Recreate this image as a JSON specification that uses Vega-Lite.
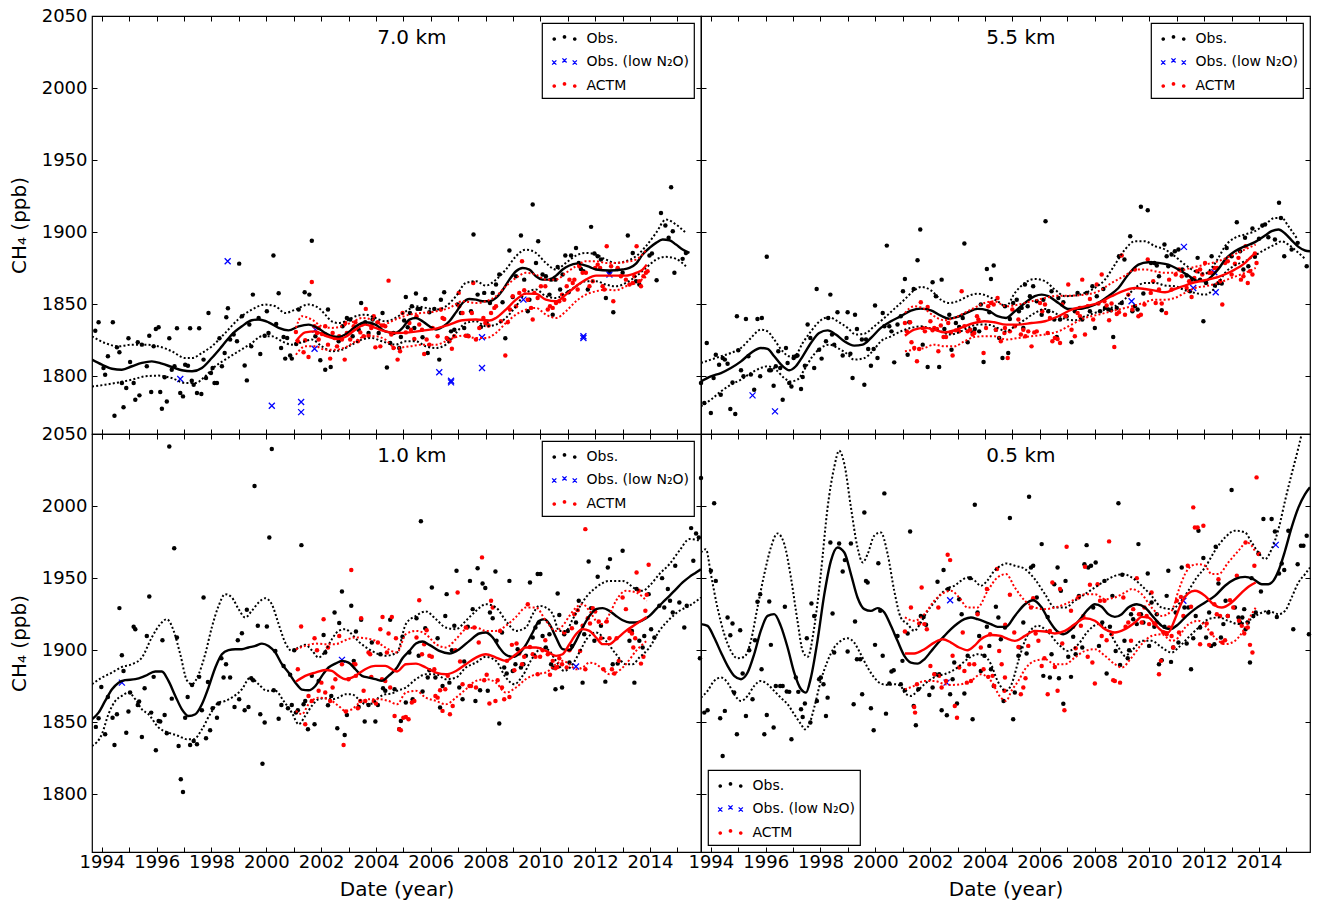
{
"$schema":"https://vega.github.io/schema/vega-lite/v6.json",
"padding":{"left":8,"top":6,"right":5,"bottom":5},
"background":"white",
"config":{
 "view":{"stroke":"black","strokeWidth":1.2},
 "font":"DejaVu Sans",
 "axis":{"grid":false,"domain":false,"tickColor":"black","tickSize":-5,"tickWidth":1,"labelFontSize":18,"labelColor":"black","labelFont":"DejaVu Sans","titleFont":"DejaVu Sans","titleFontSize":20,"titleFontWeight":"normal","titleColor":"black","labelFlush":false,"labelOverlap":false},
 "legend":{"strokeColor":"black","fillColor":"white","padding":5,"rowPadding":5.5,"symbolSize":420,"labelFontSize":14,"labelFont":"DejaVu Sans","labelColor":"black","offset":7,"symbolOffset":7,"labelOffset":11.5,"cornerRadius":0,"strokeWidth":1.2,"symbolStrokeWidth":0}
},
"data":{"values":[
{"p":"a","s":"t","x":2005.31,"y":2034.7,"t":"7.0 km"},
{"p":"b","s":"t","x":2005.31,"y":2034.7,"t":"5.5 km"},
{"p":"c","s":"t","x":2005.31,"y":2034.7,"t":"1.0 km"},
{"p":"d","s":"t","x":2005.31,"y":2034.7,"t":"0.5 km"},

{"p":"a","s":"o","x":1993.76,"y":1831.7},{"p":"a","s":"o","x":1993.88,"y":1837.5},{"p":"a","s":"o","x":1994.06,"y":1805.8},{"p":"a","s":"o","x":1994.12,"y":1801.1},{"p":"a","s":"o","x":1994.22,"y":1813.9},{"p":"a","s":"o","x":1994.40,"y":1837.5},{"p":"a","s":"o","x":1994.46,"y":1772.7},{"p":"a","s":"o","x":1994.55,"y":1820.1},{"p":"a","s":"o","x":1994.64,"y":1816.7},{"p":"a","s":"o","x":1994.73,"y":1795.4},{"p":"a","s":"o","x":1994.79,"y":1778.5},{"p":"a","s":"o","x":1994.89,"y":1791.9},{"p":"a","s":"o","x":1994.97,"y":1826.4},{"p":"a","s":"o","x":1995.03,"y":1810},{"p":"a","s":"o","x":1995.16,"y":1795.4},{"p":"a","s":"o","x":1995.22,"y":1783.8},{"p":"a","s":"o","x":1995.31,"y":1823.6},{"p":"a","s":"o","x":1995.37,"y":1786.8},{"p":"a","s":"o","x":1995.46,"y":1822},{"p":"a","s":"o","x":1995.64,"y":1807},{"p":"a","s":"o","x":1995.73,"y":1828.2},{"p":"a","s":"o","x":1995.80,"y":1789.1},{"p":"a","s":"o","x":1995.89,"y":1820.8},{"p":"a","s":"o","x":1995.97,"y":1832.9},{"p":"a","s":"o","x":1996.07,"y":1834},{"p":"a","s":"o","x":1996.13,"y":1789.1},{"p":"a","s":"o","x":1996.19,"y":1777.5},{"p":"a","s":"o","x":1996.29,"y":1799.3},{"p":"a","s":"o","x":1996.37,"y":1782.6},{"p":"a","s":"o","x":1996.46,"y":1826.4},{"p":"a","s":"o","x":1996.55,"y":1804.6},{"p":"a","s":"o","x":1996.65,"y":1807},{"p":"a","s":"o","x":1996.74,"y":1833.3},{"p":"a","s":"o","x":1996.86,"y":1788.4},{"p":"a","s":"o","x":1996.96,"y":1786.1},{"p":"a","s":"o","x":1997.04,"y":1808.1},{"p":"a","s":"o","x":1997.14,"y":1807.4},{"p":"a","s":"o","x":1997.22,"y":1833.3},{"p":"a","s":"o","x":1997.28,"y":1797},{"p":"a","s":"o","x":1997.35,"y":1794.2},{"p":"a","s":"o","x":1997.47,"y":1788.4},{"p":"a","s":"o","x":1997.55,"y":1833.3},{"p":"a","s":"o","x":1997.63,"y":1787.7},{"p":"a","s":"o","x":1997.71,"y":1811.6},{"p":"a","s":"o","x":1997.80,"y":1798.8},{"p":"a","s":"o","x":1997.89,"y":1844},{"p":"a","s":"o","x":1997.98,"y":1802.3},{"p":"a","s":"o","x":1998.04,"y":1805.8},{"p":"a","s":"o","x":1998.11,"y":1795.4},{"p":"a","s":"o","x":1998.20,"y":1795.4},{"p":"a","s":"o","x":1998.29,"y":1826.4},{"p":"a","s":"o","x":1998.38,"y":1807},{"p":"a","s":"o","x":1998.48,"y":1816.2},{"p":"a","s":"o","x":1998.54,"y":1841},{"p":"a","s":"o","x":1998.60,"y":1847.2},{"p":"a","s":"o","x":1998.68,"y":1825.5},{"p":"a","s":"o","x":1998.81,"y":1829},{"p":"a","s":"o","x":1998.93,"y":1824.3},{"p":"a","s":"o","x":1999.01,"y":1878.2},{"p":"a","s":"o","x":1999.11,"y":1841.7},{"p":"a","s":"o","x":1999.21,"y":1807.6},{"p":"a","s":"o","x":1999.29,"y":1797.2},{"p":"a","s":"o","x":1999.38,"y":1835.9},{"p":"a","s":"o","x":1999.45,"y":1820.8},{"p":"a","s":"o","x":1999.51,"y":1856.7},{"p":"a","s":"o","x":1999.72,"y":1840.5},{"p":"a","s":"o","x":1999.78,"y":1815.5},{"p":"a","s":"o","x":1999.94,"y":1828.2},{"p":"a","s":"o","x":2000.02,"y":1845.1},{"p":"a","s":"o","x":2000.08,"y":1830.1},{"p":"a","s":"o","x":2000.26,"y":1883.8},{"p":"a","s":"o","x":2000.36,"y":1836.3},{"p":"a","s":"o","x":2000.45,"y":1857.6},{"p":"a","s":"o","x":2000.54,"y":1819.7},{"p":"a","s":"o","x":2000.63,"y":1827.3},{"p":"a","s":"o","x":2000.69,"y":1812.3},{"p":"a","s":"o","x":2000.76,"y":1826.6},{"p":"a","s":"o","x":2000.87,"y":1814.4},{"p":"a","s":"o","x":2000.93,"y":1812.3},{"p":"a","s":"o","x":2001.09,"y":1822.5},{"p":"a","s":"o","x":2001.18,"y":1846.3},{"p":"a","s":"o","x":2001.40,"y":1858.3},{"p":"a","s":"o","x":2001.57,"y":1856.7},{"p":"a","s":"o","x":2001.66,"y":1894},{"p":"a","s":"o","x":2001.79,"y":1827.8},{"p":"a","s":"o","x":2001.97,"y":1811.1},{"p":"a","s":"o","x":2002.15,"y":1804.6},{"p":"a","s":"o","x":2002.25,"y":1846.3},{"p":"a","s":"o","x":2002.35,"y":1806.5},{"p":"a","s":"o","x":2002.64,"y":1824.3},{"p":"a","s":"o","x":2002.78,"y":1834.7},{"p":"a","s":"o","x":2002.94,"y":1840.5},{"p":"a","s":"o","x":2003.06,"y":1839.4},{"p":"a","s":"o","x":2003.15,"y":1827.8},{"p":"a","s":"o","x":2003.37,"y":1832.4},{"p":"a","s":"o","x":2003.46,"y":1850.9},{"p":"a","s":"o","x":2003.61,"y":1837.5},{"p":"a","s":"o","x":2003.73,"y":1830.1},{"p":"a","s":"o","x":2003.88,"y":1839.4},{"p":"a","s":"o","x":2004.10,"y":1830.1},{"p":"a","s":"o","x":2004.24,"y":1844},{"p":"a","s":"o","x":2004.40,"y":1806.2},{"p":"a","s":"o","x":2004.52,"y":1823.1},{"p":"a","s":"o","x":2004.64,"y":1830.1},
{"p":"a","s":"o","x":2004.85,"y":1819.7},{"p":"a","s":"o","x":2004.91,"y":1827.3},{"p":"a","s":"o","x":2005.03,"y":1838.7},{"p":"a","s":"o","x":2005.09,"y":1855.1},{"p":"a","s":"o","x":2005.16,"y":1834},{"p":"a","s":"o","x":2005.24,"y":1844},{"p":"a","s":"o","x":2005.31,"y":1848.6},{"p":"a","s":"o","x":2005.40,"y":1833.6},{"p":"a","s":"o","x":2005.46,"y":1857.4},{"p":"a","s":"o","x":2005.52,"y":1846.8},{"p":"a","s":"o","x":2005.61,"y":1846.8},{"p":"a","s":"o","x":2005.70,"y":1827.1},{"p":"a","s":"o","x":2005.80,"y":1853.7},{"p":"a","s":"o","x":2005.89,"y":1816.2},{"p":"a","s":"o","x":2005.95,"y":1844.4},{"p":"a","s":"o","x":2006.13,"y":1846.8},{"p":"a","s":"o","x":2006.31,"y":1811.6},{"p":"a","s":"o","x":2006.37,"y":1853.2},{"p":"a","s":"o","x":2006.49,"y":1858.3},{"p":"a","s":"o","x":2006.62,"y":1825.9},{"p":"a","s":"o","x":2006.74,"y":1831.2},{"p":"a","s":"o","x":2006.86,"y":1832.4},{"p":"a","s":"o","x":2006.98,"y":1849.8},{"p":"a","s":"o","x":2007.10,"y":1844},{"p":"a","s":"o","x":2007.22,"y":1833.6},{"p":"a","s":"o","x":2007.35,"y":1828.2},{"p":"a","s":"o","x":2007.47,"y":1845.1},{"p":"a","s":"o","x":2007.56,"y":1898.4},{"p":"a","s":"o","x":2007.71,"y":1856.7},{"p":"a","s":"o","x":2007.83,"y":1834.3},{"p":"a","s":"o","x":2007.95,"y":1857.9},{"p":"a","s":"o","x":2008.04,"y":1837},{"p":"a","s":"o","x":2008.16,"y":1850.9},{"p":"a","s":"o","x":2008.26,"y":1857.9},{"p":"a","s":"o","x":2008.38,"y":1863.7},{"p":"a","s":"o","x":2008.50,"y":1870.6},{"p":"a","s":"o","x":2008.62,"y":1851.4},{"p":"a","s":"o","x":2008.72,"y":1826.4},{"p":"a","s":"o","x":2008.87,"y":1887.3},{"p":"a","s":"o","x":2008.99,"y":1855.1},{"p":"a","s":"o","x":2009.11,"y":1869.4},{"p":"a","s":"o","x":2009.29,"y":1897.7},{"p":"a","s":"o","x":2009.41,"y":1867.1},{"p":"a","s":"o","x":2009.54,"y":1845.1},{"p":"a","s":"o","x":2009.60,"y":1853.2},{"p":"a","s":"o","x":2009.72,"y":1919.2},{"p":"a","s":"o","x":2009.84,"y":1878.7},{"p":"a","s":"o","x":2009.92,"y":1893.7},{"p":"a","s":"o","x":2010.08,"y":1870.6},{"p":"a","s":"o","x":2010.20,"y":1869.4},{"p":"a","s":"o","x":2010.33,"y":1856.7},{"p":"a","s":"o","x":2010.39,"y":1867.1},{"p":"a","s":"o","x":2010.45,"y":1842.8},{"p":"a","s":"o","x":2010.55,"y":1867.1},{"p":"a","s":"o","x":2010.63,"y":1875.9},{"p":"a","s":"o","x":2010.72,"y":1860.2},{"p":"a","s":"o","x":2010.81,"y":1870.6},{"p":"a","s":"o","x":2010.91,"y":1883.8},{"p":"a","s":"o","x":2011.03,"y":1858.3},{"p":"a","s":"o","x":2011.12,"y":1883.8},{"p":"a","s":"o","x":2011.30,"y":1889.1},{"p":"a","s":"o","x":2011.40,"y":1878.7},{"p":"a","s":"o","x":2011.48,"y":1874.5},{"p":"a","s":"o","x":2011.57,"y":1872.9},{"p":"a","s":"o","x":2011.73,"y":1860.2},{"p":"a","s":"o","x":2011.85,"y":1903.7},{"p":"a","s":"o","x":2011.97,"y":1885.2},{"p":"a","s":"o","x":2012.09,"y":1883.3},{"p":"a","s":"o","x":2012.21,"y":1881},{"p":"a","s":"o","x":2012.39,"y":1854.4},{"p":"a","s":"o","x":2012.52,"y":1871.8},{"p":"a","s":"o","x":2012.66,"y":1844.4},{"p":"a","s":"o","x":2012.82,"y":1874.5},{"p":"a","s":"o","x":2013.00,"y":1871.8},{"p":"a","s":"o","x":2013.19,"y":1897.7},{"p":"a","s":"o","x":2013.37,"y":1885.6},{"p":"a","s":"o","x":2013.49,"y":1866},{"p":"a","s":"o","x":2013.61,"y":1863.7},{"p":"a","s":"o","x":2013.98,"y":1883.8},{"p":"a","s":"o","x":2014.07,"y":1885.2},{"p":"a","s":"o","x":2014.24,"y":1866.7},{"p":"a","s":"o","x":2014.40,"y":1913.4},{"p":"a","s":"o","x":2014.56,"y":1904.6},{"p":"a","s":"o","x":2014.68,"y":1896.1},{"p":"a","s":"o","x":2014.83,"y":1900.7},{"p":"a","s":"o","x":2014.89,"y":1871.8},{"p":"a","s":"o","x":2015.19,"y":1881.5},{"p":"a","s":"o","x":2015.31,"y":1885.6},{"p":"a","s":"o","x":2014.77,"y":1931.2},

{"p":"a","s":"n","x":1998.59,"y":1879.9},{"p":"a","s":"n","x":1996.86,"y":1798.1},{"p":"a","s":"n","x":2000.20,"y":1779.6},{"p":"a","s":"n","x":2001.27,"y":1782.2},{"p":"a","s":"n","x":2001.27,"y":1775.2},{"p":"a","s":"n","x":2001.76,"y":1819.2},{"p":"a","s":"n","x":2001.79,"y":1832.4},{"p":"a","s":"n","x":2006.31,"y":1802.8},{"p":"a","s":"n","x":2006.74,"y":1797},{"p":"a","s":"n","x":2006.74,"y":1795.8},{"p":"a","s":"n","x":2007.87,"y":1805.8},{"p":"a","s":"n","x":2007.87,"y":1827.1},{"p":"a","s":"n","x":2009.38,"y":1853.2},{"p":"a","s":"n","x":2011.57,"y":1827.8},{"p":"a","s":"n","x":2011.57,"y":1826.6},{"p":"a","s":"n","x":2012.52,"y":1870.6},

{"p":"a","s":"m","x":2001.08,"y":1830.8},{"p":"a","s":"m","x":2001.15,"y":1824.3},{"p":"a","s":"m","x":2001.36,"y":1816.7},{"p":"a","s":"m","x":2001.42,"y":1825},{"p":"a","s":"m","x":2001.54,"y":1813.4},{"p":"a","s":"m","x":2001.66,"y":1865.5},{"p":"a","s":"m","x":2001.76,"y":1834.7},{"p":"a","s":"m","x":2001.85,"y":1830.1},{"p":"a","s":"m","x":2001.91,"y":1825.5},{"p":"a","s":"m","x":2002.03,"y":1829.4},{"p":"a","s":"m","x":2002.15,"y":1829},{"p":"a","s":"m","x":2002.25,"y":1822},{"p":"a","s":"m","x":2002.33,"y":1812.3},{"p":"a","s":"m","x":2002.42,"y":1830.1},{"p":"a","s":"m","x":2002.49,"y":1826.6},{"p":"a","s":"m","x":2002.58,"y":1820.8},{"p":"a","s":"m","x":2002.66,"y":1827.8},{"p":"a","s":"m","x":2002.76,"y":1825.5},{"p":"a","s":"m","x":2002.86,"y":1811.6},{"p":"a","s":"m","x":2002.94,"y":1830.1},{"p":"a","s":"m","x":2003.06,"y":1825.5},{"p":"a","s":"m","x":2003.15,"y":1832.4},{"p":"a","s":"m","x":2003.25,"y":1837.5},{"p":"a","s":"m","x":2003.34,"y":1824.3},{"p":"a","s":"m","x":2003.43,"y":1830.5},{"p":"a","s":"m","x":2003.55,"y":1827.8},{"p":"a","s":"m","x":2003.63,"y":1846.8},{"p":"a","s":"m","x":2003.73,"y":1828.2},{"p":"a","s":"m","x":2003.83,"y":1833.6},{"p":"a","s":"m","x":2003.92,"y":1841.7},{"p":"a","s":"m","x":2003.98,"y":1820.1},{"p":"a","s":"m","x":2004.07,"y":1837.5},{"p":"a","s":"m","x":2004.16,"y":1820.8},{"p":"a","s":"m","x":2004.22,"y":1835.2},{"p":"a","s":"m","x":2004.34,"y":1834.7},{"p":"a","s":"m","x":2004.46,"y":1866.4},{"p":"a","s":"m","x":2004.56,"y":1829},{"p":"a","s":"m","x":2004.64,"y":1819.7},{"p":"a","s":"m","x":2001.91,"y":1833.6},{"p":"a","s":"m","x":2002.15,"y":1834.7},{"p":"a","s":"m","x":2002.88,"y":1837},{"p":"a","s":"m","x":2003.19,"y":1834.7},{"p":"a","s":"m","x":2003.49,"y":1835.9},{"p":"a","s":"m","x":2003.85,"y":1835.9},
{"p":"a","s":"m","x":2004.79,"y":1811.6},{"p":"a","s":"m","x":2004.88,"y":1817.4},{"p":"a","s":"m","x":2004.97,"y":1844},{"p":"a","s":"m","x":2005.09,"y":1830.5},{"p":"a","s":"m","x":2005.22,"y":1837},{"p":"a","s":"m","x":2005.28,"y":1832.4},{"p":"a","s":"m","x":2005.40,"y":1825.9},{"p":"a","s":"m","x":2005.48,"y":1841.7},{"p":"a","s":"m","x":2005.58,"y":1835.9},{"p":"a","s":"m","x":2005.68,"y":1832.4},{"p":"a","s":"m","x":2005.76,"y":1815.5},{"p":"a","s":"m","x":2005.85,"y":1825.5},{"p":"a","s":"m","x":2005.95,"y":1822},{"p":"a","s":"m","x":2006.07,"y":1833.6},{"p":"a","s":"m","x":2006.25,"y":1827.8},{"p":"a","s":"m","x":2006.37,"y":1846.3},{"p":"a","s":"m","x":2006.43,"y":1840.5},{"p":"a","s":"m","x":2006.49,"y":1839.8},{"p":"a","s":"m","x":2006.58,"y":1826.6},{"p":"a","s":"m","x":2006.68,"y":1824.3},{"p":"a","s":"m","x":2006.77,"y":1819.2},{"p":"a","s":"m","x":2006.86,"y":1827.8},{"p":"a","s":"m","x":2007.02,"y":1857.9},{"p":"a","s":"m","x":2007.04,"y":1848.6},{"p":"a","s":"m","x":2007.16,"y":1844},{"p":"a","s":"m","x":2007.28,"y":1828.2},{"p":"a","s":"m","x":2007.38,"y":1827.8},{"p":"a","s":"m","x":2007.50,"y":1844},{"p":"a","s":"m","x":2007.55,"y":1864.8},{"p":"a","s":"m","x":2007.65,"y":1825.5},{"p":"a","s":"m","x":2007.77,"y":1833.6},{"p":"a","s":"m","x":2007.92,"y":1840.5},{"p":"a","s":"m","x":2007.99,"y":1837},{"p":"a","s":"m","x":2008.11,"y":1835.2},{"p":"a","s":"m","x":2008.20,"y":1844},{"p":"a","s":"m","x":2008.32,"y":1847.5},{"p":"a","s":"m","x":2008.38,"y":1848.6},{"p":"a","s":"m","x":2008.56,"y":1838.2},{"p":"a","s":"m","x":2008.72,"y":1814.4},{"p":"a","s":"m","x":2008.81,"y":1837.5},{"p":"a","s":"m","x":2008.89,"y":1846.3},{"p":"a","s":"m","x":2008.99,"y":1855.6},{"p":"a","s":"m","x":2009.11,"y":1848.6},{"p":"a","s":"m","x":2009.23,"y":1857.9},{"p":"a","s":"m","x":2009.33,"y":1879.9},{"p":"a","s":"m","x":2009.41,"y":1859.7},{"p":"a","s":"m","x":2009.54,"y":1853.2},{"p":"a","s":"m","x":2009.66,"y":1847.5},{"p":"a","s":"m","x":2009.72,"y":1839.4},{"p":"a","s":"m","x":2009.78,"y":1857.9},{"p":"a","s":"m","x":2009.90,"y":1854.4},{"p":"a","s":"m","x":2010.02,"y":1862.5},{"p":"a","s":"m","x":2010.18,"y":1862.5},{"p":"a","s":"m","x":2010.27,"y":1846.3},{"p":"a","s":"m","x":2010.35,"y":1848.6},{"p":"a","s":"m","x":2010.45,"y":1847.5},{"p":"a","s":"m","x":2010.57,"y":1850.9},{"p":"a","s":"m","x":2010.69,"y":1852.1},{"p":"a","s":"m","x":2010.79,"y":1856.7},{"p":"a","s":"m","x":2010.87,"y":1853.2},{"p":"a","s":"m","x":2010.96,"y":1862.5},{"p":"a","s":"m","x":2011.06,"y":1867.1},{"p":"a","s":"m","x":2011.18,"y":1864.8},{"p":"a","s":"m","x":2011.24,"y":1867.1},{"p":"a","s":"m","x":2011.36,"y":1860.2},{"p":"a","s":"m","x":2011.42,"y":1876.4},{"p":"a","s":"m","x":2011.54,"y":1871.8},{"p":"a","s":"m","x":2011.66,"y":1871.8},{"p":"a","s":"m","x":2011.79,"y":1862.5},{"p":"a","s":"m","x":2011.91,"y":1866},{"p":"a","s":"m","x":2012.00,"y":1875.2},{"p":"a","s":"m","x":2012.09,"y":1877.5},{"p":"a","s":"m","x":2012.18,"y":1875.2},{"p":"a","s":"m","x":2012.27,"y":1862.5},{"p":"a","s":"m","x":2012.33,"y":1860.2},{"p":"a","s":"m","x":2012.42,"y":1890.3},{"p":"a","s":"m","x":2012.58,"y":1876.4},{"p":"a","s":"m","x":2012.66,"y":1852.1},{"p":"a","s":"m","x":2012.82,"y":1875.2},{"p":"a","s":"m","x":2012.94,"y":1869.4},{"p":"a","s":"m","x":2013.12,"y":1867.1},{"p":"a","s":"m","x":2013.25,"y":1863.7},{"p":"a","s":"m","x":2013.37,"y":1864.8},{"p":"a","s":"m","x":2013.43,"y":1869.4},{"p":"a","s":"m","x":2013.51,"y":1890.3},{"p":"a","s":"m","x":2013.61,"y":1866},{"p":"a","s":"m","x":2013.67,"y":1862.5},{"p":"a","s":"m","x":2013.76,"y":1869.4},{"p":"a","s":"m","x":2013.85,"y":1871.8},{"p":"a","s":"m","x":2013.91,"y":1872.9},

{"p":"a","s":"of","x":1993.64,"y":1811.6},{"p":"a","s":"of","x":1994.00,"y":1808.1},{"p":"a","s":"of","x":1994.37,"y":1805.3},{"p":"a","s":"of","x":1994.73,"y":1804.6},{"p":"a","s":"of","x":1995.10,"y":1807},{"p":"a","s":"of","x":1995.46,"y":1809.3},{"p":"a","s":"of","x":1995.82,"y":1810.4},{"p":"a","s":"of","x":1996.19,"y":1808.8},{"p":"a","s":"of","x":1996.55,"y":1806.5},{"p":"a","s":"of","x":1996.92,"y":1804.2},{"p":"a","s":"of","x":1997.29,"y":1803.5},{"p":"a","s":"of","x":1997.65,"y":1805.8},{"p":"a","s":"of","x":1998.01,"y":1812.7},{"p":"a","s":"of","x":1998.38,"y":1820.8},{"p":"a","s":"of","x":1998.74,"y":1829},{"p":"a","s":"of","x":1999.11,"y":1834.7},{"p":"a","s":"of","x":1999.47,"y":1838.9},{"p":"a","s":"of","x":1999.72,"y":1839.4},{"p":"a","s":"of","x":2000.08,"y":1837.5},{"p":"a","s":"of","x":2000.45,"y":1833.6},{"p":"a","s":"of","x":2000.81,"y":1831.9},{"p":"a","s":"of","x":2001.18,"y":1834.7},{"p":"a","s":"of","x":2001.54,"y":1835.9},{"p":"a","s":"of","x":2001.91,"y":1833.1},{"p":"a","s":"of","x":2002.15,"y":1830.1},{"p":"a","s":"of","x":2002.39,"y":1827.8},{"p":"a","s":"of","x":2002.64,"y":1827.3},{"p":"a","s":"of","x":2002.88,"y":1829},{"p":"a","s":"of","x":2003.12,"y":1832.4},{"p":"a","s":"of","x":2003.37,"y":1835.9},{"p":"a","s":"of","x":2003.61,"y":1837.5},{"p":"a","s":"of","x":2003.98,"y":1835.9},{"p":"a","s":"of","x":2004.34,"y":1831.2},{"p":"a","s":"of","x":2004.71,"y":1830.1},{"p":"a","s":"of","x":2004.97,"y":1833.6},{"p":"a","s":"of","x":2005.22,"y":1839.4},{"p":"a","s":"of","x":2005.46,"y":1840.5},{"p":"a","s":"of","x":2005.70,"y":1838.2},{"p":"a","s":"of","x":2005.95,"y":1834.7},{"p":"a","s":"of","x":2006.19,"y":1832.4},{"p":"a","s":"of","x":2006.43,"y":1834.3},{"p":"a","s":"of","x":2006.68,"y":1838.2},{"p":"a","s":"of","x":2006.92,"y":1844.4},{"p":"a","s":"of","x":2007.16,"y":1850.9},{"p":"a","s":"of","x":2007.41,"y":1853.7},{"p":"a","s":"of","x":2007.65,"y":1853.2},{"p":"a","s":"of","x":2007.89,"y":1852.1},{"p":"a","s":"of","x":2008.14,"y":1852.1},{"p":"a","s":"of","x":2008.38,"y":1854.4},{"p":"a","s":"of","x":2008.62,"y":1859.7},{"p":"a","s":"of","x":2008.87,"y":1867.1},{"p":"a","s":"of","x":2009.11,"y":1872.9},{"p":"a","s":"of","x":2009.35,"y":1875.2},{"p":"a","s":"of","x":2009.60,"y":1874.1},{"p":"a","s":"of","x":2009.84,"y":1869.4},{"p":"a","s":"of","x":2010.08,"y":1867.1},{"p":"a","s":"of","x":2010.33,"y":1867.1},{"p":"a","s":"of","x":2010.57,"y":1869.9},{"p":"a","s":"of","x":2010.81,"y":1874.1},{"p":"a","s":"of","x":2011.06,"y":1876.9},{"p":"a","s":"of","x":2011.30,"y":1878.2},{"p":"a","s":"of","x":2011.54,"y":1877.5},{"p":"a","s":"of","x":2011.79,"y":1875.9},{"p":"a","s":"of","x":2012.03,"y":1874.1},{"p":"a","s":"of","x":2012.52,"y":1873.4},{"p":"a","s":"of","x":2013.00,"y":1874.1},{"p":"a","s":"of","x":2013.25,"y":1875.2},{"p":"a","s":"of","x":2013.49,"y":1878.2},{"p":"a","s":"of","x":2013.73,"y":1884.5},{"p":"a","s":"of","x":2013.98,"y":1889.1},{"p":"a","s":"of","x":2014.22,"y":1892.6},{"p":"a","s":"of","x":2014.46,"y":1894.9},{"p":"a","s":"of","x":2014.71,"y":1894.4},{"p":"a","s":"of","x":2014.95,"y":1891.4},{"p":"a","s":"of","x":2015.19,"y":1888},{"p":"a","s":"of","x":2015.44,"y":1885.6},

{"p":"a","s":"oh","x":1993.64,"y":1827.8},{"p":"a","s":"oh","x":1994.12,"y":1823.1},{"p":"a","s":"oh","x":1994.61,"y":1820.8},{"p":"a","s":"oh","x":1995.10,"y":1822},{"p":"a","s":"oh","x":1995.58,"y":1822},{"p":"a","s":"oh","x":1996.07,"y":1820.8},{"p":"a","s":"oh","x":1996.55,"y":1817.4},{"p":"a","s":"oh","x":1997.04,"y":1812.7},{"p":"a","s":"oh","x":1997.29,"y":1812.7},{"p":"a","s":"oh","x":1997.65,"y":1816.2},{"p":"a","s":"oh","x":1998.01,"y":1820.8},{"p":"a","s":"oh","x":1998.50,"y":1830.1},{"p":"a","s":"oh","x":1998.99,"y":1839.8},{"p":"a","s":"oh","x":1999.47,"y":1846.3},{"p":"a","s":"oh","x":1999.96,"y":1849.8},{"p":"a","s":"oh","x":2000.33,"y":1848.6},{"p":"a","s":"oh","x":2000.69,"y":1844},{"p":"a","s":"oh","x":2001.06,"y":1846.3},{"p":"a","s":"oh","x":2001.54,"y":1849.8},{"p":"a","s":"oh","x":2001.91,"y":1847.5},{"p":"a","s":"oh","x":2002.15,"y":1842.8},{"p":"a","s":"oh","x":2002.39,"y":1838.2},{"p":"a","s":"oh","x":2002.64,"y":1837},{"p":"a","s":"oh","x":2002.88,"y":1838.2},{"p":"a","s":"oh","x":2003.25,"y":1841.7},{"p":"a","s":"oh","x":2003.61,"y":1842.8},{"p":"a","s":"oh","x":2003.98,"y":1840.5},{"p":"a","s":"oh","x":2004.34,"y":1838.2},{"p":"a","s":"oh","x":2004.71,"y":1840.5},{"p":"a","s":"oh","x":2005.09,"y":1845.1},{"p":"a","s":"oh","x":2005.46,"y":1848.6},{"p":"a","s":"oh","x":2005.82,"y":1847.5},{"p":"a","s":"oh","x":2006.19,"y":1846.3},{"p":"a","s":"oh","x":2006.55,"y":1848.6},{"p":"a","s":"oh","x":2006.92,"y":1855.6},{"p":"a","s":"oh","x":2007.28,"y":1864.8},{"p":"a","s":"oh","x":2007.65,"y":1866},{"p":"a","s":"oh","x":2008.01,"y":1863},{"p":"a","s":"oh","x":2008.38,"y":1867.1},{"p":"a","s":"oh","x":2008.74,"y":1874.1},{"p":"a","s":"oh","x":2009.11,"y":1883.3},{"p":"a","s":"oh","x":2009.47,"y":1887.9},{"p":"a","s":"oh","x":2009.84,"y":1885.6},{"p":"a","s":"oh","x":2010.20,"y":1878.7},{"p":"a","s":"oh","x":2010.57,"y":1874.1},{"p":"a","s":"oh","x":2010.93,"y":1878.7},{"p":"a","s":"oh","x":2011.30,"y":1883.8},{"p":"a","s":"oh","x":2011.66,"y":1885.6},{"p":"a","s":"oh","x":2012.03,"y":1884.5},{"p":"a","s":"oh","x":2012.39,"y":1881},{"p":"a","s":"oh","x":2012.76,"y":1878.7},{"p":"a","s":"oh","x":2013.12,"y":1879.9},{"p":"a","s":"oh","x":2013.49,"y":1883.3},{"p":"a","s":"oh","x":2013.85,"y":1890.3},{"p":"a","s":"oh","x":2014.22,"y":1899.5},{"p":"a","s":"oh","x":2014.58,"y":1908.8},{"p":"a","s":"oh","x":2014.95,"y":1905.3},{"p":"a","s":"oh","x":2015.31,"y":1899.5},

{"p":"a","s":"ol","x":1993.64,"y":1793},{"p":"a","s":"ol","x":1994.12,"y":1794.2},{"p":"a","s":"ol","x":1994.61,"y":1795.8},{"p":"a","s":"ol","x":1995.10,"y":1797.7},{"p":"a","s":"ol","x":1995.58,"y":1800},{"p":"a","s":"ol","x":1996.07,"y":1800.5},{"p":"a","s":"ol","x":1996.55,"y":1798.8},{"p":"a","s":"ol","x":1997.04,"y":1795.4},{"p":"a","s":"ol","x":1997.41,"y":1795.4},{"p":"a","s":"ol","x":1997.77,"y":1800},{"p":"a","s":"ol","x":1998.14,"y":1807},{"p":"a","s":"ol","x":1998.50,"y":1811.6},{"p":"a","s":"ol","x":1998.99,"y":1817.4},{"p":"a","s":"ol","x":1999.47,"y":1823.1},{"p":"a","s":"ol","x":1999.84,"y":1827.8},{"p":"a","s":"ol","x":2000.20,"y":1827.8},{"p":"a","s":"ol","x":2000.57,"y":1824.3},{"p":"a","s":"ol","x":2000.93,"y":1822},{"p":"a","s":"ol","x":2001.30,"y":1823.6},{"p":"a","s":"ol","x":2001.66,"y":1825.5},{"p":"a","s":"ol","x":2002.03,"y":1820.8},{"p":"a","s":"ol","x":2002.39,"y":1817.4},{"p":"a","s":"ol","x":2002.76,"y":1818.5},{"p":"a","s":"ol","x":2003.12,"y":1822},{"p":"a","s":"ol","x":2003.49,"y":1825.5},{"p":"a","s":"ol","x":2003.85,"y":1826.6},{"p":"a","s":"ol","x":2004.22,"y":1824.3},{"p":"a","s":"ol","x":2004.71,"y":1822},{"p":"a","s":"ol","x":2005.09,"y":1824.3},{"p":"a","s":"ol","x":2005.46,"y":1824.3},{"p":"a","s":"ol","x":2005.82,"y":1820.8},{"p":"a","s":"ol","x":2006.19,"y":1819.7},{"p":"a","s":"ol","x":2006.55,"y":1822},{"p":"a","s":"ol","x":2006.92,"y":1830.1},{"p":"a","s":"ol","x":2007.28,"y":1837},{"p":"a","s":"ol","x":2007.65,"y":1838.2},{"p":"a","s":"ol","x":2008.01,"y":1834.7},{"p":"a","s":"ol","x":2008.38,"y":1835.9},{"p":"a","s":"ol","x":2008.74,"y":1840.5},{"p":"a","s":"ol","x":2009.11,"y":1848.6},{"p":"a","s":"ol","x":2009.47,"y":1857.9},{"p":"a","s":"ol","x":2009.84,"y":1860.2},{"p":"a","s":"ol","x":2010.20,"y":1855.6},{"p":"a","s":"ol","x":2010.57,"y":1854.4},{"p":"a","s":"ol","x":2010.93,"y":1857.9},{"p":"a","s":"ol","x":2011.30,"y":1862.5},{"p":"a","s":"ol","x":2011.66,"y":1866},{"p":"a","s":"ol","x":2012.03,"y":1866},{"p":"a","s":"ol","x":2012.39,"y":1863.7},{"p":"a","s":"ol","x":2012.76,"y":1862.5},{"p":"a","s":"ol","x":2013.12,"y":1864.8},{"p":"a","s":"ol","x":2013.49,"y":1869.4},{"p":"a","s":"ol","x":2013.85,"y":1875.2},{"p":"a","s":"ol","x":2014.22,"y":1881},{"p":"a","s":"ol","x":2014.58,"y":1882.9},{"p":"a","s":"ol","x":2014.95,"y":1881.5},{"p":"a","s":"ol","x":2015.31,"y":1876.4},

{"p":"a","s":"mf","x":2001.08,"y":1824.3},{"p":"a","s":"mf","x":2001.42,"y":1830.5},{"p":"a","s":"mf","x":2001.79,"y":1831.2},{"p":"a","s":"mf","x":2002.15,"y":1828.2},{"p":"a","s":"mf","x":2002.64,"y":1825.9},{"p":"a","s":"mf","x":2002.88,"y":1827.3},{"p":"a","s":"mf","x":2003.25,"y":1832.4},{"p":"a","s":"mf","x":2003.61,"y":1835.9},{"p":"a","s":"mf","x":2003.98,"y":1833.6},{"p":"a","s":"mf","x":2004.34,"y":1831.2},{"p":"a","s":"mf","x":2004.71,"y":1830.1},{"p":"a","s":"mf","x":2005.22,"y":1830.5},{"p":"a","s":"mf","x":2005.70,"y":1831.7},{"p":"a","s":"mf","x":2006.19,"y":1833.1},{"p":"a","s":"mf","x":2006.68,"y":1835.9},{"p":"a","s":"mf","x":2007.16,"y":1838.9},{"p":"a","s":"mf","x":2007.65,"y":1839.4},{"p":"a","s":"mf","x":2008.14,"y":1838.7},{"p":"a","s":"mf","x":2008.38,"y":1840.5},{"p":"a","s":"mf","x":2008.74,"y":1846.3},{"p":"a","s":"mf","x":2009.11,"y":1853.2},{"p":"a","s":"mf","x":2009.47,"y":1857.4},{"p":"a","s":"mf","x":2009.84,"y":1857.2},{"p":"a","s":"mf","x":2010.20,"y":1853.2},{"p":"a","s":"mf","x":2010.57,"y":1852.1},{"p":"a","s":"mf","x":2010.93,"y":1856.7},{"p":"a","s":"mf","x":2011.30,"y":1862.5},{"p":"a","s":"mf","x":2011.66,"y":1867.1},{"p":"a","s":"mf","x":2012.03,"y":1869.9},{"p":"a","s":"mf","x":2012.52,"y":1869.9},{"p":"a","s":"mf","x":2013.12,"y":1869.9},{"p":"a","s":"mf","x":2013.49,"y":1871.8},{"p":"a","s":"mf","x":2013.73,"y":1874.1},{"p":"a","s":"mf","x":2013.88,"y":1877.5},

{"p":"a","s":"mh","x":2001.08,"y":1833.6},{"p":"a","s":"mh","x":2001.30,"y":1841.7},{"p":"a","s":"mh","x":2001.66,"y":1839.4},{"p":"a","s":"mh","x":2002.03,"y":1834.7},{"p":"a","s":"mh","x":2002.39,"y":1833.6},{"p":"a","s":"mh","x":2002.76,"y":1834.7},{"p":"a","s":"mh","x":2003.12,"y":1837.5},{"p":"a","s":"mh","x":2003.49,"y":1840.5},{"p":"a","s":"mh","x":2003.85,"y":1839.4},{"p":"a","s":"mh","x":2004.22,"y":1835.9},{"p":"a","s":"mh","x":2004.71,"y":1839.4},{"p":"a","s":"mh","x":2005.22,"y":1842.8},{"p":"a","s":"mh","x":2005.70,"y":1844},{"p":"a","s":"mh","x":2006.19,"y":1845.1},{"p":"a","s":"mh","x":2006.68,"y":1847.5},{"p":"a","s":"mh","x":2007.16,"y":1852.1},{"p":"a","s":"mh","x":2007.65,"y":1850.9},{"p":"a","s":"mh","x":2008.01,"y":1852.1},{"p":"a","s":"mh","x":2008.38,"y":1855.6},{"p":"a","s":"mh","x":2008.74,"y":1862.5},{"p":"a","s":"mh","x":2009.11,"y":1868.3},{"p":"a","s":"mh","x":2009.47,"y":1871.8},{"p":"a","s":"mh","x":2009.84,"y":1870.6},{"p":"a","s":"mh","x":2010.20,"y":1867.1},{"p":"a","s":"mh","x":2010.57,"y":1867.1},{"p":"a","s":"mh","x":2010.93,"y":1871.8},{"p":"a","s":"mh","x":2011.30,"y":1876.4},{"p":"a","s":"mh","x":2011.66,"y":1879.9},{"p":"a","s":"mh","x":2012.03,"y":1879.9},{"p":"a","s":"mh","x":2012.39,"y":1878.7},{"p":"a","s":"mh","x":2012.76,"y":1878.7},{"p":"a","s":"mh","x":2013.12,"y":1879.4},{"p":"a","s":"mh","x":2013.49,"y":1881},{"p":"a","s":"mh","x":2013.88,"y":1888},

{"p":"a","s":"ml","x":2001.08,"y":1815},{"p":"a","s":"ml","x":2001.42,"y":1820.8},{"p":"a","s":"ml","x":2001.79,"y":1820.8},{"p":"a","s":"ml","x":2002.15,"y":1818.5},{"p":"a","s":"ml","x":2002.52,"y":1818.5},{"p":"a","s":"ml","x":2002.88,"y":1820.1},{"p":"a","s":"ml","x":2003.25,"y":1824.3},{"p":"a","s":"ml","x":2003.61,"y":1827.8},{"p":"a","s":"ml","x":2003.98,"y":1827.8},{"p":"a","s":"ml","x":2004.34,"y":1825.5},{"p":"a","s":"ml","x":2004.71,"y":1819.7},{"p":"a","s":"ml","x":2005.22,"y":1820.8},{"p":"a","s":"ml","x":2005.70,"y":1822},{"p":"a","s":"ml","x":2006.19,"y":1822},{"p":"a","s":"ml","x":2006.68,"y":1825.5},{"p":"a","s":"ml","x":2007.16,"y":1828.2},{"p":"a","s":"ml","x":2007.65,"y":1826.6},{"p":"a","s":"ml","x":2008.01,"y":1826.6},{"p":"a","s":"ml","x":2008.38,"y":1830.1},{"p":"a","s":"ml","x":2008.74,"y":1837},{"p":"a","s":"ml","x":2009.11,"y":1842.8},{"p":"a","s":"ml","x":2009.47,"y":1846.3},{"p":"a","s":"ml","x":2009.84,"y":1847.5},{"p":"a","s":"ml","x":2010.20,"y":1842.8},{"p":"a","s":"ml","x":2010.57,"y":1840.5},{"p":"a","s":"ml","x":2010.93,"y":1845.1},{"p":"a","s":"ml","x":2011.30,"y":1852.1},{"p":"a","s":"ml","x":2011.66,"y":1856.7},{"p":"a","s":"ml","x":2012.03,"y":1859},{"p":"a","s":"ml","x":2012.39,"y":1860.2},{"p":"a","s":"ml","x":2012.76,"y":1859.7},{"p":"a","s":"ml","x":2013.12,"y":1862.5},{"p":"a","s":"ml","x":2013.49,"y":1864.8},{"p":"a","s":"ml","x":2013.88,"y":1869.4},

{"p":"b","s":"o","x":1993.64,"y":1795.4},{"p":"b","s":"o","x":1993.76,"y":1781.5},{"p":"b","s":"o","x":1993.85,"y":1823.1},{"p":"b","s":"o","x":1994.00,"y":1774.5},{"p":"b","s":"o","x":1994.10,"y":1798.8},{"p":"b","s":"o","x":1994.18,"y":1815},{"p":"b","s":"o","x":1994.30,"y":1808.1},{"p":"b","s":"o","x":1994.36,"y":1787.3},{"p":"b","s":"o","x":1994.43,"y":1812.7},{"p":"b","s":"o","x":1994.51,"y":1811.6},{"p":"b","s":"o","x":1994.61,"y":1808.8},{"p":"b","s":"o","x":1994.71,"y":1777.3},{"p":"b","s":"o","x":1994.79,"y":1795.8},{"p":"b","s":"o","x":1994.89,"y":1773.8},{"p":"b","s":"o","x":1994.95,"y":1841.7},{"p":"b","s":"o","x":1995.00,"y":1818.1},{"p":"b","s":"o","x":1995.10,"y":1804.2},{"p":"b","s":"o","x":1995.19,"y":1800},{"p":"b","s":"o","x":1995.28,"y":1839.8},{"p":"b","s":"o","x":1995.37,"y":1813.9},{"p":"b","s":"o","x":1995.46,"y":1801.2},{"p":"b","s":"o","x":1995.58,"y":1790.7},{"p":"b","s":"o","x":1995.70,"y":1839.8},{"p":"b","s":"o","x":1995.80,"y":1800},{"p":"b","s":"o","x":1995.86,"y":1840.5},{"p":"b","s":"o","x":1996.04,"y":1882.9},{"p":"b","s":"o","x":1996.13,"y":1804.2},{"p":"b","s":"o","x":1996.19,"y":1804.2},{"p":"b","s":"o","x":1996.29,"y":1793.5},{"p":"b","s":"o","x":1996.37,"y":1807},{"p":"b","s":"o","x":1996.46,"y":1817.4},{"p":"b","s":"o","x":1996.53,"y":1805.8},{"p":"b","s":"o","x":1996.62,"y":1783.8},{"p":"b","s":"o","x":1996.74,"y":1819.7},{"p":"b","s":"o","x":1996.80,"y":1809.3},{"p":"b","s":"o","x":1996.86,"y":1795.4},{"p":"b","s":"o","x":1996.94,"y":1793},{"p":"b","s":"o","x":1997.02,"y":1812.7},{"p":"b","s":"o","x":1997.10,"y":1813.9},{"p":"b","s":"o","x":1997.16,"y":1814.4},{"p":"b","s":"o","x":1997.29,"y":1791.2},{"p":"b","s":"o","x":1997.35,"y":1799.5},{"p":"b","s":"o","x":1997.43,"y":1807.4},{"p":"b","s":"o","x":1997.53,"y":1835.9},{"p":"b","s":"o","x":1997.63,"y":1826.6},{"p":"b","s":"o","x":1997.77,"y":1805.8},{"p":"b","s":"o","x":1997.86,"y":1860.6},{"p":"b","s":"o","x":1997.95,"y":1818.5},{"p":"b","s":"o","x":1998.04,"y":1812.3},{"p":"b","s":"o","x":1998.20,"y":1824.3},{"p":"b","s":"o","x":1998.28,"y":1840.5},{"p":"b","s":"o","x":1998.36,"y":1856.7},{"p":"b","s":"o","x":1998.42,"y":1829},{"p":"b","s":"o","x":1998.50,"y":1822},{"p":"b","s":"o","x":1998.62,"y":1844.4},{"p":"b","s":"o","x":1998.81,"y":1814.4},{"p":"b","s":"o","x":1998.95,"y":1826.6},{"p":"b","s":"o","x":1998.99,"y":1844.4},{"p":"b","s":"o","x":1999.09,"y":1815.7},{"p":"b","s":"o","x":1999.17,"y":1798.8},{"p":"b","s":"o","x":1999.26,"y":1842.8},{"p":"b","s":"o","x":1999.33,"y":1832.9},{"p":"b","s":"o","x":1999.51,"y":1825.5},{"p":"b","s":"o","x":1999.60,"y":1794.2},{"p":"b","s":"o","x":1999.66,"y":1825.5},{"p":"b","s":"o","x":1999.74,"y":1819},{"p":"b","s":"o","x":1999.84,"y":1807.4},{"p":"b","s":"o","x":1999.94,"y":1819},{"p":"b","s":"o","x":1999.99,"y":1849.1},{"p":"b","s":"o","x":2000.08,"y":1812.7},{"p":"b","s":"o","x":2000.27,"y":1844},{"p":"b","s":"o","x":2000.33,"y":1834.7},{"p":"b","s":"o","x":2000.42,"y":1890.7},{"p":"b","s":"o","x":2000.51,"y":1834.7},{"p":"b","s":"o","x":2000.59,"y":1831.2},{"p":"b","s":"o","x":2000.69,"y":1809.7},{"p":"b","s":"o","x":2000.81,"y":1835.9},{"p":"b","s":"o","x":2000.93,"y":1841.7},{"p":"b","s":"o","x":2001.01,"y":1859},{"p":"b","s":"o","x":2001.08,"y":1867.6},{"p":"b","s":"o","x":2001.18,"y":1815},{"p":"b","s":"o","x":2001.24,"y":1837.5},{"p":"b","s":"o","x":2001.40,"y":1860.6},{"p":"b","s":"o","x":2001.54,"y":1880.6},{"p":"b","s":"o","x":2001.64,"y":1901.9},{"p":"b","s":"o","x":2001.73,"y":1822},{"p":"b","s":"o","x":2001.91,"y":1806.5},{"p":"b","s":"o","x":2002.09,"y":1865.3},{"p":"b","s":"o","x":2002.21,"y":1855.6},{"p":"b","s":"o","x":2002.33,"y":1806.5},{"p":"b","s":"o","x":2002.42,"y":1867.1},{"p":"b","s":"o","x":2002.52,"y":1832.9},{"p":"b","s":"o","x":2002.70,"y":1842.8},{"p":"b","s":"o","x":2002.78,"y":1818.5},{"p":"b","s":"o","x":2002.94,"y":1837},{"p":"b","s":"o","x":2003.06,"y":1834.3},{"p":"b","s":"o","x":2003.19,"y":1840.5},{"p":"b","s":"o","x":2003.25,"y":1892.1},{"p":"b","s":"o","x":2003.37,"y":1823.6},{"p":"b","s":"o","x":2003.55,"y":1830.5},{"p":"b","s":"o","x":2003.63,"y":1832.9},{"p":"b","s":"o","x":2003.79,"y":1831.2},{"p":"b","s":"o","x":2003.85,"y":1849.8},{"p":"b","s":"o","x":2003.95,"y":1810},{"p":"b","s":"o","x":2004.07,"y":1874.5},{"p":"b","s":"o","x":2004.16,"y":1844.4},{"p":"b","s":"o","x":2004.22,"y":1867.6},{"p":"b","s":"o","x":2004.32,"y":1876.9},{"p":"b","s":"o","x":2004.40,"y":1832.4},{"p":"b","s":"o","x":2004.52,"y":1826.6},{"p":"b","s":"o","x":2004.64,"y":1812.7},
{"p":"b","s":"o","x":2004.73,"y":1848.6},{"p":"b","s":"o","x":2004.85,"y":1816.2},{"p":"b","s":"o","x":2004.91,"y":1839.8},{"p":"b","s":"o","x":2005.03,"y":1850.9},{"p":"b","s":"o","x":2005.16,"y":1853.2},{"p":"b","s":"o","x":2005.24,"y":1845.1},{"p":"b","s":"o","x":2005.34,"y":1847.5},{"p":"b","s":"o","x":2005.40,"y":1833.6},{"p":"b","s":"o","x":2005.46,"y":1863.7},{"p":"b","s":"o","x":2005.56,"y":1848.6},{"p":"b","s":"o","x":2005.64,"y":1855.6},{"p":"b","s":"o","x":2005.76,"y":1862.5},{"p":"b","s":"o","x":2005.89,"y":1852.1},{"p":"b","s":"o","x":2006.07,"y":1842.8},{"p":"b","s":"o","x":2006.13,"y":1853.2},{"p":"b","s":"o","x":2006.21,"y":1907.6},{"p":"b","s":"o","x":2006.31,"y":1845.1},{"p":"b","s":"o","x":2006.43,"y":1859},{"p":"b","s":"o","x":2006.53,"y":1839.4},{"p":"b","s":"o","x":2006.62,"y":1827.3},{"p":"b","s":"o","x":2006.68,"y":1854.4},{"p":"b","s":"o","x":2006.74,"y":1839.4},{"p":"b","s":"o","x":2006.86,"y":1851.4},{"p":"b","s":"o","x":2006.98,"y":1841.7},{"p":"b","s":"o","x":2007.16,"y":1823.6},{"p":"b","s":"o","x":2007.28,"y":1845.1},{"p":"b","s":"o","x":2007.38,"y":1857.9},{"p":"b","s":"o","x":2007.47,"y":1847.5},{"p":"b","s":"o","x":2007.55,"y":1839.4},{"p":"b","s":"o","x":2007.71,"y":1857.9},{"p":"b","s":"o","x":2007.83,"y":1845.1},{"p":"b","s":"o","x":2007.92,"y":1862.5},{"p":"b","s":"o","x":2008.01,"y":1833.6},{"p":"b","s":"o","x":2008.08,"y":1855.6},{"p":"b","s":"o","x":2008.20,"y":1845.1},{"p":"b","s":"o","x":2008.32,"y":1860.6},{"p":"b","s":"o","x":2008.38,"y":1847.5},{"p":"b","s":"o","x":2008.50,"y":1846.3},{"p":"b","s":"o","x":2008.60,"y":1845.8},{"p":"b","s":"o","x":2008.68,"y":1827.3},{"p":"b","s":"o","x":2008.81,"y":1847.5},{"p":"b","s":"o","x":2008.89,"y":1883.3},{"p":"b","s":"o","x":2008.99,"y":1850.9},{"p":"b","s":"o","x":2009.09,"y":1881},{"p":"b","s":"o","x":2009.30,"y":1897.2},{"p":"b","s":"o","x":2009.38,"y":1845.1},{"p":"b","s":"o","x":2009.47,"y":1848.6},{"p":"b","s":"o","x":2009.57,"y":1846.3},{"p":"b","s":"o","x":2009.69,"y":1917.6},{"p":"b","s":"o","x":2009.78,"y":1857.4},{"p":"b","s":"o","x":2009.94,"y":1915.3},{"p":"b","s":"o","x":2010.06,"y":1878.7},{"p":"b","s":"o","x":2010.18,"y":1878.7},{"p":"b","s":"o","x":2010.27,"y":1876.9},{"p":"b","s":"o","x":2010.35,"y":1869.4},{"p":"b","s":"o","x":2010.45,"y":1845.8},{"p":"b","s":"o","x":2010.55,"y":1891.4},{"p":"b","s":"o","x":2010.63,"y":1883.3},{"p":"b","s":"o","x":2010.69,"y":1876.4},{"p":"b","s":"o","x":2010.81,"y":1884.5},{"p":"b","s":"o","x":2010.93,"y":1886.8},{"p":"b","s":"o","x":2011.06,"y":1888},{"p":"b","s":"o","x":2011.20,"y":1874.1},{"p":"b","s":"o","x":2011.36,"y":1869.9},{"p":"b","s":"o","x":2011.48,"y":1859},{"p":"b","s":"o","x":2011.54,"y":1867.1},{"p":"b","s":"o","x":2011.76,"y":1882.2},{"p":"b","s":"o","x":2011.85,"y":1867.1},{"p":"b","s":"o","x":2011.97,"y":1838.2},{"p":"b","s":"o","x":2012.07,"y":1864.8},{"p":"b","s":"o","x":2012.27,"y":1883.3},{"p":"b","s":"o","x":2012.39,"y":1863},{"p":"b","s":"o","x":2012.52,"y":1864.8},{"p":"b","s":"o","x":2012.64,"y":1864.4},{"p":"b","s":"o","x":2012.82,"y":1889.1},{"p":"b","s":"o","x":2013.00,"y":1883.3},{"p":"b","s":"o","x":2013.19,"y":1906.9},{"p":"b","s":"o","x":2013.31,"y":1886.8},{"p":"b","s":"o","x":2013.43,"y":1874.1},{"p":"b","s":"o","x":2013.49,"y":1896.1},{"p":"b","s":"o","x":2013.61,"y":1876.4},{"p":"b","s":"o","x":2013.76,"y":1902.5},{"p":"b","s":"o","x":2013.85,"y":1882.9},{"p":"b","s":"o","x":2014.00,"y":1895.4},{"p":"b","s":"o","x":2014.12,"y":1904.6},{"p":"b","s":"o","x":2014.22,"y":1905.3},{"p":"b","s":"o","x":2014.34,"y":1896.5},{"p":"b","s":"o","x":2014.58,"y":1894.9},{"p":"b","s":"o","x":2014.80,"y":1909.9},{"p":"b","s":"o","x":2014.92,"y":1883.3},{"p":"b","s":"o","x":2015.19,"y":1888},{"p":"b","s":"o","x":2015.41,"y":1892.6},{"p":"b","s":"o","x":2015.74,"y":1876.4},{"p":"b","s":"o","x":2014.73,"y":1920.4},

{"p":"b","s":"n","x":1995.52,"y":1786.8},{"p":"b","s":"n","x":1996.34,"y":1775.7},{"p":"b","s":"n","x":2009.35,"y":1852.1},{"p":"b","s":"n","x":2011.26,"y":1889.8},{"p":"b","s":"n","x":2011.60,"y":1861.3},{"p":"b","s":"n","x":2012.37,"y":1872.2},{"p":"b","s":"n","x":2012.42,"y":1858.3},

{"p":"b","s":"m","x":2001.08,"y":1837},{"p":"b","s":"m","x":2001.15,"y":1831.2},{"p":"b","s":"m","x":2001.27,"y":1837.5},{"p":"b","s":"m","x":2001.32,"y":1823.6},{"p":"b","s":"m","x":2001.42,"y":1819.7},{"p":"b","s":"m","x":2001.52,"y":1810.4},{"p":"b","s":"m","x":2001.60,"y":1819},{"p":"b","s":"m","x":2001.66,"y":1851.4},{"p":"b","s":"m","x":2001.73,"y":1833.6},{"p":"b","s":"m","x":2001.81,"y":1831.2},{"p":"b","s":"m","x":2001.91,"y":1848.1},{"p":"b","s":"m","x":2002.01,"y":1838.2},{"p":"b","s":"m","x":2002.09,"y":1831.9},{"p":"b","s":"m","x":2002.15,"y":1833.6},{"p":"b","s":"m","x":2002.25,"y":1832.9},{"p":"b","s":"m","x":2002.30,"y":1817.4},{"p":"b","s":"m","x":2002.39,"y":1835.2},{"p":"b","s":"m","x":2002.49,"y":1827.3},{"p":"b","s":"m","x":2002.58,"y":1827.3},{"p":"b","s":"m","x":2002.66,"y":1837},{"p":"b","s":"m","x":2002.76,"y":1830.5},{"p":"b","s":"m","x":2002.82,"y":1814.4},{"p":"b","s":"m","x":2002.94,"y":1831.9},{"p":"b","s":"m","x":2003.06,"y":1831.2},{"p":"b","s":"m","x":2003.15,"y":1859},{"p":"b","s":"m","x":2003.25,"y":1834.7},{"p":"b","s":"m","x":2003.37,"y":1831.2},{"p":"b","s":"m","x":2003.46,"y":1832.4},{"p":"b","s":"m","x":2003.55,"y":1829},{"p":"b","s":"m","x":2003.61,"y":1830.1},{"p":"b","s":"m","x":2003.71,"y":1841.7},{"p":"b","s":"m","x":2003.76,"y":1839.4},{"p":"b","s":"m","x":2003.95,"y":1816.2},{"p":"b","s":"m","x":2004.04,"y":1833.6},{"p":"b","s":"m","x":2004.12,"y":1848.6},{"p":"b","s":"m","x":2004.22,"y":1850.9},{"p":"b","s":"m","x":2004.32,"y":1849.8},{"p":"b","s":"m","x":2004.40,"y":1832.4},{"p":"b","s":"m","x":2004.46,"y":1854.4},{"p":"b","s":"m","x":2004.58,"y":1824.3},{"p":"b","s":"m","x":2004.71,"y":1830.1},
{"p":"b","s":"m","x":2004.73,"y":1833.6},{"p":"b","s":"m","x":2004.83,"y":1812.7},{"p":"b","s":"m","x":2004.91,"y":1831.2},{"p":"b","s":"m","x":2005.00,"y":1846.3},{"p":"b","s":"m","x":2005.09,"y":1834.7},{"p":"b","s":"m","x":2005.22,"y":1839.4},{"p":"b","s":"m","x":2005.31,"y":1829},{"p":"b","s":"m","x":2005.40,"y":1832.4},{"p":"b","s":"m","x":2005.48,"y":1827.8},{"p":"b","s":"m","x":2005.58,"y":1831.2},{"p":"b","s":"m","x":2005.70,"y":1820.8},{"p":"b","s":"m","x":2005.80,"y":1830.5},{"p":"b","s":"m","x":2005.89,"y":1831.2},{"p":"b","s":"m","x":2006.01,"y":1850.9},{"p":"b","s":"m","x":2006.09,"y":1845.1},{"p":"b","s":"m","x":2006.19,"y":1849.8},{"p":"b","s":"m","x":2006.29,"y":1830.1},{"p":"b","s":"m","x":2006.37,"y":1840.5},{"p":"b","s":"m","x":2006.46,"y":1824.3},{"p":"b","s":"m","x":2006.55,"y":1826.6},{"p":"b","s":"m","x":2006.65,"y":1825.9},{"p":"b","s":"m","x":2006.74,"y":1823.1},{"p":"b","s":"m","x":2006.82,"y":1849.8},{"p":"b","s":"m","x":2006.94,"y":1841.7},{"p":"b","s":"m","x":2007.04,"y":1863.7},{"p":"b","s":"m","x":2007.16,"y":1832.4},{"p":"b","s":"m","x":2007.28,"y":1827.8},{"p":"b","s":"m","x":2007.38,"y":1844},{"p":"b","s":"m","x":2007.47,"y":1841.7},{"p":"b","s":"m","x":2007.55,"y":1867.1},{"p":"b","s":"m","x":2007.65,"y":1829},{"p":"b","s":"m","x":2007.75,"y":1848.6},{"p":"b","s":"m","x":2007.83,"y":1853.7},{"p":"b","s":"m","x":2007.95,"y":1839.4},{"p":"b","s":"m","x":2008.08,"y":1863.7},{"p":"b","s":"m","x":2008.14,"y":1850.5},{"p":"b","s":"m","x":2008.26,"y":1870.6},{"p":"b","s":"m","x":2008.36,"y":1852.1},{"p":"b","s":"m","x":2008.44,"y":1849.1},{"p":"b","s":"m","x":2008.53,"y":1838.9},{"p":"b","s":"m","x":2008.62,"y":1850.5},{"p":"b","s":"m","x":2008.72,"y":1820.4},{"p":"b","s":"m","x":2008.81,"y":1843.3},{"p":"b","s":"m","x":2008.89,"y":1844.4},{"p":"b","s":"m","x":2008.99,"y":1883.8},{"p":"b","s":"m","x":2009.11,"y":1842.8},{"p":"b","s":"m","x":2009.23,"y":1856.7},{"p":"b","s":"m","x":2009.38,"y":1846.3},{"p":"b","s":"m","x":2009.47,"y":1874.1},{"p":"b","s":"m","x":2009.60,"y":1841.7},{"p":"b","s":"m","x":2009.69,"y":1842.8},{"p":"b","s":"m","x":2009.82,"y":1849.8},{"p":"b","s":"m","x":2009.94,"y":1881},{"p":"b","s":"m","x":2010.05,"y":1857.9},{"p":"b","s":"m","x":2010.14,"y":1866},{"p":"b","s":"m","x":2010.23,"y":1850.9},{"p":"b","s":"m","x":2010.35,"y":1860.2},{"p":"b","s":"m","x":2010.45,"y":1850.5},{"p":"b","s":"m","x":2010.61,"y":1844},{"p":"b","s":"m","x":2010.72,"y":1867.1},{"p":"b","s":"m","x":2010.81,"y":1860.2},{"p":"b","s":"m","x":2010.96,"y":1870.6},{"p":"b","s":"m","x":2011.08,"y":1874.1},{"p":"b","s":"m","x":2011.18,"y":1869.4},{"p":"b","s":"m","x":2011.36,"y":1861.3},{"p":"b","s":"m","x":2011.45,"y":1866},{"p":"b","s":"m","x":2011.54,"y":1855.1},{"p":"b","s":"m","x":2011.64,"y":1868.3},{"p":"b","s":"m","x":2011.73,"y":1872.9},{"p":"b","s":"m","x":2011.85,"y":1874.1},{"p":"b","s":"m","x":2011.93,"y":1870.6},{"p":"b","s":"m","x":2012.03,"y":1878.7},{"p":"b","s":"m","x":2012.18,"y":1871.8},{"p":"b","s":"m","x":2012.27,"y":1871.8},{"p":"b","s":"m","x":2012.37,"y":1875.2},{"p":"b","s":"m","x":2012.47,"y":1875.2},{"p":"b","s":"m","x":2012.58,"y":1866},{"p":"b","s":"m","x":2012.66,"y":1849.8},{"p":"b","s":"m","x":2012.76,"y":1878.7},{"p":"b","s":"m","x":2012.86,"y":1879.9},{"p":"b","s":"m","x":2013.00,"y":1870.6},{"p":"b","s":"m","x":2013.12,"y":1878.2},{"p":"b","s":"m","x":2013.25,"y":1882.2},{"p":"b","s":"m","x":2013.34,"y":1867.1},{"p":"b","s":"m","x":2013.43,"y":1869.4},{"p":"b","s":"m","x":2013.51,"y":1890.3},{"p":"b","s":"m","x":2013.59,"y":1864.8},{"p":"b","s":"m","x":2013.67,"y":1872.9},{"p":"b","s":"m","x":2013.76,"y":1870.6},{"p":"b","s":"m","x":2013.85,"y":1885.2},{"p":"b","s":"m","x":2013.91,"y":1878.7},

{"p":"b","s":"of","x":1993.64,"y":1796.5},{"p":"b","s":"of","x":1994.00,"y":1800},{"p":"b","s":"of","x":1994.37,"y":1802.3},{"p":"b","s":"of","x":1994.73,"y":1805.8},{"p":"b","s":"of","x":1995.10,"y":1810.4},{"p":"b","s":"of","x":1995.46,"y":1816.2},{"p":"b","s":"of","x":1995.82,"y":1819.7},{"p":"b","s":"of","x":1996.07,"y":1819},{"p":"b","s":"of","x":1996.31,"y":1813.9},{"p":"b","s":"of","x":1996.62,"y":1807},{"p":"b","s":"of","x":1996.86,"y":1804.2},{"p":"b","s":"of","x":1997.10,"y":1807},{"p":"b","s":"of","x":1997.35,"y":1813.9},{"p":"b","s":"of","x":1997.65,"y":1823.1},{"p":"b","s":"of","x":1997.95,"y":1830.1},{"p":"b","s":"of","x":1998.26,"y":1831.9},{"p":"b","s":"of","x":1998.56,"y":1829},{"p":"b","s":"of","x":1998.87,"y":1824.3},{"p":"b","s":"of","x":1999.23,"y":1821.3},{"p":"b","s":"of","x":1999.54,"y":1822},{"p":"b","s":"of","x":1999.84,"y":1826.6},{"p":"b","s":"of","x":2000.20,"y":1833.6},{"p":"b","s":"of","x":2000.57,"y":1838.2},{"p":"b","s":"of","x":2000.93,"y":1841.7},{"p":"b","s":"of","x":2001.30,"y":1845.6},{"p":"b","s":"of","x":2001.66,"y":1847},{"p":"b","s":"of","x":2002.03,"y":1845.8},{"p":"b","s":"of","x":2002.39,"y":1842.1},{"p":"b","s":"of","x":2002.70,"y":1840},{"p":"b","s":"of","x":2003.00,"y":1841.2},{"p":"b","s":"of","x":2003.37,"y":1844.4},{"p":"b","s":"of","x":2003.73,"y":1846.8},{"p":"b","s":"of","x":2004.10,"y":1845.8},{"p":"b","s":"of","x":2004.46,"y":1841.7},{"p":"b","s":"of","x":2004.77,"y":1840.5},{"p":"b","s":"of","x":2005.09,"y":1845.1},{"p":"b","s":"of","x":2005.46,"y":1850.9},{"p":"b","s":"of","x":2005.82,"y":1855.6},{"p":"b","s":"of","x":2006.07,"y":1856.7},{"p":"b","s":"of","x":2006.31,"y":1855.6},{"p":"b","s":"of","x":2006.68,"y":1850.9},{"p":"b","s":"of","x":2007.04,"y":1846.8},{"p":"b","s":"of","x":2007.41,"y":1846.8},{"p":"b","s":"of","x":2007.77,"y":1848.1},{"p":"b","s":"of","x":2008.14,"y":1850.9},{"p":"b","s":"of","x":2008.50,"y":1855.6},{"p":"b","s":"of","x":2008.87,"y":1861.3},{"p":"b","s":"of","x":2009.23,"y":1870.6},{"p":"b","s":"of","x":2009.60,"y":1877.5},{"p":"b","s":"of","x":2009.96,"y":1879.2},{"p":"b","s":"of","x":2010.33,"y":1878.7},{"p":"b","s":"of","x":2010.69,"y":1877.5},{"p":"b","s":"of","x":2011.06,"y":1874.1},{"p":"b","s":"of","x":2011.42,"y":1869.9},{"p":"b","s":"of","x":2011.73,"y":1866.4},{"p":"b","s":"of","x":2012.03,"y":1866},{"p":"b","s":"of","x":2012.27,"y":1869.4},{"p":"b","s":"of","x":2012.52,"y":1874.5},{"p":"b","s":"of","x":2012.76,"y":1881},{"p":"b","s":"of","x":2013.12,"y":1886.8},{"p":"b","s":"of","x":2013.49,"y":1890.3},{"p":"b","s":"of","x":2013.85,"y":1893.1},{"p":"b","s":"of","x":2014.22,"y":1897.7},{"p":"b","s":"of","x":2014.46,"y":1900.7},{"p":"b","s":"of","x":2014.71,"y":1901.9},{"p":"b","s":"of","x":2014.95,"y":1899.1},{"p":"b","s":"of","x":2015.19,"y":1894.4},{"p":"b","s":"of","x":2015.44,"y":1889.8},{"p":"b","s":"of","x":2015.68,"y":1887.3},{"p":"b","s":"of","x":2015.86,"y":1886.8},

{"p":"b","s":"oh","x":1993.64,"y":1809.3},{"p":"b","s":"oh","x":1994.00,"y":1811.6},{"p":"b","s":"oh","x":1994.37,"y":1813.9},{"p":"b","s":"oh","x":1994.73,"y":1816.2},{"p":"b","s":"oh","x":1995.10,"y":1819.7},{"p":"b","s":"oh","x":1995.46,"y":1826.6},{"p":"b","s":"oh","x":1995.82,"y":1832.4},{"p":"b","s":"oh","x":1996.07,"y":1831.2},{"p":"b","s":"oh","x":1996.31,"y":1825.5},{"p":"b","s":"oh","x":1996.62,"y":1817.4},{"p":"b","s":"oh","x":1996.86,"y":1813.9},{"p":"b","s":"oh","x":1997.10,"y":1815},{"p":"b","s":"oh","x":1997.35,"y":1823.1},{"p":"b","s":"oh","x":1997.65,"y":1831.2},{"p":"b","s":"oh","x":1998.01,"y":1838.9},{"p":"b","s":"oh","x":1998.32,"y":1841},{"p":"b","s":"oh","x":1998.62,"y":1838.2},{"p":"b","s":"oh","x":1998.99,"y":1833.6},{"p":"b","s":"oh","x":1999.29,"y":1829},{"p":"b","s":"oh","x":1999.60,"y":1829.6},{"p":"b","s":"oh","x":1999.96,"y":1834.7},{"p":"b","s":"oh","x":2000.33,"y":1840.5},{"p":"b","s":"oh","x":2000.69,"y":1846.8},{"p":"b","s":"oh","x":2001.06,"y":1853.2},{"p":"b","s":"oh","x":2001.42,"y":1859.7},{"p":"b","s":"oh","x":2001.66,"y":1862},{"p":"b","s":"oh","x":2002.03,"y":1859.7},{"p":"b","s":"oh","x":2002.39,"y":1853.2},{"p":"b","s":"oh","x":2002.70,"y":1850.9},{"p":"b","s":"oh","x":2003.00,"y":1852.1},{"p":"b","s":"oh","x":2003.37,"y":1855.6},{"p":"b","s":"oh","x":2003.73,"y":1857.4},{"p":"b","s":"oh","x":2004.10,"y":1855.6},{"p":"b","s":"oh","x":2004.46,"y":1852.1},{"p":"b","s":"oh","x":2004.77,"y":1848.6},{"p":"b","s":"oh","x":2005.09,"y":1857.9},{"p":"b","s":"oh","x":2005.46,"y":1864.8},{"p":"b","s":"oh","x":2005.82,"y":1867.6},{"p":"b","s":"oh","x":2006.19,"y":1866},{"p":"b","s":"oh","x":2006.55,"y":1860.2},{"p":"b","s":"oh","x":2006.92,"y":1855.6},{"p":"b","s":"oh","x":2007.28,"y":1856},{"p":"b","s":"oh","x":2007.65,"y":1857.9},{"p":"b","s":"oh","x":2008.01,"y":1861.3},{"p":"b","s":"oh","x":2008.38,"y":1867.1},{"p":"b","s":"oh","x":2008.74,"y":1877.5},{"p":"b","s":"oh","x":2009.11,"y":1888},{"p":"b","s":"oh","x":2009.47,"y":1893.7},{"p":"b","s":"oh","x":2009.84,"y":1893.7},{"p":"b","s":"oh","x":2010.20,"y":1890.3},{"p":"b","s":"oh","x":2010.57,"y":1888},{"p":"b","s":"oh","x":2010.93,"y":1883.3},{"p":"b","s":"oh","x":2011.30,"y":1877.5},{"p":"b","s":"oh","x":2011.66,"y":1872.9},{"p":"b","s":"oh","x":2012.03,"y":1871.3},{"p":"b","s":"oh","x":2012.27,"y":1875.2},{"p":"b","s":"oh","x":2012.52,"y":1882.2},{"p":"b","s":"oh","x":2012.76,"y":1890.3},{"p":"b","s":"oh","x":2013.12,"y":1896.1},{"p":"b","s":"oh","x":2013.49,"y":1898.4},{"p":"b","s":"oh","x":2013.85,"y":1900.7},{"p":"b","s":"oh","x":2014.22,"y":1905.3},{"p":"b","s":"oh","x":2014.58,"y":1909.9},{"p":"b","s":"oh","x":2014.83,"y":1909.9},{"p":"b","s":"oh","x":2015.07,"y":1904.2},{"p":"b","s":"oh","x":2015.37,"y":1896.1},

{"p":"b","s":"ol","x":1993.64,"y":1779.2},{"p":"b","s":"ol","x":1994.00,"y":1783.8},{"p":"b","s":"ol","x":1994.37,"y":1789.6},{"p":"b","s":"ol","x":1994.73,"y":1794.2},{"p":"b","s":"ol","x":1995.10,"y":1797.7},{"p":"b","s":"ol","x":1995.46,"y":1802.3},{"p":"b","s":"ol","x":1995.82,"y":1805.8},{"p":"b","s":"ol","x":1996.07,"y":1807},{"p":"b","s":"ol","x":1996.37,"y":1804.6},{"p":"b","s":"ol","x":1996.68,"y":1798.8},{"p":"b","s":"ol","x":1996.92,"y":1796.5},{"p":"b","s":"ol","x":1997.16,"y":1797.7},{"p":"b","s":"ol","x":1997.41,"y":1804.6},{"p":"b","s":"ol","x":1997.71,"y":1813.9},{"p":"b","s":"ol","x":1998.01,"y":1819.7},{"p":"b","s":"ol","x":1998.32,"y":1822},{"p":"b","s":"ol","x":1998.62,"y":1819.7},{"p":"b","s":"ol","x":1998.93,"y":1816.2},{"p":"b","s":"ol","x":1999.23,"y":1811.6},{"p":"b","s":"ol","x":1999.60,"y":1812.7},{"p":"b","s":"ol","x":1999.90,"y":1817.4},{"p":"b","s":"ol","x":2000.20,"y":1824.3},{"p":"b","s":"ol","x":2000.57,"y":1827.8},{"p":"b","s":"ol","x":2000.93,"y":1831.2},{"p":"b","s":"ol","x":2001.30,"y":1833.6},{"p":"b","s":"ol","x":2001.66,"y":1834.7},{"p":"b","s":"ol","x":2002.03,"y":1833.1},{"p":"b","s":"ol","x":2002.39,"y":1831.2},{"p":"b","s":"ol","x":2002.70,"y":1829},{"p":"b","s":"ol","x":2003.00,"y":1830.1},{"p":"b","s":"ol","x":2003.37,"y":1833.6},{"p":"b","s":"ol","x":2003.73,"y":1835.9},{"p":"b","s":"ol","x":2004.10,"y":1835.9},{"p":"b","s":"ol","x":2004.46,"y":1833.6},{"p":"b","s":"ol","x":2004.77,"y":1831.2},{"p":"b","s":"ol","x":2005.09,"y":1834.7},{"p":"b","s":"ol","x":2005.46,"y":1839.4},{"p":"b","s":"ol","x":2005.82,"y":1844},{"p":"b","s":"ol","x":2006.19,"y":1846.8},{"p":"b","s":"ol","x":2006.55,"y":1844},{"p":"b","s":"ol","x":2006.92,"y":1839.8},{"p":"b","s":"ol","x":2007.28,"y":1838.9},{"p":"b","s":"ol","x":2007.65,"y":1841.7},{"p":"b","s":"ol","x":2008.01,"y":1844},{"p":"b","s":"ol","x":2008.38,"y":1846.3},{"p":"b","s":"ol","x":2008.74,"y":1848.6},{"p":"b","s":"ol","x":2009.11,"y":1853.7},{"p":"b","s":"ol","x":2009.47,"y":1861.3},{"p":"b","s":"ol","x":2009.84,"y":1864.8},{"p":"b","s":"ol","x":2010.20,"y":1864.8},{"p":"b","s":"ol","x":2010.57,"y":1863},{"p":"b","s":"ol","x":2010.93,"y":1862.5},{"p":"b","s":"ol","x":2011.30,"y":1859.7},{"p":"b","s":"ol","x":2011.66,"y":1857.9},{"p":"b","s":"ol","x":2012.03,"y":1856.7},{"p":"b","s":"ol","x":2012.27,"y":1859},{"p":"b","s":"ol","x":2012.52,"y":1864.8},{"p":"b","s":"ol","x":2012.76,"y":1871.8},{"p":"b","s":"ol","x":2013.12,"y":1876.9},{"p":"b","s":"ol","x":2013.49,"y":1879.9},{"p":"b","s":"ol","x":2013.85,"y":1883.8},{"p":"b","s":"ol","x":2014.22,"y":1888},{"p":"b","s":"ol","x":2014.58,"y":1891.4},{"p":"b","s":"ol","x":2014.83,"y":1893.7},{"p":"b","s":"ol","x":2015.07,"y":1891.4},{"p":"b","s":"ol","x":2015.44,"y":1885.6},{"p":"b","s":"ol","x":2015.68,"y":1881.5},

{"p":"b","s":"mf","x":2001.08,"y":1828.2},{"p":"b","s":"mf","x":2001.42,"y":1832.4},{"p":"b","s":"mf","x":2001.79,"y":1833.6},{"p":"b","s":"mf","x":2002.15,"y":1832.4},{"p":"b","s":"mf","x":2002.52,"y":1830.5},{"p":"b","s":"mf","x":2002.88,"y":1831.9},{"p":"b","s":"mf","x":2003.25,"y":1834.7},{"p":"b","s":"mf","x":2003.61,"y":1837},{"p":"b","s":"mf","x":2003.98,"y":1838.2},{"p":"b","s":"mf","x":2004.34,"y":1837.5},{"p":"b","s":"mf","x":2004.77,"y":1835.9},{"p":"b","s":"mf","x":2005.22,"y":1835.9},{"p":"b","s":"mf","x":2005.70,"y":1837},{"p":"b","s":"mf","x":2006.19,"y":1838.2},{"p":"b","s":"mf","x":2006.68,"y":1841.7},{"p":"b","s":"mf","x":2007.16,"y":1846.3},{"p":"b","s":"mf","x":2007.65,"y":1848.6},{"p":"b","s":"mf","x":2008.14,"y":1850.9},{"p":"b","s":"mf","x":2008.62,"y":1855.6},{"p":"b","s":"mf","x":2009.11,"y":1859.7},{"p":"b","s":"mf","x":2009.47,"y":1861.3},{"p":"b","s":"mf","x":2009.84,"y":1860.6},{"p":"b","s":"mf","x":2010.20,"y":1859.5},{"p":"b","s":"mf","x":2010.57,"y":1858.3},{"p":"b","s":"mf","x":2010.93,"y":1860.6},{"p":"b","s":"mf","x":2011.30,"y":1863},{"p":"b","s":"mf","x":2011.66,"y":1865.3},{"p":"b","s":"mf","x":2012.03,"y":1866.7},{"p":"b","s":"mf","x":2012.52,"y":1869},{"p":"b","s":"mf","x":2013.00,"y":1872.9},{"p":"b","s":"mf","x":2013.49,"y":1878.7},{"p":"b","s":"mf","x":2013.73,"y":1883.3},{"p":"b","s":"mf","x":2013.88,"y":1885.6},

{"p":"b","s":"mh","x":2001.08,"y":1844},{"p":"b","s":"mh","x":2001.42,"y":1848.6},{"p":"b","s":"mh","x":2001.79,"y":1846.8},{"p":"b","s":"mh","x":2002.15,"y":1841.7},{"p":"b","s":"mh","x":2002.52,"y":1838.9},{"p":"b","s":"mh","x":2002.88,"y":1840.5},{"p":"b","s":"mh","x":2003.25,"y":1844},{"p":"b","s":"mh","x":2003.61,"y":1847.5},{"p":"b","s":"mh","x":2003.98,"y":1850.9},{"p":"b","s":"mh","x":2004.34,"y":1852.1},{"p":"b","s":"mh","x":2004.77,"y":1848.6},{"p":"b","s":"mh","x":2005.22,"y":1849.8},{"p":"b","s":"mh","x":2005.70,"y":1852.1},{"p":"b","s":"mh","x":2006.19,"y":1854.4},{"p":"b","s":"mh","x":2006.68,"y":1856},{"p":"b","s":"mh","x":2007.16,"y":1856},{"p":"b","s":"mh","x":2007.65,"y":1856.7},{"p":"b","s":"mh","x":2008.14,"y":1859},{"p":"b","s":"mh","x":2008.62,"y":1864.8},{"p":"b","s":"mh","x":2009.11,"y":1869.9},{"p":"b","s":"mh","x":2009.47,"y":1874.1},{"p":"b","s":"mh","x":2009.84,"y":1874.1},{"p":"b","s":"mh","x":2010.20,"y":1872.9},{"p":"b","s":"mh","x":2010.57,"y":1871.8},{"p":"b","s":"mh","x":2010.93,"y":1871.8},{"p":"b","s":"mh","x":2011.30,"y":1874.1},{"p":"b","s":"mh","x":2011.66,"y":1875.9},{"p":"b","s":"mh","x":2012.03,"y":1877.5},{"p":"b","s":"mh","x":2012.52,"y":1879.9},{"p":"b","s":"mh","x":2013.00,"y":1883.8},{"p":"b","s":"mh","x":2013.49,"y":1888},{"p":"b","s":"mh","x":2013.88,"y":1891.4},

{"p":"b","s":"ml","x":2001.08,"y":1817.4},{"p":"b","s":"ml","x":2001.42,"y":1818.5},{"p":"b","s":"ml","x":2001.79,"y":1819.7},{"p":"b","s":"ml","x":2002.15,"y":1822},{"p":"b","s":"ml","x":2002.52,"y":1820.8},{"p":"b","s":"ml","x":2002.88,"y":1820.8},{"p":"b","s":"ml","x":2003.25,"y":1824.3},{"p":"b","s":"ml","x":2003.61,"y":1827.3},{"p":"b","s":"ml","x":2003.98,"y":1827.8},{"p":"b","s":"ml","x":2004.34,"y":1827.8},{"p":"b","s":"ml","x":2004.77,"y":1825.5},{"p":"b","s":"ml","x":2005.22,"y":1826.6},{"p":"b","s":"ml","x":2005.70,"y":1827.8},{"p":"b","s":"ml","x":2006.19,"y":1829},{"p":"b","s":"ml","x":2006.68,"y":1831.2},{"p":"b","s":"ml","x":2007.16,"y":1835.9},{"p":"b","s":"ml","x":2007.65,"y":1840.5},{"p":"b","s":"ml","x":2008.14,"y":1842.8},{"p":"b","s":"ml","x":2008.62,"y":1845.1},{"p":"b","s":"ml","x":2009.11,"y":1847.5},{"p":"b","s":"ml","x":2009.47,"y":1849.1},{"p":"b","s":"ml","x":2009.84,"y":1851.4},{"p":"b","s":"ml","x":2010.20,"y":1853.2},{"p":"b","s":"ml","x":2010.57,"y":1853.2},{"p":"b","s":"ml","x":2010.93,"y":1854.4},{"p":"b","s":"ml","x":2011.30,"y":1857.9},{"p":"b","s":"ml","x":2011.66,"y":1861.3},{"p":"b","s":"ml","x":2012.03,"y":1862.5},{"p":"b","s":"ml","x":2012.52,"y":1864.8},{"p":"b","s":"ml","x":2013.00,"y":1868.3},{"p":"b","s":"ml","x":2013.49,"y":1871.8},{"p":"b","s":"ml","x":2013.88,"y":1875.2},

{"p":"c","s":"o","x":1993.78,"y":1846.8},{"p":"c","s":"o","x":1993.88,"y":1852.8},{"p":"c","s":"o","x":1993.98,"y":1874.5},{"p":"c","s":"o","x":1994.12,"y":1841.7},{"p":"c","s":"o","x":1994.22,"y":1867.6},{"p":"c","s":"o","x":1994.39,"y":1853.2},{"p":"c","s":"o","x":1994.46,"y":1834.3},{"p":"c","s":"o","x":1994.55,"y":1855.6},{"p":"c","s":"o","x":1994.64,"y":1929.2},{"p":"c","s":"o","x":1994.73,"y":1896.5},{"p":"c","s":"o","x":1994.79,"y":1885.6},{"p":"c","s":"o","x":1994.89,"y":1842.8},{"p":"c","s":"o","x":1994.97,"y":1857.4},{"p":"c","s":"o","x":1995.03,"y":1870.6},{"p":"c","s":"o","x":1995.16,"y":1916.2},{"p":"c","s":"o","x":1995.22,"y":1914.6},{"p":"c","s":"o","x":1995.31,"y":1862},{"p":"c","s":"o","x":1995.36,"y":1864.4},{"p":"c","s":"o","x":1995.46,"y":1839.8},{"p":"c","s":"o","x":1995.56,"y":1873.6},{"p":"c","s":"o","x":1995.64,"y":1909.9},{"p":"c","s":"o","x":1995.73,"y":1937.3},{"p":"c","s":"o","x":1995.80,"y":1856.7},{"p":"c","s":"o","x":1995.89,"y":1881.5},{"p":"c","s":"o","x":1995.97,"y":1830.6},{"p":"c","s":"o","x":1996.07,"y":1850.9},{"p":"c","s":"o","x":1996.13,"y":1850.5},{"p":"c","s":"o","x":1996.21,"y":1906.9},{"p":"c","s":"o","x":1996.29,"y":1855.1},{"p":"c","s":"o","x":1996.37,"y":1842.4},{"p":"c","s":"o","x":1996.46,"y":2041.4},{"p":"c","s":"o","x":1996.55,"y":1866.4},{"p":"c","s":"o","x":1996.64,"y":1970.8},{"p":"c","s":"o","x":1996.74,"y":1908.8},{"p":"c","s":"o","x":1996.80,"y":1833.6},{"p":"c","s":"o","x":1996.88,"y":1810.4},{"p":"c","s":"o","x":1996.96,"y":1801.6},{"p":"c","s":"o","x":1997.04,"y":1853.2},{"p":"c","s":"o","x":1997.13,"y":1867.6},{"p":"c","s":"o","x":1997.22,"y":1834.3},{"p":"c","s":"o","x":1997.29,"y":1875.9},{"p":"c","s":"o","x":1997.35,"y":1837},{"p":"c","s":"o","x":1997.47,"y":1834.7},{"p":"c","s":"o","x":1997.55,"y":1881.5},{"p":"c","s":"o","x":1997.65,"y":1858.3},{"p":"c","s":"o","x":1997.71,"y":1936.6},{"p":"c","s":"o","x":1997.80,"y":1838.9},{"p":"c","s":"o","x":1997.87,"y":1878},{"p":"c","s":"o","x":1997.95,"y":1844.4},{"p":"c","s":"o","x":1998.04,"y":1859.7},{"p":"c","s":"o","x":1998.20,"y":1853.2},{"p":"c","s":"o","x":1998.26,"y":1863},{"p":"c","s":"o","x":1998.36,"y":1894.4},{"p":"c","s":"o","x":1998.44,"y":1881},{"p":"c","s":"o","x":1998.53,"y":1890.3},{"p":"c","s":"o","x":1998.68,"y":1881},{"p":"c","s":"o","x":1998.84,"y":1860.6},{"p":"c","s":"o","x":1998.96,"y":1906.9},{"p":"c","s":"o","x":1999.01,"y":1866},{"p":"c","s":"o","x":1999.11,"y":1911.8},{"p":"c","s":"o","x":1999.21,"y":1858.3},{"p":"c","s":"o","x":1999.29,"y":1928},{"p":"c","s":"o","x":1999.35,"y":1860.6},{"p":"c","s":"o","x":1999.45,"y":1880.6},{"p":"c","s":"o","x":1999.52,"y":1879.2},{"p":"c","s":"o","x":1999.57,"y":2013.9},{"p":"c","s":"o","x":1999.69,"y":1916.9},{"p":"c","s":"o","x":1999.78,"y":1855.6},{"p":"c","s":"o","x":1999.86,"y":1821.3},{"p":"c","s":"o","x":1999.94,"y":1849.8},{"p":"c","s":"o","x":2000.02,"y":1916.4},{"p":"c","s":"o","x":2000.11,"y":1978.2},{"p":"c","s":"o","x":2000.20,"y":2039.6},{"p":"c","s":"o","x":2000.27,"y":1872.2},{"p":"c","s":"o","x":2000.33,"y":1899.5},{"p":"c","s":"o","x":2000.45,"y":1852.5},{"p":"c","s":"o","x":2000.55,"y":1862},{"p":"c","s":"o","x":2000.63,"y":1889.1},{"p":"c","s":"o","x":2000.79,"y":1859.7},{"p":"c","s":"o","x":2000.87,"y":1882.9},{"p":"c","s":"o","x":2000.93,"y":1862},{"p":"c","s":"o","x":2001.02,"y":1900},{"p":"c","s":"o","x":2001.08,"y":1856.7},{"p":"c","s":"o","x":2001.15,"y":1858.3},{"p":"c","s":"o","x":2001.28,"y":1972.9},{"p":"c","s":"o","x":2001.36,"y":1862.5},{"p":"c","s":"o","x":2001.42,"y":1864.8},{"p":"c","s":"o","x":2001.52,"y":1845.1},{"p":"c","s":"o","x":2001.66,"y":1882.2},{"p":"c","s":"o","x":2001.76,"y":1848.6},{"p":"c","s":"o","x":2001.91,"y":1878.7},{"p":"c","s":"o","x":2002.09,"y":1910.6},{"p":"c","s":"o","x":2002.15,"y":1898.4},{"p":"c","s":"o","x":2002.25,"y":1861.8},{"p":"c","s":"o","x":2002.37,"y":1868.3},{"p":"c","s":"o","x":2002.49,"y":1926.2},{"p":"c","s":"o","x":2002.59,"y":1845.8},{"p":"c","s":"o","x":2002.66,"y":1918.8},{"p":"c","s":"o","x":2002.76,"y":1940.7},{"p":"c","s":"o","x":2002.86,"y":1841.2},{"p":"c","s":"o","x":2002.94,"y":1855.1},{"p":"c","s":"o","x":2003.10,"y":1930.8},{"p":"c","s":"o","x":2003.19,"y":1892.6},{"p":"c","s":"o","x":2003.27,"y":1913},{"p":"c","s":"o","x":2003.37,"y":1860.6},{"p":"c","s":"o","x":2003.46,"y":1921.1},{"p":"c","s":"o","x":2003.59,"y":1850.5},{"p":"c","s":"o","x":2003.73,"y":1862},{"p":"c","s":"o","x":2003.85,"y":1905.3},{"p":"c","s":"o","x":2003.98,"y":1850.5},{"p":"c","s":"o","x":2004.07,"y":1862},{"p":"c","s":"o","x":2004.16,"y":1897.2},{"p":"c","s":"o","x":2004.26,"y":1873.6},{"p":"c","s":"o","x":2004.34,"y":1871.8},{"p":"c","s":"o","x":2004.52,"y":1921.1},{"p":"c","s":"o","x":2004.68,"y":1872.9},
{"p":"c","s":"o","x":2004.85,"y":1845.1},{"p":"c","s":"o","x":2004.91,"y":1850.9},{"p":"c","s":"o","x":2004.97,"y":1909.3},{"p":"c","s":"o","x":2005.09,"y":1863.7},{"p":"c","s":"o","x":2005.22,"y":1898.4},{"p":"c","s":"o","x":2005.34,"y":1866},{"p":"c","s":"o","x":2005.48,"y":1922.2},{"p":"c","s":"o","x":2005.56,"y":1896.1},{"p":"c","s":"o","x":2005.64,"y":1989.4},{"p":"c","s":"o","x":2005.70,"y":1871.3},{"p":"c","s":"o","x":2005.80,"y":1915.3},{"p":"c","s":"o","x":2005.89,"y":1881},{"p":"c","s":"o","x":2005.95,"y":1886.1},{"p":"c","s":"o","x":2006.04,"y":1943.5},{"p":"c","s":"o","x":2006.17,"y":1881},{"p":"c","s":"o","x":2006.25,"y":1908.3},{"p":"c","s":"o","x":2006.34,"y":1860.2},{"p":"c","s":"o","x":2006.43,"y":1875.2},{"p":"c","s":"o","x":2006.53,"y":1923.8},{"p":"c","s":"o","x":2006.58,"y":1938.9},{"p":"c","s":"o","x":2006.68,"y":1877.5},{"p":"c","s":"o","x":2006.77,"y":1900},{"p":"c","s":"o","x":2006.86,"y":1916.9},{"p":"c","s":"o","x":2006.94,"y":1955.1},{"p":"c","s":"o","x":2007.04,"y":1874.1},{"p":"c","s":"o","x":2007.16,"y":1866},{"p":"c","s":"o","x":2007.22,"y":1892.1},{"p":"c","s":"o","x":2007.35,"y":1916.2},{"p":"c","s":"o","x":2007.43,"y":1948.1},{"p":"c","s":"o","x":2007.53,"y":1928.5},{"p":"c","s":"o","x":2007.63,"y":1864.8},{"p":"c","s":"o","x":2007.71,"y":1956.9},{"p":"c","s":"o","x":2007.80,"y":1872.2},{"p":"c","s":"o","x":2007.89,"y":1946.3},{"p":"c","s":"o","x":2007.99,"y":1943.1},{"p":"c","s":"o","x":2008.08,"y":1871.8},{"p":"c","s":"o","x":2008.16,"y":1926.2},{"p":"c","s":"o","x":2008.26,"y":1922.2},{"p":"c","s":"o","x":2008.36,"y":1954.6},{"p":"c","s":"o","x":2008.40,"y":1906.5},{"p":"c","s":"o","x":2008.50,"y":1849.1},{"p":"c","s":"o","x":2008.60,"y":1912.3},{"p":"c","s":"o","x":2008.68,"y":1888},{"p":"c","s":"o","x":2008.77,"y":1883.8},{"p":"c","s":"o","x":2008.87,"y":1948.1},{"p":"c","s":"o","x":2008.99,"y":1885.6},{"p":"c","s":"o","x":2009.09,"y":1890.3},{"p":"c","s":"o","x":2009.17,"y":1900.7},{"p":"c","s":"o","x":2009.29,"y":1888},{"p":"c","s":"o","x":2009.38,"y":1890.3},{"p":"c","s":"o","x":2009.47,"y":1896.1},{"p":"c","s":"o","x":2009.62,"y":1947},{"p":"c","s":"o","x":2009.72,"y":1908.8},{"p":"c","s":"o","x":2009.82,"y":1915.7},{"p":"c","s":"o","x":2009.90,"y":1952.8},{"p":"c","s":"o","x":2009.94,"y":1919.2},{"p":"c","s":"o","x":2010.00,"y":1952.8},{"p":"c","s":"o","x":2010.08,"y":1909.9},{"p":"c","s":"o","x":2010.20,"y":1901.9},{"p":"c","s":"o","x":2010.33,"y":1911.1},{"p":"c","s":"o","x":2010.39,"y":1890.3},{"p":"c","s":"o","x":2010.47,"y":1888},{"p":"c","s":"o","x":2010.55,"y":1872.9},{"p":"c","s":"o","x":2010.63,"y":1939.4},{"p":"c","s":"o","x":2010.69,"y":1924.5},{"p":"c","s":"o","x":2010.79,"y":1874.1},{"p":"c","s":"o","x":2010.87,"y":1911.1},{"p":"c","s":"o","x":2011.00,"y":1913.4},{"p":"c","s":"o","x":2011.06,"y":1891.4},{"p":"c","s":"o","x":2011.15,"y":1903},{"p":"c","s":"o","x":2011.30,"y":1919.2},{"p":"c","s":"o","x":2011.40,"y":1934.3},{"p":"c","s":"o","x":2011.54,"y":1877.5},{"p":"c","s":"o","x":2011.60,"y":1911.1},{"p":"c","s":"o","x":2011.76,"y":1961.6},{"p":"c","s":"o","x":2011.85,"y":1929.2},{"p":"c","s":"o","x":2011.97,"y":1906.5},{"p":"c","s":"o","x":2012.09,"y":1950.9},{"p":"c","s":"o","x":2012.21,"y":1916.9},{"p":"c","s":"o","x":2012.37,"y":1878.2},{"p":"c","s":"o","x":2012.46,"y":1957.4},{"p":"c","s":"o","x":2012.54,"y":1963.2},{"p":"c","s":"o","x":2012.64,"y":1890.3},{"p":"c","s":"o","x":2012.82,"y":1890.7},{"p":"c","s":"o","x":2013.00,"y":1969},{"p":"c","s":"o","x":2013.25,"y":1906.5},{"p":"c","s":"o","x":2013.34,"y":1913.4},{"p":"c","s":"o","x":2013.43,"y":1877.5},{"p":"c","s":"o","x":2013.51,"y":1942.4},{"p":"c","s":"o","x":2013.61,"y":1906.5},{"p":"c","s":"o","x":2013.73,"y":1901.9},{"p":"c","s":"o","x":2013.79,"y":1909.9},{"p":"c","s":"o","x":2013.95,"y":1938.9},{"p":"c","s":"o","x":2014.04,"y":1914.6},{"p":"c","s":"o","x":2014.16,"y":1908.8},{"p":"c","s":"o","x":2014.34,"y":1930.8},{"p":"c","s":"o","x":2014.44,"y":1950},{"p":"c","s":"o","x":2014.52,"y":1929.6},{"p":"c","s":"o","x":2014.65,"y":1942.4},{"p":"c","s":"o","x":2014.73,"y":1934.3},{"p":"c","s":"o","x":2014.83,"y":1926.2},{"p":"c","s":"o","x":2014.92,"y":1958.6},{"p":"c","s":"o","x":2015.07,"y":1933.1},{"p":"c","s":"o","x":2015.25,"y":1915.7},{"p":"c","s":"o","x":2015.34,"y":1930.8},{"p":"c","s":"o","x":2015.44,"y":1994},{"p":"c","s":"o","x":2015.50,"y":1984.7},{"p":"c","s":"o","x":2015.58,"y":1962},{"p":"c","s":"o","x":2015.68,"y":1981},{"p":"c","s":"o","x":2015.78,"y":1978.2},{"p":"c","s":"o","x":2015.82,"y":1894.4},

{"p":"c","s":"n","x":1994.73,"y":1877.5},{"p":"c","s":"n","x":2002.76,"y":1893.3},{"p":"c","s":"n","x":2011.30,"y":1888.7},

{"p":"c","s":"m","x":2001.15,"y":1886.8},{"p":"c","s":"m","x":2001.27,"y":1916.4},{"p":"c","s":"m","x":2001.42,"y":1848.6},{"p":"c","s":"m","x":2001.54,"y":1868.3},{"p":"c","s":"m","x":2001.66,"y":1864.8},{"p":"c","s":"m","x":2001.76,"y":1908.3},{"p":"c","s":"m","x":2001.85,"y":1900},{"p":"c","s":"m","x":2001.91,"y":1871.8},{"p":"c","s":"m","x":2002.01,"y":1877.5},{"p":"c","s":"m","x":2002.09,"y":1921.5},{"p":"c","s":"m","x":2002.15,"y":1870.6},{"p":"c","s":"m","x":2002.25,"y":1901.9},{"p":"c","s":"m","x":2002.33,"y":1864.8},{"p":"c","s":"m","x":2002.42,"y":1874.1},{"p":"c","s":"m","x":2002.52,"y":1879.9},{"p":"c","s":"m","x":2002.66,"y":1909.9},{"p":"c","s":"m","x":2002.76,"y":1890.3},{"p":"c","s":"m","x":2002.82,"y":1834.3},{"p":"c","s":"m","x":2002.90,"y":1857.4},{"p":"c","s":"m","x":2003.00,"y":1879.9},{"p":"c","s":"m","x":2003.10,"y":1955.6},{"p":"c","s":"m","x":2003.19,"y":1890.3},{"p":"c","s":"m","x":2003.25,"y":1890.3},{"p":"c","s":"m","x":2003.27,"y":1882.2},{"p":"c","s":"m","x":2003.34,"y":1859.7},{"p":"c","s":"m","x":2003.43,"y":1864.8},{"p":"c","s":"m","x":2003.46,"y":1922.2},{"p":"c","s":"m","x":2003.55,"y":1871.8},{"p":"c","s":"m","x":2003.61,"y":1864.8},{"p":"c","s":"m","x":2003.73,"y":1898.4},{"p":"c","s":"m","x":2003.79,"y":1897.2},{"p":"c","s":"m","x":2003.83,"y":1881.5},{"p":"c","s":"m","x":2003.92,"y":1864.8},{"p":"c","s":"m","x":2004.00,"y":1863},{"p":"c","s":"m","x":2004.07,"y":1905.3},{"p":"c","s":"m","x":2004.16,"y":1914.6},{"p":"c","s":"m","x":2004.22,"y":1879.9},{"p":"c","s":"m","x":2004.24,"y":1923.1},{"p":"c","s":"m","x":2004.34,"y":1878.7},{"p":"c","s":"m","x":2004.40,"y":1898.4},{"p":"c","s":"m","x":2004.46,"y":1911.6},{"p":"c","s":"m","x":2004.52,"y":1874.1},{"p":"c","s":"m","x":2004.58,"y":1923.1},{"p":"c","s":"m","x":2004.68,"y":1854.4},{"p":"c","s":"m","x":2004.73,"y":1908.3},
{"p":"c","s":"m","x":2004.85,"y":1845.1},{"p":"c","s":"m","x":2004.91,"y":1844.4},{"p":"c","s":"m","x":2005.00,"y":1853.2},{"p":"c","s":"m","x":2005.09,"y":1853.7},{"p":"c","s":"m","x":2005.19,"y":1852.1},{"p":"c","s":"m","x":2005.31,"y":1863.7},{"p":"c","s":"m","x":2005.40,"y":1864.8},{"p":"c","s":"m","x":2005.48,"y":1908.8},{"p":"c","s":"m","x":2005.58,"y":1934.7},{"p":"c","s":"m","x":2005.68,"y":1897.2},{"p":"c","s":"m","x":2005.76,"y":1904.2},{"p":"c","s":"m","x":2005.85,"y":1913.9},{"p":"c","s":"m","x":2005.95,"y":1896.1},{"p":"c","s":"m","x":2006.04,"y":1895.4},{"p":"c","s":"m","x":2006.13,"y":1886.8},{"p":"c","s":"m","x":2006.17,"y":1868.3},{"p":"c","s":"m","x":2006.25,"y":1867.1},{"p":"c","s":"m","x":2006.34,"y":1872.2},{"p":"c","s":"m","x":2006.43,"y":1857.9},{"p":"c","s":"m","x":2006.53,"y":1872.9},{"p":"c","s":"m","x":2006.62,"y":1882.2},{"p":"c","s":"m","x":2006.70,"y":1855.6},{"p":"c","s":"m","x":2006.80,"y":1861.3},{"p":"c","s":"m","x":2006.90,"y":1900},{"p":"c","s":"m","x":2006.98,"y":1940},{"p":"c","s":"m","x":2007.07,"y":1892.1},{"p":"c","s":"m","x":2007.16,"y":1876.4},{"p":"c","s":"m","x":2007.28,"y":1915.7},{"p":"c","s":"m","x":2007.41,"y":1875.2},{"p":"c","s":"m","x":2007.47,"y":1875.2},{"p":"c","s":"m","x":2007.59,"y":1915.7},{"p":"c","s":"m","x":2007.65,"y":1874.1},{"p":"c","s":"m","x":2007.75,"y":1905.3},{"p":"c","s":"m","x":2007.87,"y":1964.4},{"p":"c","s":"m","x":2007.95,"y":1879.2},{"p":"c","s":"m","x":2008.04,"y":1882.9},{"p":"c","s":"m","x":2008.14,"y":1863},{"p":"c","s":"m","x":2008.20,"y":1934.3},{"p":"c","s":"m","x":2008.26,"y":1929.6},{"p":"c","s":"m","x":2008.36,"y":1864.8},{"p":"c","s":"m","x":2008.44,"y":1879.2},{"p":"c","s":"m","x":2008.53,"y":1913.4},{"p":"c","s":"m","x":2008.60,"y":1874.1},{"p":"c","s":"m","x":2008.68,"y":1866},{"p":"c","s":"m","x":2008.78,"y":1892.6},{"p":"c","s":"m","x":2008.87,"y":1867.6},{"p":"c","s":"m","x":2008.96,"y":1903.7},{"p":"c","s":"m","x":2009.05,"y":1886.1},{"p":"c","s":"m","x":2009.13,"y":1904.6},{"p":"c","s":"m","x":2009.23,"y":1897.7},{"p":"c","s":"m","x":2009.33,"y":1890.3},{"p":"c","s":"m","x":2009.41,"y":1895.4},{"p":"c","s":"m","x":2009.54,"y":1931.9},{"p":"c","s":"m","x":2009.62,"y":1902.3},{"p":"c","s":"m","x":2009.72,"y":1897.2},{"p":"c","s":"m","x":2009.82,"y":1895.4},{"p":"c","s":"m","x":2009.90,"y":1883.3},{"p":"c","s":"m","x":2009.99,"y":1895.4},{"p":"c","s":"m","x":2010.08,"y":1900},{"p":"c","s":"m","x":2010.18,"y":1906.9},{"p":"c","s":"m","x":2010.27,"y":1897.2},{"p":"c","s":"m","x":2010.35,"y":1882.9},{"p":"c","s":"m","x":2010.45,"y":1892.6},{"p":"c","s":"m","x":2010.55,"y":1887.5},{"p":"c","s":"m","x":2010.63,"y":1888.4},{"p":"c","s":"m","x":2010.69,"y":1894.4},{"p":"c","s":"m","x":2010.79,"y":1890.3},{"p":"c","s":"m","x":2010.87,"y":1912.3},{"p":"c","s":"m","x":2010.96,"y":1888},{"p":"c","s":"m","x":2011.06,"y":1900},{"p":"c","s":"m","x":2011.15,"y":1915.3},{"p":"c","s":"m","x":2011.24,"y":1925},{"p":"c","s":"m","x":2011.36,"y":1927.8},{"p":"c","s":"m","x":2011.45,"y":1899.5},{"p":"c","s":"m","x":2011.54,"y":1916.9},{"p":"c","s":"m","x":2011.64,"y":1886.8},{"p":"c","s":"m","x":2011.64,"y":1984},{"p":"c","s":"m","x":2011.73,"y":1922.2},{"p":"c","s":"m","x":2011.81,"y":1918.5},{"p":"c","s":"m","x":2011.91,"y":1929.2},{"p":"c","s":"m","x":2012.00,"y":1926.9},{"p":"c","s":"m","x":2012.13,"y":1919.9},{"p":"c","s":"m","x":2012.21,"y":1908.3},{"p":"c","s":"m","x":2012.30,"y":1886.8},{"p":"c","s":"m","x":2012.42,"y":1919.9},{"p":"c","s":"m","x":2012.52,"y":1908.3},{"p":"c","s":"m","x":2012.61,"y":1886.8},{"p":"c","s":"m","x":2012.70,"y":1883.8},{"p":"c","s":"m","x":2012.78,"y":1908.3},{"p":"c","s":"m","x":2012.86,"y":1892.6},{"p":"c","s":"m","x":2013.00,"y":1936.6},{"p":"c","s":"m","x":2013.12,"y":1928.5},{"p":"c","s":"m","x":2013.25,"y":1913.4},{"p":"c","s":"m","x":2013.34,"y":1911.6},{"p":"c","s":"m","x":2013.39,"y":1901.9},{"p":"c","s":"m","x":2013.46,"y":1908.3},{"p":"c","s":"m","x":2013.51,"y":1953.9},{"p":"c","s":"m","x":2013.59,"y":1941.2},{"p":"c","s":"m","x":2013.67,"y":1890.7},{"p":"c","s":"m","x":2013.76,"y":1895.4},{"p":"c","s":"m","x":2013.83,"y":1927.3},{"p":"c","s":"m","x":2013.88,"y":1938.4},{"p":"c","s":"m","x":2013.95,"y":1959.3},

{"p":"c","s":"of","x":1993.64,"y":1852.1},{"p":"c","s":"of","x":1993.88,"y":1856.7},{"p":"c","s":"of","x":1994.12,"y":1864.8},{"p":"c","s":"of","x":1994.37,"y":1872.9},{"p":"c","s":"of","x":1994.61,"y":1877.5},{"p":"c","s":"of","x":1994.85,"y":1879.2},{"p":"c","s":"of","x":1995.22,"y":1879.9},{"p":"c","s":"of","x":1995.58,"y":1882.2},{"p":"c","s":"of","x":1995.95,"y":1885.2},{"p":"c","s":"of","x":1996.19,"y":1885.2},{"p":"c","s":"of","x":1996.43,"y":1878.7},{"p":"c","s":"of","x":1996.68,"y":1868.3},{"p":"c","s":"of","x":1996.92,"y":1859},{"p":"c","s":"of","x":1997.16,"y":1854.4},{"p":"c","s":"of","x":1997.41,"y":1855.6},{"p":"c","s":"of","x":1997.65,"y":1862.5},{"p":"c","s":"of","x":1997.89,"y":1874.1},{"p":"c","s":"of","x":1998.14,"y":1888},{"p":"c","s":"of","x":1998.38,"y":1897.2},{"p":"c","s":"of","x":1998.62,"y":1900},{"p":"c","s":"of","x":1998.87,"y":1900.7},{"p":"c","s":"of","x":1999.11,"y":1900.7},{"p":"c","s":"of","x":1999.35,"y":1901.9},{"p":"c","s":"of","x":1999.60,"y":1903},{"p":"c","s":"of","x":1999.84,"y":1904.6},{"p":"c","s":"of","x":2000.08,"y":1903},{"p":"c","s":"of","x":2000.33,"y":1898.4},{"p":"c","s":"of","x":2000.57,"y":1890.3},{"p":"c","s":"of","x":2000.81,"y":1884.5},{"p":"c","s":"of","x":2001.06,"y":1877.5},{"p":"c","s":"of","x":2001.30,"y":1872.7},{"p":"c","s":"of","x":2001.54,"y":1872.2},{"p":"c","s":"of","x":2001.79,"y":1875.2},{"p":"c","s":"of","x":2002.03,"y":1882.2},{"p":"c","s":"of","x":2002.27,"y":1888},{"p":"c","s":"of","x":2002.52,"y":1890.7},{"p":"c","s":"of","x":2002.76,"y":1892.6},{"p":"c","s":"of","x":2003.00,"y":1891.4},{"p":"c","s":"of","x":2003.25,"y":1886.8},{"p":"c","s":"of","x":2003.49,"y":1882.2},{"p":"c","s":"of","x":2003.73,"y":1881},{"p":"c","s":"of","x":2003.98,"y":1879.9},{"p":"c","s":"of","x":2004.22,"y":1878.7},{"p":"c","s":"of","x":2004.46,"y":1882.2},{"p":"c","s":"of","x":2004.77,"y":1888},{"p":"c","s":"of","x":2004.97,"y":1894.4},{"p":"c","s":"of","x":2005.22,"y":1899.5},{"p":"c","s":"of","x":2005.46,"y":1904.6},{"p":"c","s":"of","x":2005.70,"y":1906},{"p":"c","s":"of","x":2005.95,"y":1903.7},{"p":"c","s":"of","x":2006.31,"y":1899.5},{"p":"c","s":"of","x":2006.68,"y":1897.7},{"p":"c","s":"of","x":2007.04,"y":1900.7},{"p":"c","s":"of","x":2007.41,"y":1906.5},{"p":"c","s":"of","x":2007.77,"y":1911.6},{"p":"c","s":"of","x":2008.01,"y":1912.3},{"p":"c","s":"of","x":2008.26,"y":1908.8},{"p":"c","s":"of","x":2008.50,"y":1901.9},{"p":"c","s":"of","x":2008.74,"y":1896.8},{"p":"c","s":"of","x":2008.99,"y":1895.4},{"p":"c","s":"of","x":2009.23,"y":1897.7},{"p":"c","s":"of","x":2009.47,"y":1903.7},{"p":"c","s":"of","x":2009.72,"y":1912.3},{"p":"c","s":"of","x":2009.96,"y":1920.4},{"p":"c","s":"of","x":2010.14,"y":1921.5},{"p":"c","s":"of","x":2010.33,"y":1918.1},{"p":"c","s":"of","x":2010.57,"y":1908.8},{"p":"c","s":"of","x":2010.81,"y":1900.7},{"p":"c","s":"of","x":2011.06,"y":1900},{"p":"c","s":"of","x":2011.30,"y":1906.5},{"p":"c","s":"of","x":2011.54,"y":1915.7},{"p":"c","s":"of","x":2011.79,"y":1923.8},{"p":"c","s":"of","x":2012.03,"y":1928.5},{"p":"c","s":"of","x":2012.27,"y":1929.2},{"p":"c","s":"of","x":2012.52,"y":1927.3},{"p":"c","s":"of","x":2012.76,"y":1923.8},{"p":"c","s":"of","x":2013.00,"y":1920.8},{"p":"c","s":"of","x":2013.25,"y":1919.2},{"p":"c","s":"of","x":2013.49,"y":1919.2},{"p":"c","s":"of","x":2013.73,"y":1920.8},{"p":"c","s":"of","x":2013.98,"y":1923.8},{"p":"c","s":"of","x":2014.22,"y":1928.5},{"p":"c","s":"of","x":2014.46,"y":1933.1},{"p":"c","s":"of","x":2014.71,"y":1937.7},{"p":"c","s":"of","x":2014.95,"y":1942.4},{"p":"c","s":"of","x":2015.19,"y":1947},{"p":"c","s":"of","x":2015.44,"y":1950.9},{"p":"c","s":"of","x":2015.68,"y":1953.9},{"p":"c","s":"of","x":2015.86,"y":1956.2},

{"p":"c","s":"oh","x":1993.64,"y":1876.4},{"p":"c","s":"oh","x":1994.00,"y":1881},{"p":"c","s":"oh","x":1994.37,"y":1884.5},{"p":"c","s":"oh","x":1994.73,"y":1888.4},{"p":"c","s":"oh","x":1995.10,"y":1890.3},{"p":"c","s":"oh","x":1995.46,"y":1894.9},{"p":"c","s":"oh","x":1995.82,"y":1908.8},{"p":"c","s":"oh","x":1996.13,"y":1918.1},{"p":"c","s":"oh","x":1996.37,"y":1921.5},{"p":"c","s":"oh","x":1996.62,"y":1913.4},{"p":"c","s":"oh","x":1996.86,"y":1897.2},{"p":"c","s":"oh","x":1997.10,"y":1879.2},{"p":"c","s":"oh","x":1997.29,"y":1876.4},{"p":"c","s":"oh","x":1997.53,"y":1883.3},{"p":"c","s":"oh","x":1997.77,"y":1897.2},{"p":"c","s":"oh","x":1998.01,"y":1915.7},{"p":"c","s":"oh","x":1998.26,"y":1930.8},{"p":"c","s":"oh","x":1998.50,"y":1938.9},{"p":"c","s":"oh","x":1998.74,"y":1936.6},{"p":"c","s":"oh","x":1998.99,"y":1928.5},{"p":"c","s":"oh","x":1999.23,"y":1922.7},{"p":"c","s":"oh","x":1999.47,"y":1927.3},{"p":"c","s":"oh","x":1999.72,"y":1933.1},{"p":"c","s":"oh","x":1999.96,"y":1936.1},{"p":"c","s":"oh","x":2000.20,"y":1931.9},{"p":"c","s":"oh","x":2000.45,"y":1918.1},{"p":"c","s":"oh","x":2000.69,"y":1905.3},{"p":"c","s":"oh","x":2000.93,"y":1899.5},{"p":"c","s":"oh","x":2001.18,"y":1901.9},{"p":"c","s":"oh","x":2001.42,"y":1903.7},{"p":"c","s":"oh","x":2001.66,"y":1900},{"p":"c","s":"oh","x":2001.91,"y":1894.9},{"p":"c","s":"oh","x":2002.15,"y":1899.5},{"p":"c","s":"oh","x":2002.39,"y":1907.6},{"p":"c","s":"oh","x":2002.64,"y":1913.4},{"p":"c","s":"oh","x":2002.88,"y":1914.6},{"p":"c","s":"oh","x":2003.12,"y":1911.1},{"p":"c","s":"oh","x":2003.37,"y":1906},{"p":"c","s":"oh","x":2003.61,"y":1902.3},{"p":"c","s":"oh","x":2003.85,"y":1899.5},{"p":"c","s":"oh","x":2004.10,"y":1897.2},{"p":"c","s":"oh","x":2004.34,"y":1896.1},{"p":"c","s":"oh","x":2004.77,"y":1898.4},{"p":"c","s":"oh","x":2005.09,"y":1918.1},{"p":"c","s":"oh","x":2005.46,"y":1923.8},{"p":"c","s":"oh","x":2005.82,"y":1926.9},{"p":"c","s":"oh","x":2006.19,"y":1921.5},{"p":"c","s":"oh","x":2006.55,"y":1915.7},{"p":"c","s":"oh","x":2006.92,"y":1914.6},{"p":"c","s":"oh","x":2007.28,"y":1920.4},{"p":"c","s":"oh","x":2007.65,"y":1927.3},{"p":"c","s":"oh","x":2008.01,"y":1931.9},{"p":"c","s":"oh","x":2008.38,"y":1929.6},{"p":"c","s":"oh","x":2008.74,"y":1920.4},{"p":"c","s":"oh","x":2009.11,"y":1913.4},{"p":"c","s":"oh","x":2009.47,"y":1915.7},{"p":"c","s":"oh","x":2009.72,"y":1925},{"p":"c","s":"oh","x":2009.96,"y":1930.8},{"p":"c","s":"oh","x":2010.20,"y":1929.6},{"p":"c","s":"oh","x":2010.45,"y":1925},{"p":"c","s":"oh","x":2010.69,"y":1913.4},{"p":"c","s":"oh","x":2010.93,"y":1913.4},{"p":"c","s":"oh","x":2011.18,"y":1921.5},{"p":"c","s":"oh","x":2011.42,"y":1929.6},{"p":"c","s":"oh","x":2011.66,"y":1936.6},{"p":"c","s":"oh","x":2012.03,"y":1943.5},{"p":"c","s":"oh","x":2012.52,"y":1948.1},{"p":"c","s":"oh","x":2013.00,"y":1948.1},{"p":"c","s":"oh","x":2013.49,"y":1942.4},{"p":"c","s":"oh","x":2013.73,"y":1941.2},{"p":"c","s":"oh","x":2013.98,"y":1944.7},{"p":"c","s":"oh","x":2014.34,"y":1952.8},{"p":"c","s":"oh","x":2014.71,"y":1959.7},{"p":"c","s":"oh","x":2015.07,"y":1969},{"p":"c","s":"oh","x":2015.44,"y":1977.1},{"p":"c","s":"oh","x":2015.86,"y":1975.9},

{"p":"c","s":"ol","x":1993.64,"y":1833.6},{"p":"c","s":"ol","x":1994.00,"y":1841.7},{"p":"c","s":"ol","x":1994.24,"y":1855.6},{"p":"c","s":"ol","x":1994.49,"y":1864.8},{"p":"c","s":"ol","x":1994.73,"y":1868.3},{"p":"c","s":"ol","x":1994.97,"y":1870.6},{"p":"c","s":"ol","x":1995.22,"y":1866},{"p":"c","s":"ol","x":1995.46,"y":1859},{"p":"c","s":"ol","x":1995.70,"y":1855.6},{"p":"c","s":"ol","x":1996.07,"y":1846.3},{"p":"c","s":"ol","x":1996.43,"y":1842.8},{"p":"c","s":"ol","x":1996.80,"y":1840.5},{"p":"c","s":"ol","x":1997.10,"y":1838.2},{"p":"c","s":"ol","x":1997.35,"y":1838.2},{"p":"c","s":"ol","x":1997.65,"y":1845.1},{"p":"c","s":"ol","x":1997.95,"y":1855.6},{"p":"c","s":"ol","x":1998.26,"y":1863.7},{"p":"c","s":"ol","x":1998.50,"y":1864.8},{"p":"c","s":"ol","x":1998.74,"y":1867.1},{"p":"c","s":"ol","x":1999.11,"y":1872.9},{"p":"c","s":"ol","x":1999.41,"y":1881},{"p":"c","s":"ol","x":1999.72,"y":1876.4},{"p":"c","s":"ol","x":2000.02,"y":1871.8},{"p":"c","s":"ol","x":2000.33,"y":1871.8},{"p":"c","s":"ol","x":2000.63,"y":1864.8},{"p":"c","s":"ol","x":2000.93,"y":1856.7},{"p":"c","s":"ol","x":2001.18,"y":1848.6},{"p":"c","s":"ol","x":2001.42,"y":1854.4},{"p":"c","s":"ol","x":2001.66,"y":1861.3},{"p":"c","s":"ol","x":2001.91,"y":1866},{"p":"c","s":"ol","x":2002.15,"y":1866.7},{"p":"c","s":"ol","x":2002.39,"y":1866},{"p":"c","s":"ol","x":2002.64,"y":1867.1},{"p":"c","s":"ol","x":2002.88,"y":1869.4},{"p":"c","s":"ol","x":2003.12,"y":1869.4},{"p":"c","s":"ol","x":2003.37,"y":1866},{"p":"c","s":"ol","x":2003.61,"y":1862.5},{"p":"c","s":"ol","x":2003.85,"y":1863},{"p":"c","s":"ol","x":2004.10,"y":1867.1},{"p":"c","s":"ol","x":2004.34,"y":1869.4},{"p":"c","s":"ol","x":2004.58,"y":1869.9},{"p":"c","s":"ol","x":2004.77,"y":1871.8},{"p":"c","s":"ol","x":2005.09,"y":1874.1},{"p":"c","s":"ol","x":2005.46,"y":1879.9},{"p":"c","s":"ol","x":2005.82,"y":1883.3},{"p":"c","s":"ol","x":2006.19,"y":1883.3},{"p":"c","s":"ol","x":2006.55,"y":1879.9},{"p":"c","s":"ol","x":2006.92,"y":1881},{"p":"c","s":"ol","x":2007.28,"y":1888},{"p":"c","s":"ol","x":2007.65,"y":1891.4},{"p":"c","s":"ol","x":2008.01,"y":1895.4},{"p":"c","s":"ol","x":2008.38,"y":1892.6},{"p":"c","s":"ol","x":2008.74,"y":1881},{"p":"c","s":"ol","x":2009.05,"y":1876.4},{"p":"c","s":"ol","x":2009.35,"y":1882.2},{"p":"c","s":"ol","x":2009.72,"y":1894.9},{"p":"c","s":"ol","x":2010.08,"y":1901.9},{"p":"c","s":"ol","x":2010.33,"y":1899.5},{"p":"c","s":"ol","x":2010.57,"y":1892.6},{"p":"c","s":"ol","x":2010.87,"y":1885.6},{"p":"c","s":"ol","x":2011.18,"y":1890.3},{"p":"c","s":"ol","x":2011.42,"y":1898.4},{"p":"c","s":"ol","x":2011.73,"y":1908.8},{"p":"c","s":"ol","x":2012.03,"y":1912.3},{"p":"c","s":"ol","x":2012.39,"y":1906.5},{"p":"c","s":"ol","x":2012.76,"y":1897.2},{"p":"c","s":"ol","x":2013.12,"y":1890.3},{"p":"c","s":"ol","x":2013.37,"y":1890.3},{"p":"c","s":"ol","x":2013.61,"y":1894.9},{"p":"c","s":"ol","x":2013.98,"y":1901.9},{"p":"c","s":"ol","x":2014.34,"y":1913.4},{"p":"c","s":"ol","x":2014.71,"y":1921.5},{"p":"c","s":"ol","x":2015.07,"y":1927.3},{"p":"c","s":"ol","x":2015.44,"y":1930.8},{"p":"c","s":"ol","x":2015.86,"y":1936.6},

{"p":"c","s":"mf","x":2001.08,"y":1878.2},{"p":"c","s":"mf","x":2001.42,"y":1882.2},{"p":"c","s":"mf","x":2001.79,"y":1884.5},{"p":"c","s":"mf","x":2002.15,"y":1886.3},{"p":"c","s":"mf","x":2002.39,"y":1885.6},{"p":"c","s":"mf","x":2002.64,"y":1882.2},{"p":"c","s":"mf","x":2002.88,"y":1879.9},{"p":"c","s":"mf","x":2003.12,"y":1881},{"p":"c","s":"mf","x":2003.37,"y":1883.8},{"p":"c","s":"mf","x":2003.61,"y":1886.8},{"p":"c","s":"mf","x":2003.98,"y":1889.1},{"p":"c","s":"mf","x":2004.34,"y":1889.1},{"p":"c","s":"mf","x":2004.77,"y":1885.2},{"p":"c","s":"mf","x":2005.09,"y":1890.3},{"p":"c","s":"mf","x":2005.46,"y":1890.7},{"p":"c","s":"mf","x":2005.82,"y":1888},{"p":"c","s":"mf","x":2006.19,"y":1884.5},{"p":"c","s":"mf","x":2006.55,"y":1883.3},{"p":"c","s":"mf","x":2006.92,"y":1885.6},{"p":"c","s":"mf","x":2007.28,"y":1890.3},{"p":"c","s":"mf","x":2007.65,"y":1894.9},{"p":"c","s":"mf","x":2008.01,"y":1897.2},{"p":"c","s":"mf","x":2008.38,"y":1894.9},{"p":"c","s":"mf","x":2008.74,"y":1892.6},{"p":"c","s":"mf","x":2009.11,"y":1897.2},{"p":"c","s":"mf","x":2009.47,"y":1901.9},{"p":"c","s":"mf","x":2009.84,"y":1901.9},{"p":"c","s":"mf","x":2010.20,"y":1899.5},{"p":"c","s":"mf","x":2010.57,"y":1896.1},{"p":"c","s":"mf","x":2010.81,"y":1897.2},{"p":"c","s":"mf","x":2011.06,"y":1904.2},{"p":"c","s":"mf","x":2011.30,"y":1911.1},{"p":"c","s":"mf","x":2011.54,"y":1914.6},{"p":"c","s":"mf","x":2011.79,"y":1913.4},{"p":"c","s":"mf","x":2012.03,"y":1908.8},{"p":"c","s":"mf","x":2012.27,"y":1904.2},{"p":"c","s":"mf","x":2012.52,"y":1904.2},{"p":"c","s":"mf","x":2012.76,"y":1907.6},{"p":"c","s":"mf","x":2013.12,"y":1913.4},{"p":"c","s":"mf","x":2013.49,"y":1918.1},{"p":"c","s":"mf","x":2013.88,"y":1923.1},

{"p":"c","s":"mh","x":2001.08,"y":1900.7},{"p":"c","s":"mh","x":2001.42,"y":1903},{"p":"c","s":"mh","x":2001.79,"y":1904.6},{"p":"c","s":"mh","x":2002.15,"y":1904.2},{"p":"c","s":"mh","x":2002.52,"y":1904.2},{"p":"c","s":"mh","x":2002.88,"y":1906.9},{"p":"c","s":"mh","x":2003.25,"y":1908.8},{"p":"c","s":"mh","x":2003.61,"y":1908.3},{"p":"c","s":"mh","x":2003.98,"y":1906.5},{"p":"c","s":"mh","x":2004.34,"y":1901.9},{"p":"c","s":"mh","x":2004.77,"y":1898.4},{"p":"c","s":"mh","x":2005.09,"y":1911.1},{"p":"c","s":"mh","x":2005.46,"y":1913.4},{"p":"c","s":"mh","x":2005.82,"y":1911.1},{"p":"c","s":"mh","x":2006.19,"y":1904.2},{"p":"c","s":"mh","x":2006.55,"y":1901.9},{"p":"c","s":"mh","x":2006.92,"y":1907.6},{"p":"c","s":"mh","x":2007.28,"y":1914.6},{"p":"c","s":"mh","x":2007.65,"y":1915.7},{"p":"c","s":"mh","x":2008.01,"y":1913.4},{"p":"c","s":"mh","x":2008.38,"y":1913.4},{"p":"c","s":"mh","x":2008.74,"y":1916.9},{"p":"c","s":"mh","x":2009.11,"y":1923.1},{"p":"c","s":"mh","x":2009.47,"y":1929.6},{"p":"c","s":"mh","x":2009.84,"y":1929.6},{"p":"c","s":"mh","x":2010.20,"y":1920.4},{"p":"c","s":"mh","x":2010.57,"y":1913.4},{"p":"c","s":"mh","x":2010.81,"y":1916.9},{"p":"c","s":"mh","x":2011.06,"y":1923.8},{"p":"c","s":"mh","x":2011.30,"y":1929.6},{"p":"c","s":"mh","x":2011.54,"y":1931.9},{"p":"c","s":"mh","x":2011.79,"y":1927.3},{"p":"c","s":"mh","x":2012.03,"y":1920.4},{"p":"c","s":"mh","x":2012.27,"y":1918.1},{"p":"c","s":"mh","x":2012.52,"y":1925},{"p":"c","s":"mh","x":2012.76,"y":1934.3},{"p":"c","s":"mh","x":2013.12,"y":1941.2},{"p":"c","s":"mh","x":2013.49,"y":1940},{"p":"c","s":"mh","x":2013.88,"y":1934.3},

{"p":"c","s":"ml","x":2001.08,"y":1857.9},{"p":"c","s":"ml","x":2001.30,"y":1855.6},{"p":"c","s":"ml","x":2001.54,"y":1862.5},{"p":"c","s":"ml","x":2001.91,"y":1867.1},{"p":"c","s":"ml","x":2002.27,"y":1866},{"p":"c","s":"ml","x":2002.64,"y":1861.3},{"p":"c","s":"ml","x":2002.88,"y":1857.9},{"p":"c","s":"ml","x":2003.12,"y":1859},{"p":"c","s":"ml","x":2003.37,"y":1863},{"p":"c","s":"ml","x":2003.73,"y":1866},{"p":"c","s":"ml","x":2004.10,"y":1866},{"p":"c","s":"ml","x":2004.46,"y":1864.8},{"p":"c","s":"ml","x":2004.77,"y":1862.5},{"p":"c","s":"ml","x":2005.09,"y":1870.6},{"p":"c","s":"ml","x":2005.46,"y":1871.8},{"p":"c","s":"ml","x":2005.82,"y":1867.1},{"p":"c","s":"ml","x":2006.19,"y":1864.8},{"p":"c","s":"ml","x":2006.55,"y":1862.5},{"p":"c","s":"ml","x":2006.92,"y":1867.1},{"p":"c","s":"ml","x":2007.28,"y":1872.9},{"p":"c","s":"ml","x":2007.65,"y":1878.7},{"p":"c","s":"ml","x":2008.01,"y":1879.9},{"p":"c","s":"ml","x":2008.38,"y":1877.5},{"p":"c","s":"ml","x":2008.74,"y":1870.6},{"p":"c","s":"ml","x":2009.11,"y":1874.1},{"p":"c","s":"ml","x":2009.47,"y":1879.9},{"p":"c","s":"ml","x":2009.84,"y":1883.3},{"p":"c","s":"ml","x":2010.20,"y":1884.5},{"p":"c","s":"ml","x":2010.57,"y":1890.3},{"p":"c","s":"ml","x":2010.81,"y":1892.6},{"p":"c","s":"ml","x":2011.06,"y":1890.3},{"p":"c","s":"ml","x":2011.30,"y":1886.8},{"p":"c","s":"ml","x":2011.54,"y":1888},{"p":"c","s":"ml","x":2011.79,"y":1891.4},{"p":"c","s":"ml","x":2012.03,"y":1890.3},{"p":"c","s":"ml","x":2012.27,"y":1886.8},{"p":"c","s":"ml","x":2012.52,"y":1883.3},{"p":"c","s":"ml","x":2012.76,"y":1884.5},{"p":"c","s":"ml","x":2013.12,"y":1890.3},{"p":"c","s":"ml","x":2013.49,"y":1899.5},{"p":"c","s":"ml","x":2013.88,"y":1906.5},

{"p":"d","s":"o","x":1993.64,"y":2019.4},{"p":"d","s":"o","x":1993.76,"y":1856.7},{"p":"d","s":"o","x":1993.88,"y":1858.3},{"p":"d","s":"o","x":1994.00,"y":1955.1},{"p":"d","s":"o","x":1994.12,"y":2001.9},{"p":"d","s":"o","x":1994.18,"y":1948.1},{"p":"d","s":"o","x":1994.34,"y":1852.8},{"p":"d","s":"o","x":1994.43,"y":1826.6},{"p":"d","s":"o","x":1994.51,"y":1857.9},{"p":"d","s":"o","x":1994.61,"y":1922.7},{"p":"d","s":"o","x":1994.71,"y":1910.4},{"p":"d","s":"o","x":1994.79,"y":1918.5},{"p":"d","s":"o","x":1994.85,"y":1870.6},{"p":"d","s":"o","x":1994.95,"y":1841.7},{"p":"d","s":"o","x":1995.07,"y":1913.9},{"p":"d","s":"o","x":1995.16,"y":1883.8},{"p":"d","s":"o","x":1995.28,"y":1854.4},{"p":"d","s":"o","x":1995.40,"y":1900},{"p":"d","s":"o","x":1995.52,"y":1866},{"p":"d","s":"o","x":1995.61,"y":1906.9},{"p":"d","s":"o","x":1995.70,"y":1933.6},{"p":"d","s":"o","x":1995.80,"y":1938.9},{"p":"d","s":"o","x":1995.85,"y":1886.8},{"p":"d","s":"o","x":1995.95,"y":1841.7},{"p":"d","s":"o","x":1996.04,"y":1855.1},{"p":"d","s":"o","x":1996.13,"y":1933.8},{"p":"d","s":"o","x":1996.19,"y":1903.7},{"p":"d","s":"o","x":1996.29,"y":1846.3},{"p":"d","s":"o","x":1996.37,"y":1875.2},{"p":"d","s":"o","x":1996.53,"y":1875.2},{"p":"d","s":"o","x":1996.62,"y":1875.2},{"p":"d","s":"o","x":1996.70,"y":1930.1},{"p":"d","s":"o","x":1996.77,"y":1871.3},{"p":"d","s":"o","x":1996.86,"y":1871.1},{"p":"d","s":"o","x":1996.94,"y":1838.2},{"p":"d","s":"o","x":1997.10,"y":1881},{"p":"d","s":"o","x":1997.19,"y":1871.1},{"p":"d","s":"o","x":1997.29,"y":1859},{"p":"d","s":"o","x":1997.35,"y":1853.7},{"p":"d","s":"o","x":1997.43,"y":1863},{"p":"d","s":"o","x":1997.50,"y":1908.3},{"p":"d","s":"o","x":1997.63,"y":1849.8},{"p":"d","s":"o","x":1997.67,"y":1932.4},{"p":"d","s":"o","x":1997.77,"y":1923.8},{"p":"d","s":"o","x":1997.87,"y":1864.8},{"p":"d","s":"o","x":1997.95,"y":1879.9},{"p":"d","s":"o","x":1998.01,"y":1881},{"p":"d","s":"o","x":1998.11,"y":1876.4},{"p":"d","s":"o","x":1998.20,"y":1854.4},{"p":"d","s":"o","x":1998.26,"y":1867.1},{"p":"d","s":"o","x":1998.36,"y":1974.8},{"p":"d","s":"o","x":1998.44,"y":1925.5},{"p":"d","s":"o","x":1998.50,"y":1898.4},{"p":"d","s":"o","x":1998.68,"y":1974.1},{"p":"d","s":"o","x":1998.81,"y":1954.6},{"p":"d","s":"o","x":1998.89,"y":1962.5},{"p":"d","s":"o","x":1998.99,"y":1899.1},{"p":"d","s":"o","x":1999.11,"y":1974.1},{"p":"d","s":"o","x":1999.21,"y":1862.5},{"p":"d","s":"o","x":1999.26,"y":1919.9},{"p":"d","s":"o","x":1999.33,"y":1893.7},{"p":"d","s":"o","x":1999.45,"y":1893.7},{"p":"d","s":"o","x":1999.52,"y":1869.4},{"p":"d","s":"o","x":1999.60,"y":1995.6},{"p":"d","s":"o","x":1999.66,"y":1948.1},{"p":"d","s":"o","x":1999.72,"y":1947},{"p":"d","s":"o","x":1999.84,"y":1859.7},{"p":"d","s":"o","x":1999.94,"y":1844.4},{"p":"d","s":"o","x":1999.99,"y":1903.7},{"p":"d","s":"o","x":2000.11,"y":1960.4},{"p":"d","s":"o","x":2000.18,"y":1927.3},{"p":"d","s":"o","x":2000.27,"y":1896.1},{"p":"d","s":"o","x":2000.33,"y":2008.8},{"p":"d","s":"o","x":2000.39,"y":1856},{"p":"d","s":"o","x":2000.51,"y":1876.9},{"p":"d","s":"o","x":2000.59,"y":1885.2},{"p":"d","s":"o","x":2000.67,"y":1886.1},{"p":"d","s":"o","x":2000.81,"y":1909.9},{"p":"d","s":"o","x":2000.93,"y":1876.4},{"p":"d","s":"o","x":2000.99,"y":1892.6},{"p":"d","s":"o","x":2001.08,"y":1872.2},{"p":"d","s":"o","x":2001.18,"y":1911.6},{"p":"d","s":"o","x":2001.27,"y":1982.4},{"p":"d","s":"o","x":2001.40,"y":1861.3},{"p":"d","s":"o","x":2001.48,"y":1847.9},{"p":"d","s":"o","x":2001.57,"y":1872.9},{"p":"d","s":"o","x":2001.66,"y":1923.8},{"p":"d","s":"o","x":2001.76,"y":1923.1},{"p":"d","s":"o","x":2001.85,"y":1917.6},{"p":"d","s":"o","x":2001.97,"y":1869},{"p":"d","s":"o","x":2002.09,"y":1874.1},{"p":"d","s":"o","x":2002.18,"y":1883.3},{"p":"d","s":"o","x":2002.27,"y":1947.5},{"p":"d","s":"o","x":2002.33,"y":1883.3},{"p":"d","s":"o","x":2002.42,"y":1858.3},{"p":"d","s":"o","x":2002.49,"y":1955.6},{"p":"d","s":"o","x":2002.61,"y":1854.9},{"p":"d","s":"o","x":2002.66,"y":1942.4},{"p":"d","s":"o","x":2002.73,"y":1869.4},{"p":"d","s":"o","x":2002.82,"y":1879.9},{"p":"d","s":"o","x":2002.88,"y":1891.4},{"p":"d","s":"o","x":2002.98,"y":1863},{"p":"d","s":"o","x":2003.06,"y":1935.4},{"p":"d","s":"o","x":2003.15,"y":1925},{"p":"d","s":"o","x":2003.25,"y":1869.9},{"p":"d","s":"o","x":2003.37,"y":1896.1},{"p":"d","s":"o","x":2003.46,"y":1950},{"p":"d","s":"o","x":2003.55,"y":1852.1},{"p":"d","s":"o","x":2003.63,"y":2000.9},{"p":"d","s":"o","x":2003.73,"y":1926.2},{"p":"d","s":"o","x":2003.79,"y":1909.9},{"p":"d","s":"o","x":2003.85,"y":1885.6},{"p":"d","s":"o","x":2003.98,"y":1896.1},{"p":"d","s":"o","x":2004.07,"y":1916.2},{"p":"d","s":"o","x":2004.16,"y":1903},{"p":"d","s":"o","x":2004.22,"y":1886.8},{"p":"d","s":"o","x":2004.32,"y":1875.2},{"p":"d","s":"o","x":2004.40,"y":1930.1},{"p":"d","s":"o","x":2004.49,"y":1922.7},{"p":"d","s":"o","x":2004.58,"y":1907.6},{"p":"d","s":"o","x":2004.68,"y":1864.8},{"p":"d","s":"o","x":2004.73,"y":1915.7},
{"p":"d","s":"o","x":2004.91,"y":1991.7},{"p":"d","s":"o","x":2005.03,"y":1852.1},{"p":"d","s":"o","x":2005.09,"y":1870.6},{"p":"d","s":"o","x":2005.22,"y":1896.1},{"p":"d","s":"o","x":2005.28,"y":1901.9},{"p":"d","s":"o","x":2005.40,"y":1919.2},{"p":"d","s":"o","x":2005.52,"y":1897.7},{"p":"d","s":"o","x":2005.61,"y":2006.5},{"p":"d","s":"o","x":2005.68,"y":1957.4},{"p":"d","s":"o","x":2005.76,"y":1958.6},{"p":"d","s":"o","x":2005.89,"y":1936.6},{"p":"d","s":"o","x":2006.07,"y":1973.6},{"p":"d","s":"o","x":2006.13,"y":1882.2},{"p":"d","s":"o","x":2006.29,"y":1923.1},{"p":"d","s":"o","x":2006.37,"y":1881},{"p":"d","s":"o","x":2006.43,"y":1897.2},{"p":"d","s":"o","x":2006.53,"y":1945.8},{"p":"d","s":"o","x":2006.65,"y":1957.4},{"p":"d","s":"o","x":2006.70,"y":1880.6},{"p":"d","s":"o","x":2006.77,"y":1941.2},{"p":"d","s":"o","x":2006.86,"y":1862.9},{"p":"d","s":"o","x":2006.94,"y":1948.1},{"p":"d","s":"o","x":2007.04,"y":1895.4},{"p":"d","s":"o","x":2007.14,"y":1881.5},{"p":"d","s":"o","x":2007.22,"y":1909.3},{"p":"d","s":"o","x":2007.31,"y":1897.2},{"p":"d","s":"o","x":2007.43,"y":1937.7},{"p":"d","s":"o","x":2007.55,"y":1901.9},{"p":"d","s":"o","x":2007.63,"y":1959.7},{"p":"d","s":"o","x":2007.71,"y":1972.9},{"p":"d","s":"o","x":2007.77,"y":1957.4},{"p":"d","s":"o","x":2007.87,"y":1958.6},{"p":"d","s":"o","x":2007.95,"y":1929.6},{"p":"d","s":"o","x":2008.04,"y":1960.9},{"p":"d","s":"o","x":2008.16,"y":1903},{"p":"d","s":"o","x":2008.28,"y":1919.2},{"p":"d","s":"o","x":2008.36,"y":1948.1},{"p":"d","s":"o","x":2008.44,"y":1883.8},{"p":"d","s":"o","x":2008.56,"y":1916.2},{"p":"d","s":"o","x":2008.65,"y":1937.7},{"p":"d","s":"o","x":2008.77,"y":1899.5},{"p":"d","s":"o","x":2008.87,"y":2001.9},{"p":"d","s":"o","x":2008.93,"y":1889.8},{"p":"d","s":"o","x":2009.01,"y":1952.3},{"p":"d","s":"o","x":2009.09,"y":1906.5},{"p":"d","s":"o","x":2009.21,"y":1894.4},{"p":"d","s":"o","x":2009.26,"y":1900},{"p":"d","s":"o","x":2009.33,"y":1925},{"p":"d","s":"o","x":2009.41,"y":1921.5},{"p":"d","s":"o","x":2009.54,"y":1918.1},{"p":"d","s":"o","x":2009.60,"y":1973.6},{"p":"d","s":"o","x":2009.69,"y":1925},{"p":"d","s":"o","x":2009.78,"y":1919.2},{"p":"d","s":"o","x":2009.94,"y":1953.2},{"p":"d","s":"o","x":2009.99,"y":1903},{"p":"d","s":"o","x":2010.08,"y":1933.1},{"p":"d","s":"o","x":2010.18,"y":1916.2},{"p":"d","s":"o","x":2010.27,"y":1925},{"p":"d","s":"o","x":2010.35,"y":1890.3},{"p":"d","s":"o","x":2010.45,"y":1893.1},{"p":"d","s":"o","x":2010.55,"y":1916.2},{"p":"d","s":"o","x":2010.63,"y":1937.7},{"p":"d","s":"o","x":2010.69,"y":1955.1},{"p":"d","s":"o","x":2010.79,"y":1891.9},{"p":"d","s":"o","x":2010.87,"y":1901.9},{"p":"d","s":"o","x":2010.96,"y":1926.2},{"p":"d","s":"o","x":2011.06,"y":1905.3},{"p":"d","s":"o","x":2011.18,"y":1957.4},{"p":"d","s":"o","x":2011.28,"y":1929.6},{"p":"d","s":"o","x":2011.36,"y":1904.6},{"p":"d","s":"o","x":2011.42,"y":1929.6},{"p":"d","s":"o","x":2011.52,"y":1886.8},{"p":"d","s":"o","x":2011.60,"y":1908.3},{"p":"d","s":"o","x":2011.69,"y":1923.8},{"p":"d","s":"o","x":2011.79,"y":1982.9},{"p":"d","s":"o","x":2011.85,"y":1915.7},{"p":"d","s":"o","x":2011.97,"y":1963.9},{"p":"d","s":"o","x":2012.07,"y":1908.8},{"p":"d","s":"o","x":2012.18,"y":1926.2},{"p":"d","s":"o","x":2012.25,"y":1903},{"p":"d","s":"o","x":2012.37,"y":1904.2},{"p":"d","s":"o","x":2012.42,"y":1971.8},{"p":"d","s":"o","x":2012.52,"y":1946.3},{"p":"d","s":"o","x":2012.61,"y":1908.8},{"p":"d","s":"o","x":2012.70,"y":1918.1},{"p":"d","s":"o","x":2012.78,"y":1934.3},{"p":"d","s":"o","x":2012.86,"y":1923.8},{"p":"d","s":"o","x":2013.00,"y":2011.1},{"p":"d","s":"o","x":2013.12,"y":1929.6},{"p":"d","s":"o","x":2013.25,"y":1922.7},{"p":"d","s":"o","x":2013.31,"y":1919.2},{"p":"d","s":"o","x":2013.39,"y":1922.7},{"p":"d","s":"o","x":2013.46,"y":1928.5},{"p":"d","s":"o","x":2013.51,"y":1914.6},{"p":"d","s":"o","x":2013.59,"y":1919.2},{"p":"d","s":"o","x":2013.67,"y":1891.4},{"p":"d","s":"o","x":2013.73,"y":1950},{"p":"d","s":"o","x":2013.79,"y":1923.8},{"p":"d","s":"o","x":2013.88,"y":1926.2},{"p":"d","s":"o","x":2013.98,"y":1967.1},{"p":"d","s":"o","x":2014.07,"y":1940.7},{"p":"d","s":"o","x":2014.16,"y":1991},{"p":"d","s":"o","x":2014.34,"y":1926.2},{"p":"d","s":"o","x":2014.46,"y":1991},{"p":"d","s":"o","x":2014.58,"y":1982.4},{"p":"d","s":"o","x":2014.65,"y":1923.1},{"p":"d","s":"o","x":2014.73,"y":1953.2},{"p":"d","s":"o","x":2014.83,"y":1960.2},{"p":"d","s":"o","x":2014.92,"y":1955.6},{"p":"d","s":"o","x":2015.07,"y":1982.9},{"p":"d","s":"o","x":2015.25,"y":1914.6},{"p":"d","s":"o","x":2015.41,"y":1959.7},{"p":"d","s":"o","x":2015.53,"y":1972.4},{"p":"d","s":"o","x":2015.62,"y":1972.4},{"p":"d","s":"o","x":2015.74,"y":1979.4},{"p":"d","s":"o","x":2015.82,"y":1911.1},

{"p":"d","s":"n","x":2002.73,"y":1934.7},{"p":"d","s":"n","x":2002.60,"y":1877.5},{"p":"d","s":"n","x":2011.24,"y":1934.3},{"p":"d","s":"n","x":2014.61,"y":1973.1},

{"p":"d","s":"m","x":2001.08,"y":1913},{"p":"d","s":"m","x":2001.30,"y":1929.6},{"p":"d","s":"m","x":2001.42,"y":1860.6},{"p":"d","s":"m","x":2001.45,"y":1856.7},{"p":"d","s":"m","x":2001.52,"y":1876.4},{"p":"d","s":"m","x":2001.60,"y":1918.5},{"p":"d","s":"m","x":2001.69,"y":1943.5},{"p":"d","s":"m","x":2001.79,"y":1918.1},{"p":"d","s":"m","x":2001.88,"y":1914.6},{"p":"d","s":"m","x":2002.01,"y":1889.1},{"p":"d","s":"m","x":2002.15,"y":1883.3},{"p":"d","s":"m","x":2002.30,"y":1929.6},{"p":"d","s":"m","x":2002.33,"y":1882.2},{"p":"d","s":"m","x":2002.42,"y":1874.1},{"p":"d","s":"m","x":2002.58,"y":1878.7},{"p":"d","s":"m","x":2002.64,"y":1966.2},{"p":"d","s":"m","x":2002.73,"y":1962.5},{"p":"d","s":"m","x":2002.82,"y":1896.1},{"p":"d","s":"m","x":2002.90,"y":1861.3},{"p":"d","s":"m","x":2002.98,"y":1853.2},{"p":"d","s":"m","x":2003.06,"y":1888},{"p":"d","s":"m","x":2003.19,"y":1912.3},{"p":"d","s":"m","x":2003.25,"y":1885.6},{"p":"d","s":"m","x":2003.34,"y":1877.5},{"p":"d","s":"m","x":2003.43,"y":1890.3},{"p":"d","s":"m","x":2003.49,"y":1878.7},{"p":"d","s":"m","x":2003.61,"y":1890.3},{"p":"d","s":"m","x":2003.73,"y":1925},{"p":"d","s":"m","x":2003.85,"y":1901.9},{"p":"d","s":"m","x":2003.95,"y":1886.8},{"p":"d","s":"m","x":2004.07,"y":1942.4},{"p":"d","s":"m","x":2004.12,"y":1881.5},{"p":"d","s":"m","x":2004.19,"y":1911.1},{"p":"d","s":"m","x":2004.28,"y":1882.2},{"p":"d","s":"m","x":2004.34,"y":1875.2},{"p":"d","s":"m","x":2004.44,"y":1956.3},{"p":"d","s":"m","x":2004.52,"y":1899.5},{"p":"d","s":"m","x":2004.61,"y":1890.3},{"p":"d","s":"m","x":2004.71,"y":1871.8},{"p":"d","s":"m","x":2004.73,"y":1881},
{"p":"d","s":"m","x":2004.74,"y":1917.6},{"p":"d","s":"m","x":2004.91,"y":1938.4},{"p":"d","s":"m","x":2005.07,"y":1912.3},{"p":"d","s":"m","x":2005.22,"y":1902.3},{"p":"d","s":"m","x":2005.31,"y":1869.4},{"p":"d","s":"m","x":2005.40,"y":1874.1},{"p":"d","s":"m","x":2005.48,"y":1880.6},{"p":"d","s":"m","x":2005.58,"y":1903},{"p":"d","s":"m","x":2005.68,"y":1929.6},{"p":"d","s":"m","x":2005.76,"y":1936.1},{"p":"d","s":"m","x":2005.85,"y":1911.6},{"p":"d","s":"m","x":2005.95,"y":1906.5},{"p":"d","s":"m","x":2006.07,"y":1889.1},{"p":"d","s":"m","x":2006.17,"y":1894.4},{"p":"d","s":"m","x":2006.29,"y":1869.4},{"p":"d","s":"m","x":2006.37,"y":1913.4},{"p":"d","s":"m","x":2006.46,"y":1947},{"p":"d","s":"m","x":2006.55,"y":1888.4},{"p":"d","s":"m","x":2006.65,"y":1871.8},{"p":"d","s":"m","x":2006.74,"y":1942.4},{"p":"d","s":"m","x":2006.82,"y":1904.6},{"p":"d","s":"m","x":2006.90,"y":1858.3},{"p":"d","s":"m","x":2006.98,"y":1971.8},{"p":"d","s":"m","x":2007.14,"y":1927.3},{"p":"d","s":"m","x":2007.22,"y":1916.2},{"p":"d","s":"m","x":2007.31,"y":1901.4},{"p":"d","s":"m","x":2007.41,"y":1936.6},{"p":"d","s":"m","x":2007.50,"y":1916.9},{"p":"d","s":"m","x":2007.59,"y":1923.8},{"p":"d","s":"m","x":2007.65,"y":1957.9},{"p":"d","s":"m","x":2007.75,"y":1895.4},{"p":"d","s":"m","x":2007.83,"y":1945.4},{"p":"d","s":"m","x":2007.92,"y":1891.4},{"p":"d","s":"m","x":2008.01,"y":1876.9},{"p":"d","s":"m","x":2008.11,"y":1945.8},{"p":"d","s":"m","x":2008.20,"y":1934.3},{"p":"d","s":"m","x":2008.26,"y":1909.9},{"p":"d","s":"m","x":2008.36,"y":1934.3},{"p":"d","s":"m","x":2008.44,"y":1906.9},{"p":"d","s":"m","x":2008.53,"y":1975.5},{"p":"d","s":"m","x":2008.62,"y":1911.1},{"p":"d","s":"m","x":2008.68,"y":1879.2},{"p":"d","s":"m","x":2008.74,"y":1878.7},{"p":"d","s":"m","x":2008.93,"y":1877.5},{"p":"d","s":"m","x":2009.05,"y":1936.6},{"p":"d","s":"m","x":2009.13,"y":1916.2},{"p":"d","s":"m","x":2009.23,"y":1919.2},{"p":"d","s":"m","x":2009.33,"y":1906.5},{"p":"d","s":"m","x":2009.41,"y":1928.5},{"p":"d","s":"m","x":2009.54,"y":1950},{"p":"d","s":"m","x":2009.62,"y":1925},{"p":"d","s":"m","x":2009.72,"y":1919.2},{"p":"d","s":"m","x":2009.82,"y":1929.6},{"p":"d","s":"m","x":2009.90,"y":1923.8},{"p":"d","s":"m","x":2009.99,"y":1918.1},{"p":"d","s":"m","x":2010.08,"y":1940},{"p":"d","s":"m","x":2010.18,"y":1918.5},{"p":"d","s":"m","x":2010.27,"y":1919.2},{"p":"d","s":"m","x":2010.35,"y":1883.3},{"p":"d","s":"m","x":2010.42,"y":1892.6},{"p":"d","s":"m","x":2010.51,"y":1912.3},{"p":"d","s":"m","x":2010.63,"y":1911.1},{"p":"d","s":"m","x":2010.72,"y":1915.7},{"p":"d","s":"m","x":2010.81,"y":1909.9},{"p":"d","s":"m","x":2010.87,"y":1901.9},{"p":"d","s":"m","x":2011.00,"y":1934.3},{"p":"d","s":"m","x":2011.08,"y":1912.3},{"p":"d","s":"m","x":2011.15,"y":1937},{"p":"d","s":"m","x":2011.24,"y":1923.8},{"p":"d","s":"m","x":2011.40,"y":1958.6},{"p":"d","s":"m","x":2011.52,"y":1930.1},{"p":"d","s":"m","x":2011.60,"y":1999.1},{"p":"d","s":"m","x":2011.66,"y":1985.2},{"p":"d","s":"m","x":2011.76,"y":1985.2},{"p":"d","s":"m","x":2011.85,"y":1904.2},{"p":"d","s":"m","x":2011.97,"y":1986.3},{"p":"d","s":"m","x":2012.09,"y":1918.5},{"p":"d","s":"m","x":2012.18,"y":1903.7},{"p":"d","s":"m","x":2012.27,"y":1911.6},{"p":"d","s":"m","x":2012.37,"y":1931.9},{"p":"d","s":"m","x":2012.46,"y":1925},{"p":"d","s":"m","x":2012.52,"y":1949.3},{"p":"d","s":"m","x":2012.58,"y":1923.8},{"p":"d","s":"m","x":2012.66,"y":1905.3},{"p":"d","s":"m","x":2012.76,"y":1906.9},{"p":"d","s":"m","x":2012.86,"y":1923.8},{"p":"d","s":"m","x":2012.94,"y":1934.7},{"p":"d","s":"m","x":2013.06,"y":1929.6},{"p":"d","s":"m","x":2013.19,"y":1951.6},{"p":"d","s":"m","x":2013.27,"y":1920.4},{"p":"d","s":"m","x":2013.37,"y":1916.9},{"p":"d","s":"m","x":2013.46,"y":1911.6},{"p":"d","s":"m","x":2013.51,"y":1974.8},{"p":"d","s":"m","x":2013.59,"y":1915.7},{"p":"d","s":"m","x":2013.67,"y":1903.7},{"p":"d","s":"m","x":2013.76,"y":1898.4},{"p":"d","s":"m","x":2013.83,"y":1958.6},{"p":"d","s":"m","x":2013.91,"y":2019.9},{"p":"d","s":"m","x":2013.99,"y":1966.7},

{"p":"d","s":"of","x":1993.64,"y":1918.1},{"p":"d","s":"of","x":1993.88,"y":1916.9},{"p":"d","s":"of","x":1994.12,"y":1908.8},{"p":"d","s":"of","x":1994.37,"y":1898.4},{"p":"d","s":"of","x":1994.61,"y":1889.1},{"p":"d","s":"of","x":1994.85,"y":1882.2},{"p":"d","s":"of","x":1995.10,"y":1879.9},{"p":"d","s":"of","x":1995.34,"y":1884.5},{"p":"d","s":"of","x":1995.58,"y":1897.2},{"p":"d","s":"of","x":1995.82,"y":1913.4},{"p":"d","s":"of","x":1996.07,"y":1923.8},{"p":"d","s":"of","x":1996.31,"y":1925},{"p":"d","s":"of","x":1996.55,"y":1916.9},{"p":"d","s":"of","x":1996.80,"y":1901.9},{"p":"d","s":"of","x":1997.04,"y":1884.5},{"p":"d","s":"of","x":1997.29,"y":1872.9},{"p":"d","s":"of","x":1997.47,"y":1870.6},{"p":"d","s":"of","x":1997.65,"y":1881},{"p":"d","s":"of","x":1997.89,"y":1906.5},{"p":"d","s":"of","x":1998.14,"y":1938.9},{"p":"d","s":"of","x":1998.38,"y":1962},{"p":"d","s":"of","x":1998.62,"y":1971.3},{"p":"d","s":"of","x":1998.87,"y":1967.8},{"p":"d","s":"of","x":1999.11,"y":1952.8},{"p":"d","s":"of","x":1999.35,"y":1936.6},{"p":"d","s":"of","x":1999.60,"y":1928.5},{"p":"d","s":"of","x":1999.84,"y":1927.3},{"p":"d","s":"of","x":2000.08,"y":1929.2},{"p":"d","s":"of","x":2000.33,"y":1926.2},{"p":"d","s":"of","x":2000.57,"y":1916.9},{"p":"d","s":"of","x":2000.81,"y":1906.5},{"p":"d","s":"of","x":2001.06,"y":1896.1},{"p":"d","s":"of","x":2001.30,"y":1891.4},{"p":"d","s":"of","x":2001.54,"y":1890.7},{"p":"d","s":"of","x":2001.79,"y":1893.7},{"p":"d","s":"of","x":2002.03,"y":1899.1},{"p":"d","s":"of","x":2002.27,"y":1904.6},{"p":"d","s":"of","x":2002.52,"y":1909.9},{"p":"d","s":"of","x":2002.76,"y":1914.6},{"p":"d","s":"of","x":2003.00,"y":1918.5},{"p":"d","s":"of","x":2003.25,"y":1921.5},{"p":"d","s":"of","x":2003.49,"y":1922.7},{"p":"d","s":"of","x":2003.73,"y":1921.5},{"p":"d","s":"of","x":2003.98,"y":1919.9},{"p":"d","s":"of","x":2004.22,"y":1918.1},{"p":"d","s":"of","x":2004.46,"y":1916.2},{"p":"d","s":"of","x":2004.77,"y":1916.2},{"p":"d","s":"of","x":2005.09,"y":1923.8},{"p":"d","s":"of","x":2005.46,"y":1931.9},{"p":"d","s":"of","x":2005.76,"y":1934.7},{"p":"d","s":"of","x":2006.07,"y":1929.6},{"p":"d","s":"of","x":2006.31,"y":1921.5},{"p":"d","s":"of","x":2006.62,"y":1913.4},{"p":"d","s":"of","x":2006.86,"y":1911.1},{"p":"d","s":"of","x":2007.16,"y":1914.6},{"p":"d","s":"of","x":2007.47,"y":1921.5},{"p":"d","s":"of","x":2007.77,"y":1928.5},{"p":"d","s":"of","x":2008.01,"y":1931.9},{"p":"d","s":"of","x":2008.26,"y":1930.1},{"p":"d","s":"of","x":2008.50,"y":1925},{"p":"d","s":"of","x":2008.74,"y":1923.1},{"p":"d","s":"of","x":2008.99,"y":1925},{"p":"d","s":"of","x":2009.23,"y":1929.6},{"p":"d","s":"of","x":2009.54,"y":1931.9},{"p":"d","s":"of","x":2009.84,"y":1929.6},{"p":"d","s":"of","x":2010.14,"y":1923.1},{"p":"d","s":"of","x":2010.45,"y":1916.9},{"p":"d","s":"of","x":2010.75,"y":1914.6},{"p":"d","s":"of","x":2011.06,"y":1918.1},{"p":"d","s":"of","x":2011.36,"y":1923.8},{"p":"d","s":"of","x":2011.66,"y":1928.5},{"p":"d","s":"of","x":2012.03,"y":1933.1},{"p":"d","s":"of","x":2012.39,"y":1937.7},{"p":"d","s":"of","x":2012.76,"y":1944.7},{"p":"d","s":"of","x":2013.12,"y":1949.3},{"p":"d","s":"of","x":2013.49,"y":1950.9},{"p":"d","s":"of","x":2013.79,"y":1949.3},{"p":"d","s":"of","x":2014.10,"y":1945.8},{"p":"d","s":"of","x":2014.34,"y":1945.8},{"p":"d","s":"of","x":2014.52,"y":1948.1},{"p":"d","s":"of","x":2014.71,"y":1955.1},{"p":"d","s":"of","x":2014.95,"y":1969},{"p":"d","s":"of","x":2015.19,"y":1985.2},{"p":"d","s":"of","x":2015.44,"y":1999.1},{"p":"d","s":"of","x":2015.68,"y":2008.3},{"p":"d","s":"of","x":2015.86,"y":2013},

{"p":"d","s":"oh","x":1993.64,"y":1967.8},{"p":"d","s":"oh","x":1993.82,"y":1970.1},{"p":"d","s":"oh","x":1994.00,"y":1952.8},{"p":"d","s":"oh","x":1994.24,"y":1929.6},{"p":"d","s":"oh","x":1994.49,"y":1911.1},{"p":"d","s":"oh","x":1994.73,"y":1899.5},{"p":"d","s":"oh","x":1994.97,"y":1894.4},{"p":"d","s":"oh","x":1995.22,"y":1895.4},{"p":"d","s":"oh","x":1995.46,"y":1906.5},{"p":"d","s":"oh","x":1995.70,"y":1929.6},{"p":"d","s":"oh","x":1995.95,"y":1952.8},{"p":"d","s":"oh","x":1996.19,"y":1971.3},{"p":"d","s":"oh","x":1996.43,"y":1981},{"p":"d","s":"oh","x":1996.68,"y":1973.6},{"p":"d","s":"oh","x":1996.92,"y":1950.5},{"p":"d","s":"oh","x":1997.16,"y":1920.4},{"p":"d","s":"oh","x":1997.35,"y":1899.5},{"p":"d","s":"oh","x":1997.53,"y":1895.4},{"p":"d","s":"oh","x":1997.77,"y":1915.7},{"p":"d","s":"oh","x":1998.01,"y":1952.8},{"p":"d","s":"oh","x":1998.26,"y":1999.1},{"p":"d","s":"oh","x":1998.50,"y":2026.9},{"p":"d","s":"oh","x":1998.68,"y":2038.4},{"p":"d","s":"oh","x":1998.87,"y":2029.2},{"p":"d","s":"oh","x":1999.11,"y":1999.1},{"p":"d","s":"oh","x":1999.35,"y":1971.3},{"p":"d","s":"oh","x":1999.54,"y":1960.9},{"p":"d","s":"oh","x":1999.72,"y":1966.7},{"p":"d","s":"oh","x":1999.96,"y":1979.4},{"p":"d","s":"oh","x":2000.20,"y":1981.7},{"p":"d","s":"oh","x":2000.45,"y":1966.7},{"p":"d","s":"oh","x":2000.69,"y":1941.2},{"p":"d","s":"oh","x":2000.93,"y":1922.7},{"p":"d","s":"oh","x":2001.18,"y":1918.1},{"p":"d","s":"oh","x":2001.42,"y":1913.4},{"p":"d","s":"oh","x":2001.66,"y":1919.2},{"p":"d","s":"oh","x":2001.91,"y":1927.3},{"p":"d","s":"oh","x":2002.15,"y":1933.1},{"p":"d","s":"oh","x":2002.39,"y":1938.9},{"p":"d","s":"oh","x":2002.64,"y":1943},{"p":"d","s":"oh","x":2002.88,"y":1944.7},{"p":"d","s":"oh","x":2003.12,"y":1948.1},{"p":"d","s":"oh","x":2003.37,"y":1950.5},{"p":"d","s":"oh","x":2003.61,"y":1948.6},{"p":"d","s":"oh","x":2003.85,"y":1944.7},{"p":"d","s":"oh","x":2004.10,"y":1948.6},{"p":"d","s":"oh","x":2004.34,"y":1955.1},{"p":"d","s":"oh","x":2004.58,"y":1958.6},{"p":"d","s":"oh","x":2004.77,"y":1960.2},{"p":"d","s":"oh","x":2005.09,"y":1958.6},{"p":"d","s":"oh","x":2005.46,"y":1956.3},{"p":"d","s":"oh","x":2005.82,"y":1949.3},{"p":"d","s":"oh","x":2006.19,"y":1938.9},{"p":"d","s":"oh","x":2006.55,"y":1929.6},{"p":"d","s":"oh","x":2006.92,"y":1929.6},{"p":"d","s":"oh","x":2007.28,"y":1934.3},{"p":"d","s":"oh","x":2007.65,"y":1938.9},{"p":"d","s":"oh","x":2008.01,"y":1943.5},{"p":"d","s":"oh","x":2008.38,"y":1948.1},{"p":"d","s":"oh","x":2008.74,"y":1951.6},{"p":"d","s":"oh","x":2009.05,"y":1952.8},{"p":"d","s":"oh","x":2009.35,"y":1950.5},{"p":"d","s":"oh","x":2009.72,"y":1944.7},{"p":"d","s":"oh","x":2010.08,"y":1937.7},{"p":"d","s":"oh","x":2010.45,"y":1929.6},{"p":"d","s":"oh","x":2010.81,"y":1928.5},{"p":"d","s":"oh","x":2011.12,"y":1933.1},{"p":"d","s":"oh","x":2011.42,"y":1941.2},{"p":"d","s":"oh","x":2011.73,"y":1950.5},{"p":"d","s":"oh","x":2012.03,"y":1957.4},{"p":"d","s":"oh","x":2012.39,"y":1969},{"p":"d","s":"oh","x":2012.76,"y":1978.2},{"p":"d","s":"oh","x":2013.12,"y":1982.9},{"p":"d","s":"oh","x":2013.49,"y":1981.7},{"p":"d","s":"oh","x":2013.73,"y":1974.8},{"p":"d","s":"oh","x":2013.98,"y":1967.8},{"p":"d","s":"oh","x":2014.22,"y":1963.2},{"p":"d","s":"oh","x":2014.46,"y":1970.1},{"p":"d","s":"oh","x":2014.71,"y":1984},{"p":"d","s":"oh","x":2014.95,"y":2003.7},{"p":"d","s":"oh","x":2015.19,"y":2022.2},{"p":"d","s":"oh","x":2015.44,"y":2040.7},{"p":"d","s":"oh","x":2015.70,"y":2062},

{"p":"d","s":"ol","x":1993.64,"y":1867.1},{"p":"d","s":"ol","x":1993.88,"y":1871.8},{"p":"d","s":"ol","x":1994.12,"y":1878.7},{"p":"d","s":"ol","x":1994.37,"y":1881},{"p":"d","s":"ol","x":1994.61,"y":1877.5},{"p":"d","s":"ol","x":1994.85,"y":1869.4},{"p":"d","s":"ol","x":1995.10,"y":1864.8},{"p":"d","s":"ol","x":1995.34,"y":1868.3},{"p":"d","s":"ol","x":1995.58,"y":1875.2},{"p":"d","s":"ol","x":1995.82,"y":1878.7},{"p":"d","s":"ol","x":1996.07,"y":1876.4},{"p":"d","s":"ol","x":1996.31,"y":1871.8},{"p":"d","s":"ol","x":1996.55,"y":1867.1},{"p":"d","s":"ol","x":1996.80,"y":1862.5},{"p":"d","s":"ol","x":1997.04,"y":1855.6},{"p":"d","s":"ol","x":1997.29,"y":1848.6},{"p":"d","s":"ol","x":1997.43,"y":1845.1},{"p":"d","s":"ol","x":1997.59,"y":1848.6},{"p":"d","s":"ol","x":1997.77,"y":1860.2},{"p":"d","s":"ol","x":1998.01,"y":1878.7},{"p":"d","s":"ol","x":1998.26,"y":1892.6},{"p":"d","s":"ol","x":1998.50,"y":1901.9},{"p":"d","s":"ol","x":1998.74,"y":1906.5},{"p":"d","s":"ol","x":1998.99,"y":1908.3},{"p":"d","s":"ol","x":1999.23,"y":1905.3},{"p":"d","s":"ol","x":1999.47,"y":1897.2},{"p":"d","s":"ol","x":1999.72,"y":1888},{"p":"d","s":"ol","x":1999.96,"y":1881},{"p":"d","s":"ol","x":2000.20,"y":1876.9},{"p":"d","s":"ol","x":2000.45,"y":1875.9},{"p":"d","s":"ol","x":2000.69,"y":1876.4},{"p":"d","s":"ol","x":2000.93,"y":1875.2},{"p":"d","s":"ol","x":2001.06,"y":1870.6},{"p":"d","s":"ol","x":2001.30,"y":1868.3},{"p":"d","s":"ol","x":2001.54,"y":1871.8},{"p":"d","s":"ol","x":2001.79,"y":1876.4},{"p":"d","s":"ol","x":2002.03,"y":1879.9},{"p":"d","s":"ol","x":2002.27,"y":1882.2},{"p":"d","s":"ol","x":2002.52,"y":1883.3},{"p":"d","s":"ol","x":2002.76,"y":1885.2},{"p":"d","s":"ol","x":2003.00,"y":1888},{"p":"d","s":"ol","x":2003.25,"y":1892.1},{"p":"d","s":"ol","x":2003.49,"y":1895.4},{"p":"d","s":"ol","x":2003.73,"y":1897.2},{"p":"d","s":"ol","x":2003.98,"y":1896.1},{"p":"d","s":"ol","x":2004.22,"y":1890.3},{"p":"d","s":"ol","x":2004.46,"y":1878.7},{"p":"d","s":"ol","x":2004.77,"y":1871.8},{"p":"d","s":"ol","x":2004.97,"y":1876.4},{"p":"d","s":"ol","x":2005.22,"y":1892.6},{"p":"d","s":"ol","x":2005.46,"y":1906.5},{"p":"d","s":"ol","x":2005.70,"y":1914.6},{"p":"d","s":"ol","x":2005.95,"y":1916.9},{"p":"d","s":"ol","x":2006.31,"y":1912.3},{"p":"d","s":"ol","x":2006.68,"y":1904.2},{"p":"d","s":"ol","x":2007.04,"y":1899.5},{"p":"d","s":"ol","x":2007.41,"y":1904.2},{"p":"d","s":"ol","x":2007.77,"y":1913.4},{"p":"d","s":"ol","x":2008.14,"y":1918.1},{"p":"d","s":"ol","x":2008.50,"y":1913.4},{"p":"d","s":"ol","x":2008.87,"y":1901.9},{"p":"d","s":"ol","x":2009.11,"y":1896.1},{"p":"d","s":"ol","x":2009.35,"y":1899.5},{"p":"d","s":"ol","x":2009.72,"y":1906.5},{"p":"d","s":"ol","x":2010.08,"y":1906.5},{"p":"d","s":"ol","x":2010.45,"y":1901.9},{"p":"d","s":"ol","x":2010.81,"y":1898.4},{"p":"d","s":"ol","x":2011.06,"y":1901.9},{"p":"d","s":"ol","x":2011.42,"y":1908.8},{"p":"d","s":"ol","x":2011.79,"y":1915.7},{"p":"d","s":"ol","x":2012.15,"y":1921.5},{"p":"d","s":"ol","x":2012.52,"y":1922.7},{"p":"d","s":"ol","x":2012.88,"y":1920.4},{"p":"d","s":"ol","x":2013.25,"y":1918.1},{"p":"d","s":"ol","x":2013.61,"y":1920.4},{"p":"d","s":"ol","x":2013.98,"y":1925},{"p":"d","s":"ol","x":2014.34,"y":1927.3},{"p":"d","s":"ol","x":2014.71,"y":1925},{"p":"d","s":"ol","x":2014.95,"y":1927.3},{"p":"d","s":"ol","x":2015.19,"y":1936.6},{"p":"d","s":"ol","x":2015.44,"y":1947},{"p":"d","s":"ol","x":2015.68,"y":1952.8},{"p":"d","s":"ol","x":2015.86,"y":1957.4},

{"p":"d","s":"mf","x":2001.08,"y":1897.7},{"p":"d","s":"mf","x":2001.42,"y":1897.7},{"p":"d","s":"mf","x":2001.79,"y":1900.7},{"p":"d","s":"mf","x":2002.15,"y":1905.3},{"p":"d","s":"mf","x":2002.46,"y":1907.6},{"p":"d","s":"mf","x":2002.76,"y":1905.3},{"p":"d","s":"mf","x":2003.06,"y":1901.9},{"p":"d","s":"mf","x":2003.37,"y":1900},{"p":"d","s":"mf","x":2003.61,"y":1903},{"p":"d","s":"mf","x":2003.85,"y":1907.6},{"p":"d","s":"mf","x":2004.22,"y":1910.6},{"p":"d","s":"mf","x":2004.58,"y":1909.9},{"p":"d","s":"mf","x":2004.77,"y":1908.3},{"p":"d","s":"mf","x":2005.09,"y":1906.5},{"p":"d","s":"mf","x":2005.46,"y":1909.9},{"p":"d","s":"mf","x":2005.82,"y":1913.4},{"p":"d","s":"mf","x":2006.19,"y":1913},{"p":"d","s":"mf","x":2006.55,"y":1911.6},{"p":"d","s":"mf","x":2006.92,"y":1913.4},{"p":"d","s":"mf","x":2007.28,"y":1918.1},{"p":"d","s":"mf","x":2007.65,"y":1922.2},{"p":"d","s":"mf","x":2008.01,"y":1920.4},{"p":"d","s":"mf","x":2008.38,"y":1914.6},{"p":"d","s":"mf","x":2008.74,"y":1912.3},{"p":"d","s":"mf","x":2009.11,"y":1914.6},{"p":"d","s":"mf","x":2009.47,"y":1919.2},{"p":"d","s":"mf","x":2009.72,"y":1923.1},{"p":"d","s":"mf","x":2009.96,"y":1922.7},{"p":"d","s":"mf","x":2010.20,"y":1918.1},{"p":"d","s":"mf","x":2010.45,"y":1913.4},{"p":"d","s":"mf","x":2010.69,"y":1912.3},{"p":"d","s":"mf","x":2010.93,"y":1921.5},{"p":"d","s":"mf","x":2011.18,"y":1933.1},{"p":"d","s":"mf","x":2011.42,"y":1939.4},{"p":"d","s":"mf","x":2011.66,"y":1941.2},{"p":"d","s":"mf","x":2012.03,"y":1937.7},{"p":"d","s":"mf","x":2012.33,"y":1931.9},{"p":"d","s":"mf","x":2012.64,"y":1929.6},{"p":"d","s":"mf","x":2013.00,"y":1933.1},{"p":"d","s":"mf","x":2013.37,"y":1940},{"p":"d","s":"mf","x":2013.67,"y":1944.7},{"p":"d","s":"mf","x":2013.88,"y":1947},

{"p":"d","s":"mh","x":2001.08,"y":1922.7},{"p":"d","s":"mh","x":2001.42,"y":1920.4},{"p":"d","s":"mh","x":2001.79,"y":1925},{"p":"d","s":"mh","x":2002.15,"y":1934.3},{"p":"d","s":"mh","x":2002.46,"y":1939.4},{"p":"d","s":"mh","x":2002.76,"y":1941.2},{"p":"d","s":"mh","x":2003.06,"y":1936.6},{"p":"d","s":"mh","x":2003.37,"y":1929.6},{"p":"d","s":"mh","x":2003.73,"y":1929.6},{"p":"d","s":"mh","x":2004.10,"y":1941.2},{"p":"d","s":"mh","x":2004.46,"y":1950.5},{"p":"d","s":"mh","x":2004.77,"y":1952.8},{"p":"d","s":"mh","x":2005.09,"y":1943.5},{"p":"d","s":"mh","x":2005.46,"y":1934.3},{"p":"d","s":"mh","x":2005.82,"y":1929.6},{"p":"d","s":"mh","x":2006.19,"y":1928.5},{"p":"d","s":"mh","x":2006.55,"y":1929.6},{"p":"d","s":"mh","x":2006.92,"y":1931.9},{"p":"d","s":"mh","x":2007.28,"y":1935.4},{"p":"d","s":"mh","x":2007.65,"y":1938.9},{"p":"d","s":"mh","x":2008.01,"y":1938.9},{"p":"d","s":"mh","x":2008.38,"y":1935.4},{"p":"d","s":"mh","x":2008.74,"y":1936.6},{"p":"d","s":"mh","x":2009.11,"y":1940},{"p":"d","s":"mh","x":2009.35,"y":1942.4},{"p":"d","s":"mh","x":2009.72,"y":1938.9},{"p":"d","s":"mh","x":2010.08,"y":1929.6},{"p":"d","s":"mh","x":2010.45,"y":1923.8},{"p":"d","s":"mh","x":2010.81,"y":1927.3},{"p":"d","s":"mh","x":2011.06,"y":1941.2},{"p":"d","s":"mh","x":2011.30,"y":1952.8},{"p":"d","s":"mh","x":2011.54,"y":1958.6},{"p":"d","s":"mh","x":2011.79,"y":1959.7},{"p":"d","s":"mh","x":2012.03,"y":1958.6},{"p":"d","s":"mh","x":2012.27,"y":1952.8},{"p":"d","s":"mh","x":2012.52,"y":1952.8},{"p":"d","s":"mh","x":2012.88,"y":1960.9},{"p":"d","s":"mh","x":2013.25,"y":1969},{"p":"d","s":"mh","x":2013.55,"y":1974.8},{"p":"d","s":"mh","x":2013.73,"y":1972.5},{"p":"d","s":"mh","x":2013.88,"y":1967.8},

{"p":"d","s":"ml","x":2001.08,"y":1872.9},{"p":"d","s":"ml","x":2001.42,"y":1875.2},{"p":"d","s":"ml","x":2001.79,"y":1878.7},{"p":"d","s":"ml","x":2002.15,"y":1878.7},{"p":"d","s":"ml","x":2002.46,"y":1876.9},{"p":"d","s":"ml","x":2002.76,"y":1875.9},{"p":"d","s":"ml","x":2003.12,"y":1876.4},{"p":"d","s":"ml","x":2003.49,"y":1878.7},{"p":"d","s":"ml","x":2003.85,"y":1883.3},{"p":"d","s":"ml","x":2004.22,"y":1878.7},{"p":"d","s":"ml","x":2004.58,"y":1867.1},{"p":"d","s":"ml","x":2004.77,"y":1864.8},{"p":"d","s":"ml","x":2004.97,"y":1871.8},{"p":"d","s":"ml","x":2005.22,"y":1878.7},{"p":"d","s":"ml","x":2005.46,"y":1886.8},{"p":"d","s":"ml","x":2005.82,"y":1892.6},{"p":"d","s":"ml","x":2006.19,"y":1893.7},{"p":"d","s":"ml","x":2006.55,"y":1890.3},{"p":"d","s":"ml","x":2006.92,"y":1890.3},{"p":"d","s":"ml","x":2007.28,"y":1894.9},{"p":"d","s":"ml","x":2007.65,"y":1899.5},{"p":"d","s":"ml","x":2008.01,"y":1900.7},{"p":"d","s":"ml","x":2008.38,"y":1896.1},{"p":"d","s":"ml","x":2008.74,"y":1890.3},{"p":"d","s":"ml","x":2008.99,"y":1888},{"p":"d","s":"ml","x":2009.35,"y":1894.9},{"p":"d","s":"ml","x":2009.72,"y":1904.2},{"p":"d","s":"ml","x":2010.08,"y":1909.9},{"p":"d","s":"ml","x":2010.45,"y":1911.1},{"p":"d","s":"ml","x":2010.81,"y":1906.5},{"p":"d","s":"ml","x":2011.06,"y":1908.8},{"p":"d","s":"ml","x":2011.30,"y":1915.7},{"p":"d","s":"ml","x":2011.54,"y":1919.2},{"p":"d","s":"ml","x":2011.79,"y":1920.4},{"p":"d","s":"ml","x":2012.03,"y":1916.9},{"p":"d","s":"ml","x":2012.39,"y":1908.8},{"p":"d","s":"ml","x":2012.76,"y":1904.2},{"p":"d","s":"ml","x":2013.12,"y":1906.5},{"p":"d","s":"ml","x":2013.49,"y":1915.7},{"p":"d","s":"ml","x":2013.73,"y":1925},{"p":"d","s":"ml","x":2013.88,"y":1929.6}
]},
"columns":2,
"spacing":0,
"bounds":"flush",
"resolve":{"scale":{"color":"independent","shape":"independent"},"legend":{"color":"independent","shape":"independent"}},
"concat":[
 {"width":609,"height":418,
  "layer":[
   {"encoding":{
     "x":{"field":"x","type":"quantitative","scale":{"domain":[1993.64,2015.86],"nice":false,"zero":false},"axis":{"orient":"bottom","values":[1994,1995,1996,1997,1998,1999,2000,2001,2002,2003,2004,2005,2006,2007,2008,2009,2010,2011,2012,2013,2014,2015],"labels":false,"title":null}},
     "y":{"field":"y","type":"quantitative","scale":{"domain":[1760,2050],"nice":false,"zero":false},"axis":{"orient":"left","values":[1800,1850,1900,1950,2000,2050],"format":"d","title":"CH₄ (ppb)","labelPadding":10,"titlePadding":12}}},
    "layer":[
     {"transform":[{"filter":"datum.p=='a'&&datum.s=='o'"}],"mark":{"type":"circle","size":20,"color":"black","opacity":1}},
     {"transform":[{"filter":"datum.p=='a'&&datum.s=='n'"}],"mark":{"type":"point","shape":"M-1,-1L1,1M-1,1L1,-1","size":36,"color":"#0000ff","filled":false,"strokeWidth":1.3,"opacity":1}},
     {"transform":[{"filter":"datum.p=='a'&&datum.s=='m'"}],"mark":{"type":"circle","size":20,"color":"#ff0000","opacity":1}},
     {"transform":[{"filter":"datum.p=='a'&&datum.s=='oh'"}],"mark":{"type":"line","color":"black","strokeWidth":2,"strokeDash":[2,2.2],"interpolate":"monotone","clip":true}},
     {"transform":[{"filter":"datum.p=='a'&&datum.s=='ol'"}],"mark":{"type":"line","color":"black","strokeWidth":2,"strokeDash":[2,2.2],"interpolate":"monotone","clip":true}},
     {"transform":[{"filter":"datum.p=='a'&&datum.s=='of'"}],"mark":{"type":"line","color":"black","strokeWidth":2.4,"interpolate":"monotone","clip":true}},
     {"transform":[{"filter":"datum.p=='a'&&datum.s=='mh'"}],"mark":{"type":"line","color":"#ff0000","strokeWidth":2,"strokeDash":[2,2.2],"interpolate":"monotone","clip":true}},
     {"transform":[{"filter":"datum.p=='a'&&datum.s=='ml'"}],"mark":{"type":"line","color":"#ff0000","strokeWidth":2,"strokeDash":[2,2.2],"interpolate":"monotone","clip":true}},
     {"transform":[{"filter":"datum.p=='a'&&datum.s=='mf'"}],"mark":{"type":"line","color":"#ff0000","strokeWidth":2.4,"interpolate":"monotone","clip":true}},
     {"transform":[{"filter":"datum.p=='a'&&datum.s=='t'"}],"mark":{"type":"text","fontSize":20,"font":"DejaVu Sans","color":"black","align":"center","baseline":"middle"},"encoding":{"text":{"field":"t"}}},
     {"transform":[{"filter":"datum.s=='zz'"}],"mark":{"type":"point","filled":true,"opacity":1,"size":420},
      "encoding":{
       "color":{"field":"s","type":"nominal","scale":{"domain":["Obs.","Obs. (low N₂O)","ACTM"],"range":["#000000","#0000ff","#ff0000"]},"legend":{"orient":"top-right","title":null}},
       "shape":{"field":"s","type":"nominal","scale":{"domain":["Obs.","Obs. (low N₂O)","ACTM"],"range":["M-1.18,0.05a0.18,0.18 0 1,0 0.36,0a0.18,0.18 0 1,0 -0.36,0ZM-0.18,-0.15a0.18,0.18 0 1,0 0.36,0a0.18,0.18 0 1,0 -0.36,0ZM0.82,0.05a0.18,0.18 0 1,0 0.36,0a0.18,0.18 0 1,0 -0.36,0Z","M-1.25,-0.11L-1.16,-0.2L-0.75,0.21L-0.84,0.3ZM-1.25,0.21L-0.84,-0.2L-0.75,-0.11L-1.16,0.3ZM-0.25,-0.31L-0.16,-0.4L0.25,0.01L0.16,0.1ZM-0.25,0.01L0.16,-0.4L0.25,-0.31L-0.16,0.1ZM0.75,-0.11L0.84,-0.2L1.25,0.21L1.16,0.3ZM0.75,0.21L1.16,-0.2L1.25,-0.11L0.84,0.3Z","M-1.18,0.05a0.18,0.18 0 1,0 0.36,0a0.18,0.18 0 1,0 -0.36,0ZM-0.18,-0.15a0.18,0.18 0 1,0 0.36,0a0.18,0.18 0 1,0 -0.36,0ZM0.82,0.05a0.18,0.18 0 1,0 0.36,0a0.18,0.18 0 1,0 -0.36,0Z"]},"legend":{"orient":"top-right","title":null}}}}
    ]},
   {"transform":[{"filter":"datum.p=='a'&&datum.s=='of'"}],"mark":{"type":"point","opacity":0},
    "encoding":{"x":{"field":"x","type":"quantitative","axis":{"orient":"top","values":[1994,1995,1996,1997,1998,1999,2000,2001,2002,2003,2004,2005,2006,2007,2008,2009,2010,2011,2012,2013,2014,2015],"labels":false,"title":null}},
     "y":{"field":"y","type":"quantitative","axis":{"orient":"right","values":[1800,1850,1900,1950,2000,2050],"labels":false,"title":null}}}}
  ],
  "resolve":{"axis":{"x":"independent","y":"independent"}}},
 {"width":609,"height":418,
  "layer":[
   {"encoding":{
     "x":{"field":"x","type":"quantitative","scale":{"domain":[1993.64,2015.86],"nice":false,"zero":false},"axis":{"orient":"bottom","values":[1994,1995,1996,1997,1998,1999,2000,2001,2002,2003,2004,2005,2006,2007,2008,2009,2010,2011,2012,2013,2014,2015],"labels":false,"title":null}},
     "y":{"field":"y","type":"quantitative","scale":{"domain":[1760,2050],"nice":false,"zero":false},"axis":{"orient":"left","values":[1800,1850,1900,1950,2000,2050],"labels":false,"title":null}}},
    "layer":[
     {"transform":[{"filter":"datum.p=='b'&&datum.s=='o'"}],"mark":{"type":"circle","size":20,"color":"black","opacity":1}},
     {"transform":[{"filter":"datum.p=='b'&&datum.s=='n'"}],"mark":{"type":"point","shape":"M-1,-1L1,1M-1,1L1,-1","size":36,"color":"#0000ff","filled":false,"strokeWidth":1.3,"opacity":1}},
     {"transform":[{"filter":"datum.p=='b'&&datum.s=='m'"}],"mark":{"type":"circle","size":20,"color":"#ff0000","opacity":1}},
     {"transform":[{"filter":"datum.p=='b'&&datum.s=='oh'"}],"mark":{"type":"line","color":"black","strokeWidth":2,"strokeDash":[2,2.2],"interpolate":"monotone","clip":true}},
     {"transform":[{"filter":"datum.p=='b'&&datum.s=='ol'"}],"mark":{"type":"line","color":"black","strokeWidth":2,"strokeDash":[2,2.2],"interpolate":"monotone","clip":true}},
     {"transform":[{"filter":"datum.p=='b'&&datum.s=='of'"}],"mark":{"type":"line","color":"black","strokeWidth":2.4,"interpolate":"monotone","clip":true}},
     {"transform":[{"filter":"datum.p=='b'&&datum.s=='mh'"}],"mark":{"type":"line","color":"#ff0000","strokeWidth":2,"strokeDash":[2,2.2],"interpolate":"monotone","clip":true}},
     {"transform":[{"filter":"datum.p=='b'&&datum.s=='ml'"}],"mark":{"type":"line","color":"#ff0000","strokeWidth":2,"strokeDash":[2,2.2],"interpolate":"monotone","clip":true}},
     {"transform":[{"filter":"datum.p=='b'&&datum.s=='mf'"}],"mark":{"type":"line","color":"#ff0000","strokeWidth":2.4,"interpolate":"monotone","clip":true}},
     {"transform":[{"filter":"datum.p=='b'&&datum.s=='t'"}],"mark":{"type":"text","fontSize":20,"font":"DejaVu Sans","color":"black","align":"center","baseline":"middle"},"encoding":{"text":{"field":"t"}}},
     {"transform":[{"filter":"datum.s=='zz'"}],"mark":{"type":"point","filled":true,"opacity":1,"size":420},
      "encoding":{
       "color":{"field":"s","type":"nominal","scale":{"domain":["Obs.","Obs. (low N₂O)","ACTM"],"range":["#000000","#0000ff","#ff0000"]},"legend":{"orient":"top-right","title":null}},
       "shape":{"field":"s","type":"nominal","scale":{"domain":["Obs.","Obs. (low N₂O)","ACTM"],"range":["M-1.18,0.05a0.18,0.18 0 1,0 0.36,0a0.18,0.18 0 1,0 -0.36,0ZM-0.18,-0.15a0.18,0.18 0 1,0 0.36,0a0.18,0.18 0 1,0 -0.36,0ZM0.82,0.05a0.18,0.18 0 1,0 0.36,0a0.18,0.18 0 1,0 -0.36,0Z","M-1.25,-0.11L-1.16,-0.2L-0.75,0.21L-0.84,0.3ZM-1.25,0.21L-0.84,-0.2L-0.75,-0.11L-1.16,0.3ZM-0.25,-0.31L-0.16,-0.4L0.25,0.01L0.16,0.1ZM-0.25,0.01L0.16,-0.4L0.25,-0.31L-0.16,0.1ZM0.75,-0.11L0.84,-0.2L1.25,0.21L1.16,0.3ZM0.75,0.21L1.16,-0.2L1.25,-0.11L0.84,0.3Z","M-1.18,0.05a0.18,0.18 0 1,0 0.36,0a0.18,0.18 0 1,0 -0.36,0ZM-0.18,-0.15a0.18,0.18 0 1,0 0.36,0a0.18,0.18 0 1,0 -0.36,0ZM0.82,0.05a0.18,0.18 0 1,0 0.36,0a0.18,0.18 0 1,0 -0.36,0Z"]},"legend":{"orient":"top-right","title":null}}}}
    ]},
   {"transform":[{"filter":"datum.p=='b'&&datum.s=='of'"}],"mark":{"type":"point","opacity":0},
    "encoding":{"x":{"field":"x","type":"quantitative","axis":{"orient":"top","values":[1994,1995,1996,1997,1998,1999,2000,2001,2002,2003,2004,2005,2006,2007,2008,2009,2010,2011,2012,2013,2014,2015],"labels":false,"title":null}},
     "y":{"field":"y","type":"quantitative","axis":{"orient":"right","values":[1800,1850,1900,1950,2000,2050],"labels":false,"title":null}}}}
  ],
  "resolve":{"axis":{"x":"independent","y":"independent"}}},
 {"width":609,"height":418,
  "layer":[
   {"encoding":{
     "x":{"field":"x","type":"quantitative","scale":{"domain":[1993.64,2015.86],"nice":false,"zero":false},"axis":{"orient":"bottom","values":[1994,1995,1996,1997,1998,1999,2000,2001,2002,2003,2004,2005,2006,2007,2008,2009,2010,2011,2012,2013,2014,2015],"format":"d","labelExpr":"datum.value % 2 == 0 ? datum.label : ''","title":"Date (year)","labelPadding":6,"titlePadding":8}},
     "y":{"field":"y","type":"quantitative","scale":{"domain":[1760,2050],"nice":false,"zero":false},"axis":{"orient":"left","values":[1800,1850,1900,1950,2000,2050],"format":"d","title":"CH₄ (ppb)","labelPadding":10,"titlePadding":12}}},
    "layer":[
     {"transform":[{"filter":"datum.p=='c'&&datum.s=='o'"}],"mark":{"type":"circle","size":20,"color":"black","opacity":1}},
     {"transform":[{"filter":"datum.p=='c'&&datum.s=='n'"}],"mark":{"type":"point","shape":"M-1,-1L1,1M-1,1L1,-1","size":36,"color":"#0000ff","filled":false,"strokeWidth":1.3,"opacity":1}},
     {"transform":[{"filter":"datum.p=='c'&&datum.s=='m'"}],"mark":{"type":"circle","size":20,"color":"#ff0000","opacity":1}},
     {"transform":[{"filter":"datum.p=='c'&&datum.s=='oh'"}],"mark":{"type":"line","color":"black","strokeWidth":2,"strokeDash":[2,2.2],"interpolate":"monotone","clip":true}},
     {"transform":[{"filter":"datum.p=='c'&&datum.s=='ol'"}],"mark":{"type":"line","color":"black","strokeWidth":2,"strokeDash":[2,2.2],"interpolate":"monotone","clip":true}},
     {"transform":[{"filter":"datum.p=='c'&&datum.s=='of'"}],"mark":{"type":"line","color":"black","strokeWidth":2.4,"interpolate":"monotone","clip":true}},
     {"transform":[{"filter":"datum.p=='c'&&datum.s=='mh'"}],"mark":{"type":"line","color":"#ff0000","strokeWidth":2,"strokeDash":[2,2.2],"interpolate":"monotone","clip":true}},
     {"transform":[{"filter":"datum.p=='c'&&datum.s=='ml'"}],"mark":{"type":"line","color":"#ff0000","strokeWidth":2,"strokeDash":[2,2.2],"interpolate":"monotone","clip":true}},
     {"transform":[{"filter":"datum.p=='c'&&datum.s=='mf'"}],"mark":{"type":"line","color":"#ff0000","strokeWidth":2.4,"interpolate":"monotone","clip":true}},
     {"transform":[{"filter":"datum.p=='c'&&datum.s=='t'"}],"mark":{"type":"text","fontSize":20,"font":"DejaVu Sans","color":"black","align":"center","baseline":"middle"},"encoding":{"text":{"field":"t"}}},
     {"transform":[{"filter":"datum.s=='zz'"}],"mark":{"type":"point","filled":true,"opacity":1,"size":420},
      "encoding":{
       "color":{"field":"s","type":"nominal","scale":{"domain":["Obs.","Obs. (low N₂O)","ACTM"],"range":["#000000","#0000ff","#ff0000"]},"legend":{"orient":"top-right","title":null}},
       "shape":{"field":"s","type":"nominal","scale":{"domain":["Obs.","Obs. (low N₂O)","ACTM"],"range":["M-1.18,0.05a0.18,0.18 0 1,0 0.36,0a0.18,0.18 0 1,0 -0.36,0ZM-0.18,-0.15a0.18,0.18 0 1,0 0.36,0a0.18,0.18 0 1,0 -0.36,0ZM0.82,0.05a0.18,0.18 0 1,0 0.36,0a0.18,0.18 0 1,0 -0.36,0Z","M-1.25,-0.11L-1.16,-0.2L-0.75,0.21L-0.84,0.3ZM-1.25,0.21L-0.84,-0.2L-0.75,-0.11L-1.16,0.3ZM-0.25,-0.31L-0.16,-0.4L0.25,0.01L0.16,0.1ZM-0.25,0.01L0.16,-0.4L0.25,-0.31L-0.16,0.1ZM0.75,-0.11L0.84,-0.2L1.25,0.21L1.16,0.3ZM0.75,0.21L1.16,-0.2L1.25,-0.11L0.84,0.3Z","M-1.18,0.05a0.18,0.18 0 1,0 0.36,0a0.18,0.18 0 1,0 -0.36,0ZM-0.18,-0.15a0.18,0.18 0 1,0 0.36,0a0.18,0.18 0 1,0 -0.36,0ZM0.82,0.05a0.18,0.18 0 1,0 0.36,0a0.18,0.18 0 1,0 -0.36,0Z"]},"legend":{"orient":"top-right","title":null}}}}
    ]},
   {"transform":[{"filter":"datum.p=='c'&&datum.s=='of'"}],"mark":{"type":"point","opacity":0},
    "encoding":{"x":{"field":"x","type":"quantitative","axis":{"orient":"top","values":[1994,1995,1996,1997,1998,1999,2000,2001,2002,2003,2004,2005,2006,2007,2008,2009,2010,2011,2012,2013,2014,2015],"labels":false,"title":null}},
     "y":{"field":"y","type":"quantitative","axis":{"orient":"right","values":[1800,1850,1900,1950,2000,2050],"labels":false,"title":null}}}}
  ],
  "resolve":{"axis":{"x":"independent","y":"independent"}}},
 {"width":609,"height":418,
  "layer":[
   {"encoding":{
     "x":{"field":"x","type":"quantitative","scale":{"domain":[1993.64,2015.86],"nice":false,"zero":false},"axis":{"orient":"bottom","values":[1994,1995,1996,1997,1998,1999,2000,2001,2002,2003,2004,2005,2006,2007,2008,2009,2010,2011,2012,2013,2014,2015],"format":"d","labelExpr":"datum.value % 2 == 0 ? datum.label : ''","title":"Date (year)","labelPadding":6,"titlePadding":8}},
     "y":{"field":"y","type":"quantitative","scale":{"domain":[1760,2050],"nice":false,"zero":false},"axis":{"orient":"left","values":[1800,1850,1900,1950,2000,2050],"labels":false,"title":null}}},
    "layer":[
     {"transform":[{"filter":"datum.p=='d'&&datum.s=='o'"}],"mark":{"type":"circle","size":20,"color":"black","opacity":1}},
     {"transform":[{"filter":"datum.p=='d'&&datum.s=='n'"}],"mark":{"type":"point","shape":"M-1,-1L1,1M-1,1L1,-1","size":36,"color":"#0000ff","filled":false,"strokeWidth":1.3,"opacity":1}},
     {"transform":[{"filter":"datum.p=='d'&&datum.s=='m'"}],"mark":{"type":"circle","size":20,"color":"#ff0000","opacity":1}},
     {"transform":[{"filter":"datum.p=='d'&&datum.s=='oh'"}],"mark":{"type":"line","color":"black","strokeWidth":2,"strokeDash":[2,2.2],"interpolate":"monotone","clip":true}},
     {"transform":[{"filter":"datum.p=='d'&&datum.s=='ol'"}],"mark":{"type":"line","color":"black","strokeWidth":2,"strokeDash":[2,2.2],"interpolate":"monotone","clip":true}},
     {"transform":[{"filter":"datum.p=='d'&&datum.s=='of'"}],"mark":{"type":"line","color":"black","strokeWidth":2.4,"interpolate":"monotone","clip":true}},
     {"transform":[{"filter":"datum.p=='d'&&datum.s=='mh'"}],"mark":{"type":"line","color":"#ff0000","strokeWidth":2,"strokeDash":[2,2.2],"interpolate":"monotone","clip":true}},
     {"transform":[{"filter":"datum.p=='d'&&datum.s=='ml'"}],"mark":{"type":"line","color":"#ff0000","strokeWidth":2,"strokeDash":[2,2.2],"interpolate":"monotone","clip":true}},
     {"transform":[{"filter":"datum.p=='d'&&datum.s=='mf'"}],"mark":{"type":"line","color":"#ff0000","strokeWidth":2.4,"interpolate":"monotone","clip":true}},
     {"transform":[{"filter":"datum.p=='d'&&datum.s=='t'"}],"mark":{"type":"text","fontSize":20,"font":"DejaVu Sans","color":"black","align":"center","baseline":"middle"},"encoding":{"text":{"field":"t"}}},
     {"transform":[{"filter":"datum.s=='zz'"}],"mark":{"type":"point","filled":true,"opacity":1,"size":420},
      "encoding":{
       "color":{"field":"s","type":"nominal","scale":{"domain":["Obs.","Obs. (low N₂O)","ACTM"],"range":["#000000","#0000ff","#ff0000"]},"legend":{"orient":"bottom-left","title":null}},
       "shape":{"field":"s","type":"nominal","scale":{"domain":["Obs.","Obs. (low N₂O)","ACTM"],"range":["M-1.18,0.05a0.18,0.18 0 1,0 0.36,0a0.18,0.18 0 1,0 -0.36,0ZM-0.18,-0.15a0.18,0.18 0 1,0 0.36,0a0.18,0.18 0 1,0 -0.36,0ZM0.82,0.05a0.18,0.18 0 1,0 0.36,0a0.18,0.18 0 1,0 -0.36,0Z","M-1.25,-0.11L-1.16,-0.2L-0.75,0.21L-0.84,0.3ZM-1.25,0.21L-0.84,-0.2L-0.75,-0.11L-1.16,0.3ZM-0.25,-0.31L-0.16,-0.4L0.25,0.01L0.16,0.1ZM-0.25,0.01L0.16,-0.4L0.25,-0.31L-0.16,0.1ZM0.75,-0.11L0.84,-0.2L1.25,0.21L1.16,0.3ZM0.75,0.21L1.16,-0.2L1.25,-0.11L0.84,0.3Z","M-1.18,0.05a0.18,0.18 0 1,0 0.36,0a0.18,0.18 0 1,0 -0.36,0ZM-0.18,-0.15a0.18,0.18 0 1,0 0.36,0a0.18,0.18 0 1,0 -0.36,0ZM0.82,0.05a0.18,0.18 0 1,0 0.36,0a0.18,0.18 0 1,0 -0.36,0Z"]},"legend":{"orient":"bottom-left","title":null}}}}
    ]},
   {"transform":[{"filter":"datum.p=='d'&&datum.s=='of'"}],"mark":{"type":"point","opacity":0},
    "encoding":{"x":{"field":"x","type":"quantitative","axis":{"orient":"top","values":[1994,1995,1996,1997,1998,1999,2000,2001,2002,2003,2004,2005,2006,2007,2008,2009,2010,2011,2012,2013,2014,2015],"labels":false,"title":null}},
     "y":{"field":"y","type":"quantitative","axis":{"orient":"right","values":[1800,1850,1900,1950,2000,2050],"labels":false,"title":null}}}}
  ],
  "resolve":{"axis":{"x":"independent","y":"independent"}}}
]
}
